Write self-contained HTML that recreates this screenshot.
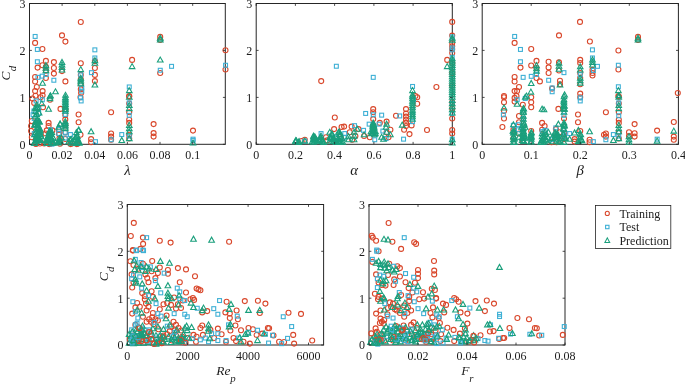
<!DOCTYPE html><html><head><meta charset="utf-8"><title>Figure</title><style>html,body{margin:0;padding:0;background:#fff}</style></head><body><svg width="685" height="384" viewBox="0 0 685 384" style="display:block;font-family:'Liberation Serif',serif">
<rect width="685" height="384" fill="#fff"/>
<rect x="29.5" y="3.5" width="195.8" height="140.8" fill="none" stroke="#262626" stroke-width="1"/>
<g><circle cx="80.8" cy="22.0" r="2.5" fill="none" stroke="#d9472b" stroke-width="1.1"/><circle cx="62.0" cy="35.4" r="2.5" fill="none" stroke="#d9472b" stroke-width="1.1"/><circle cx="65.4" cy="41.6" r="2.5" fill="none" stroke="#d9472b" stroke-width="1.1"/><circle cx="35.1" cy="42.9" r="2.5" fill="none" stroke="#d9472b" stroke-width="1.1"/><circle cx="42.4" cy="49.0" r="2.5" fill="none" stroke="#d9472b" stroke-width="1.1"/><circle cx="45.9" cy="60.9" r="2.5" fill="none" stroke="#d9472b" stroke-width="1.1"/><circle cx="53.9" cy="62.1" r="2.5" fill="none" stroke="#d9472b" stroke-width="1.1"/><circle cx="42.4" cy="65.2" r="2.5" fill="none" stroke="#d9472b" stroke-width="1.1"/><circle cx="37.6" cy="67.6" r="2.5" fill="none" stroke="#d9472b" stroke-width="1.1"/><circle cx="53.9" cy="68.0" r="2.5" fill="none" stroke="#d9472b" stroke-width="1.1"/><circle cx="53.9" cy="73.6" r="2.5" fill="none" stroke="#d9472b" stroke-width="1.1"/><circle cx="62.0" cy="71.1" r="2.5" fill="none" stroke="#d9472b" stroke-width="1.1"/><circle cx="80.8" cy="63.2" r="2.5" fill="none" stroke="#d9472b" stroke-width="1.1"/><circle cx="35.1" cy="77.0" r="2.5" fill="none" stroke="#d9472b" stroke-width="1.1"/><circle cx="35.1" cy="81.5" r="2.5" fill="none" stroke="#d9472b" stroke-width="1.1"/><circle cx="45.9" cy="78.0" r="2.5" fill="none" stroke="#d9472b" stroke-width="1.1"/><circle cx="65.4" cy="81.4" r="2.5" fill="none" stroke="#d9472b" stroke-width="1.1"/><circle cx="36.8" cy="87.0" r="2.5" fill="none" stroke="#d9472b" stroke-width="1.1"/><circle cx="35.1" cy="91.1" r="2.5" fill="none" stroke="#d9472b" stroke-width="1.1"/><circle cx="42.6" cy="91.1" r="2.5" fill="none" stroke="#d9472b" stroke-width="1.1"/><circle cx="45.9" cy="66.8" r="2.5" fill="none" stroke="#d9472b" stroke-width="1.1"/><circle cx="45.9" cy="70.8" r="2.5" fill="none" stroke="#d9472b" stroke-width="1.1"/><circle cx="80.8" cy="74.9" r="2.5" fill="none" stroke="#d9472b" stroke-width="1.1"/><circle cx="80.8" cy="79.2" r="2.5" fill="none" stroke="#d9472b" stroke-width="1.1"/><circle cx="80.8" cy="84.2" r="2.5" fill="none" stroke="#d9472b" stroke-width="1.1"/><circle cx="80.8" cy="89.2" r="2.5" fill="none" stroke="#d9472b" stroke-width="1.1"/><circle cx="81.1" cy="93.0" r="2.5" fill="none" stroke="#d9472b" stroke-width="1.1"/><circle cx="35.5" cy="95.8" r="2.5" fill="none" stroke="#d9472b" stroke-width="1.1"/><circle cx="42.6" cy="95.2" r="2.5" fill="none" stroke="#d9472b" stroke-width="1.1"/><circle cx="50.0" cy="99.8" r="2.5" fill="none" stroke="#d9472b" stroke-width="1.1"/><circle cx="32.4" cy="98.5" r="2.5" fill="none" stroke="#d9472b" stroke-width="1.1"/><circle cx="40.5" cy="97.2" r="2.5" fill="none" stroke="#d9472b" stroke-width="1.1"/><circle cx="43.0" cy="107.2" r="2.5" fill="none" stroke="#d9472b" stroke-width="1.1"/><circle cx="60.5" cy="108.9" r="2.5" fill="none" stroke="#d9472b" stroke-width="1.1"/><circle cx="78.6" cy="114.5" r="2.5" fill="none" stroke="#d9472b" stroke-width="1.1"/><circle cx="78.6" cy="122.2" r="2.5" fill="none" stroke="#d9472b" stroke-width="1.1"/><circle cx="48.6" cy="122.9" r="2.5" fill="none" stroke="#d9472b" stroke-width="1.1"/><circle cx="48.6" cy="126.0" r="2.5" fill="none" stroke="#d9472b" stroke-width="1.1"/><circle cx="46.8" cy="130.4" r="2.5" fill="none" stroke="#d9472b" stroke-width="1.1"/><circle cx="45.5" cy="133.5" r="2.5" fill="none" stroke="#d9472b" stroke-width="1.1"/><circle cx="31.1" cy="126.0" r="2.5" fill="none" stroke="#d9472b" stroke-width="1.1"/><circle cx="31.1" cy="131.0" r="2.5" fill="none" stroke="#d9472b" stroke-width="1.1"/><circle cx="80.5" cy="134.8" r="2.5" fill="none" stroke="#d9472b" stroke-width="1.1"/><circle cx="35.5" cy="143.5" r="2.5" fill="none" stroke="#d9472b" stroke-width="1.1"/><circle cx="44.2" cy="143.5" r="2.5" fill="none" stroke="#d9472b" stroke-width="1.1"/><circle cx="80.5" cy="97.2" r="2.5" fill="none" stroke="#d9472b" stroke-width="1.1"/><circle cx="34.2" cy="102.9" r="2.5" fill="none" stroke="#d9472b" stroke-width="1.1"/><circle cx="65.5" cy="109.8" r="2.5" fill="none" stroke="#d9472b" stroke-width="1.1"/><circle cx="52.4" cy="130.4" r="2.5" fill="none" stroke="#d9472b" stroke-width="1.1"/><circle cx="31.8" cy="137.2" r="2.5" fill="none" stroke="#d9472b" stroke-width="1.1"/><circle cx="31.8" cy="121.0" r="2.5" fill="none" stroke="#d9472b" stroke-width="1.1"/><circle cx="70.5" cy="144.1" r="2.5" fill="none" stroke="#d9472b" stroke-width="1.1"/><circle cx="76.8" cy="144.1" r="2.5" fill="none" stroke="#d9472b" stroke-width="1.1"/><circle cx="49.2" cy="144.1" r="2.5" fill="none" stroke="#d9472b" stroke-width="1.1"/><circle cx="65.3" cy="115.0" r="2.5" fill="none" stroke="#d9472b" stroke-width="1.1"/><circle cx="65.3" cy="119.4" r="2.5" fill="none" stroke="#d9472b" stroke-width="1.1"/><circle cx="65.3" cy="125.0" r="2.5" fill="none" stroke="#d9472b" stroke-width="1.1"/><circle cx="65.3" cy="132.5" r="2.5" fill="none" stroke="#d9472b" stroke-width="1.1"/><circle cx="65.3" cy="139.0" r="2.5" fill="none" stroke="#d9472b" stroke-width="1.1"/><circle cx="59.0" cy="130.0" r="2.5" fill="none" stroke="#d9472b" stroke-width="1.1"/><circle cx="59.0" cy="133.8" r="2.5" fill="none" stroke="#d9472b" stroke-width="1.1"/><circle cx="59.5" cy="138.0" r="2.5" fill="none" stroke="#d9472b" stroke-width="1.1"/><circle cx="72.0" cy="143.5" r="2.5" fill="none" stroke="#d9472b" stroke-width="1.1"/><circle cx="77.5" cy="143.8" r="2.5" fill="none" stroke="#d9472b" stroke-width="1.1"/><circle cx="60.0" cy="143.8" r="2.5" fill="none" stroke="#d9472b" stroke-width="1.1"/><circle cx="50.0" cy="144.0" r="2.5" fill="none" stroke="#d9472b" stroke-width="1.1"/><circle cx="36.0" cy="144.0" r="2.5" fill="none" stroke="#d9472b" stroke-width="1.1"/><circle cx="40.0" cy="143.5" r="2.5" fill="none" stroke="#d9472b" stroke-width="1.1"/><circle cx="94.9" cy="61.1" r="2.5" fill="none" stroke="#d9472b" stroke-width="1.1"/><circle cx="94.9" cy="68.0" r="2.5" fill="none" stroke="#d9472b" stroke-width="1.1"/><circle cx="94.9" cy="74.9" r="2.5" fill="none" stroke="#d9472b" stroke-width="1.1"/><circle cx="94.9" cy="81.1" r="2.5" fill="none" stroke="#d9472b" stroke-width="1.1"/><circle cx="132.1" cy="59.9" r="2.5" fill="none" stroke="#d9472b" stroke-width="1.1"/><circle cx="129.2" cy="96.0" r="2.5" fill="none" stroke="#d9472b" stroke-width="1.1"/><circle cx="111.1" cy="112.2" r="2.5" fill="none" stroke="#d9472b" stroke-width="1.1"/><circle cx="111.1" cy="133.5" r="2.5" fill="none" stroke="#d9472b" stroke-width="1.1"/><circle cx="111.1" cy="136.6" r="2.5" fill="none" stroke="#d9472b" stroke-width="1.1"/><circle cx="111.1" cy="139.8" r="2.5" fill="none" stroke="#d9472b" stroke-width="1.1"/><circle cx="91.1" cy="139.1" r="2.5" fill="none" stroke="#d9472b" stroke-width="1.1"/><circle cx="91.1" cy="142.2" r="2.5" fill="none" stroke="#d9472b" stroke-width="1.1"/><circle cx="129.2" cy="96.6" r="2.5" fill="none" stroke="#d9472b" stroke-width="1.1"/><circle cx="129.2" cy="103.5" r="2.5" fill="none" stroke="#d9472b" stroke-width="1.1"/><circle cx="129.2" cy="112.2" r="2.5" fill="none" stroke="#d9472b" stroke-width="1.1"/><circle cx="129.2" cy="119.8" r="2.5" fill="none" stroke="#d9472b" stroke-width="1.1"/><circle cx="129.2" cy="122.9" r="2.5" fill="none" stroke="#d9472b" stroke-width="1.1"/><circle cx="129.2" cy="134.8" r="2.5" fill="none" stroke="#d9472b" stroke-width="1.1"/><circle cx="129.2" cy="138.5" r="2.5" fill="none" stroke="#d9472b" stroke-width="1.1"/><circle cx="160.2" cy="36.9" r="2.5" fill="none" stroke="#d9472b" stroke-width="1.1"/><circle cx="160.2" cy="40.0" r="2.5" fill="none" stroke="#d9472b" stroke-width="1.1"/><circle cx="160.2" cy="73.0" r="2.5" fill="none" stroke="#d9472b" stroke-width="1.1"/><circle cx="225.5" cy="50.2" r="2.5" fill="none" stroke="#d9472b" stroke-width="1.1"/><circle cx="225.5" cy="69.5" r="2.5" fill="none" stroke="#d9472b" stroke-width="1.1"/><circle cx="153.6" cy="124.1" r="2.5" fill="none" stroke="#d9472b" stroke-width="1.1"/><circle cx="153.6" cy="133.1" r="2.5" fill="none" stroke="#d9472b" stroke-width="1.1"/><circle cx="153.6" cy="136.6" r="2.5" fill="none" stroke="#d9472b" stroke-width="1.1"/><circle cx="193.0" cy="130.6" r="2.5" fill="none" stroke="#d9472b" stroke-width="1.1"/><rect x="33.2" y="34.5" width="3.9" height="3.9" fill="none" stroke="#3eb0d5" stroke-width="1.1"/><rect x="35.4" y="47.5" width="3.9" height="3.9" fill="none" stroke="#3eb0d5" stroke-width="1.1"/><rect x="35.4" y="59.8" width="3.9" height="3.9" fill="none" stroke="#3eb0d5" stroke-width="1.1"/><rect x="36.0" y="75.4" width="3.9" height="3.9" fill="none" stroke="#3eb0d5" stroke-width="1.1"/><rect x="40.2" y="74.2" width="3.9" height="3.9" fill="none" stroke="#3eb0d5" stroke-width="1.1"/><rect x="44.2" y="72.5" width="3.9" height="3.9" fill="none" stroke="#3eb0d5" stroke-width="1.1"/><rect x="51.9" y="78.3" width="3.9" height="3.9" fill="none" stroke="#3eb0d5" stroke-width="1.1"/><rect x="78.8" y="72.9" width="3.9" height="3.9" fill="none" stroke="#3eb0d5" stroke-width="1.1"/><rect x="79.8" y="86.0" width="3.9" height="3.9" fill="none" stroke="#3eb0d5" stroke-width="1.1"/><rect x="79.8" y="89.2" width="3.9" height="3.9" fill="none" stroke="#3eb0d5" stroke-width="1.1"/><rect x="34.2" y="99.0" width="3.9" height="3.9" fill="none" stroke="#3eb0d5" stroke-width="1.1"/><rect x="40.4" y="97.8" width="3.9" height="3.9" fill="none" stroke="#3eb0d5" stroke-width="1.1"/><rect x="31.1" y="112.8" width="3.9" height="3.9" fill="none" stroke="#3eb0d5" stroke-width="1.1"/><rect x="32.3" y="116.5" width="3.9" height="3.9" fill="none" stroke="#3eb0d5" stroke-width="1.1"/><rect x="78.5" y="95.9" width="3.9" height="3.9" fill="none" stroke="#3eb0d5" stroke-width="1.1"/><rect x="79.2" y="99.0" width="3.9" height="3.9" fill="none" stroke="#3eb0d5" stroke-width="1.1"/><rect x="32.0" y="109.0" width="3.9" height="3.9" fill="none" stroke="#3eb0d5" stroke-width="1.1"/><rect x="36.7" y="107.2" width="3.9" height="3.9" fill="none" stroke="#3eb0d5" stroke-width="1.1"/><rect x="36.7" y="111.5" width="3.9" height="3.9" fill="none" stroke="#3eb0d5" stroke-width="1.1"/><rect x="32.3" y="131.6" width="3.9" height="3.9" fill="none" stroke="#3eb0d5" stroke-width="1.1"/><rect x="48.5" y="127.8" width="3.9" height="3.9" fill="none" stroke="#3eb0d5" stroke-width="1.1"/><rect x="63.3" y="112.5" width="3.9" height="3.9" fill="none" stroke="#3eb0d5" stroke-width="1.1"/><rect x="63.3" y="130.4" width="3.9" height="3.9" fill="none" stroke="#3eb0d5" stroke-width="1.1"/><rect x="63.3" y="136.1" width="3.9" height="3.9" fill="none" stroke="#3eb0d5" stroke-width="1.1"/><rect x="57.0" y="127.5" width="3.9" height="3.9" fill="none" stroke="#3eb0d5" stroke-width="1.1"/><rect x="57.0" y="131.6" width="3.9" height="3.9" fill="none" stroke="#3eb0d5" stroke-width="1.1"/><rect x="68.5" y="132.6" width="3.9" height="3.9" fill="none" stroke="#3eb0d5" stroke-width="1.1"/><rect x="50.0" y="142.2" width="3.9" height="3.9" fill="none" stroke="#3eb0d5" stroke-width="1.1"/><rect x="92.9" y="47.9" width="3.9" height="3.9" fill="none" stroke="#3eb0d5" stroke-width="1.1"/><rect x="92.9" y="56.0" width="3.9" height="3.9" fill="none" stroke="#3eb0d5" stroke-width="1.1"/><rect x="89.5" y="70.7" width="3.9" height="3.9" fill="none" stroke="#3eb0d5" stroke-width="1.1"/><rect x="127.3" y="85.0" width="3.9" height="3.9" fill="none" stroke="#3eb0d5" stroke-width="1.1"/><rect x="119.8" y="132.6" width="3.9" height="3.9" fill="none" stroke="#3eb0d5" stroke-width="1.1"/><rect x="109.2" y="137.8" width="3.9" height="3.9" fill="none" stroke="#3eb0d5" stroke-width="1.1"/><rect x="93.5" y="139.7" width="3.9" height="3.9" fill="none" stroke="#3eb0d5" stroke-width="1.1"/><rect x="127.3" y="100.9" width="3.9" height="3.9" fill="none" stroke="#3eb0d5" stroke-width="1.1"/><rect x="127.3" y="113.4" width="3.9" height="3.9" fill="none" stroke="#3eb0d5" stroke-width="1.1"/><rect x="127.3" y="134.1" width="3.9" height="3.9" fill="none" stroke="#3eb0d5" stroke-width="1.1"/><rect x="169.6" y="64.4" width="3.9" height="3.9" fill="none" stroke="#3eb0d5" stroke-width="1.1"/><rect x="158.3" y="68.3" width="3.9" height="3.9" fill="none" stroke="#3eb0d5" stroke-width="1.1"/><rect x="223.6" y="63.3" width="3.9" height="3.9" fill="none" stroke="#3eb0d5" stroke-width="1.1"/><rect x="191.1" y="137.2" width="3.9" height="3.9" fill="none" stroke="#3eb0d5" stroke-width="1.1"/><rect x="191.1" y="138.4" width="3.9" height="3.9" fill="none" stroke="#3eb0d5" stroke-width="1.1"/><path d="M43.1 67.6L48.7 67.6L45.9 62.6Z" fill="none" stroke="#1a9f7c" stroke-width="1.1"/><path d="M43.1 70.1L48.7 70.1L45.9 65.1Z" fill="none" stroke="#1a9f7c" stroke-width="1.1"/><path d="M43.1 72.6L48.7 72.6L45.9 67.6Z" fill="none" stroke="#1a9f7c" stroke-width="1.1"/><path d="M59.2 64.5L64.8 64.5L62.0 59.5Z" fill="none" stroke="#1a9f7c" stroke-width="1.1"/><path d="M59.2 67.0L64.8 67.0L62.0 62.0Z" fill="none" stroke="#1a9f7c" stroke-width="1.1"/><path d="M59.2 69.5L64.8 69.5L62.0 64.5Z" fill="none" stroke="#1a9f7c" stroke-width="1.1"/><path d="M59.2 72.0L64.8 72.0L62.0 67.0Z" fill="none" stroke="#1a9f7c" stroke-width="1.1"/><path d="M78.0 71.6L83.5 71.6L80.8 66.6Z" fill="none" stroke="#1a9f7c" stroke-width="1.1"/><path d="M78.0 80.1L83.5 80.1L80.8 75.1Z" fill="none" stroke="#1a9f7c" stroke-width="1.1"/><path d="M78.0 82.0L83.5 82.0L80.8 77.0Z" fill="none" stroke="#1a9f7c" stroke-width="1.1"/><path d="M78.0 83.8L83.5 83.8L80.8 78.8Z" fill="none" stroke="#1a9f7c" stroke-width="1.1"/><path d="M78.0 85.7L83.5 85.7L80.8 80.7Z" fill="none" stroke="#1a9f7c" stroke-width="1.1"/><path d="M39.8 85.3L45.4 85.3L42.6 80.3Z" fill="none" stroke="#1a9f7c" stroke-width="1.1"/><path d="M52.7 93.8L58.3 93.8L55.5 88.8Z" fill="none" stroke="#1a9f7c" stroke-width="1.1"/><path d="M47.7 97.8L53.3 97.8L50.5 92.8Z" fill="none" stroke="#1a9f7c" stroke-width="1.1"/><path d="M62.7 97.3L68.3 97.3L65.5 92.3Z" fill="none" stroke="#1a9f7c" stroke-width="1.1"/><path d="M45.8 111.2L51.4 111.2L48.6 106.2Z" fill="none" stroke="#1a9f7c" stroke-width="1.1"/><path d="M57.5 126.2L63.0 126.2L60.2 121.2Z" fill="none" stroke="#1a9f7c" stroke-width="1.1"/><path d="M55.8 129.3L61.4 129.3L58.6 124.3Z" fill="none" stroke="#1a9f7c" stroke-width="1.1"/><path d="M39.0 105.6L44.5 105.6L41.8 100.6Z" fill="none" stroke="#1a9f7c" stroke-width="1.1"/><path d="M34.0 106.8L39.5 106.8L36.8 101.8Z" fill="none" stroke="#1a9f7c" stroke-width="1.1"/><path d="M75.8 132.5L81.4 132.5L78.6 127.5Z" fill="none" stroke="#1a9f7c" stroke-width="1.1"/><path d="M47.2 98.7L52.8 98.7L50.0 93.7Z" fill="none" stroke="#1a9f7c" stroke-width="1.1"/><path d="M47.2 100.6L52.8 100.6L50.0 95.6Z" fill="none" stroke="#1a9f7c" stroke-width="1.1"/><path d="M32.8 113.6L38.4 113.6L35.6 108.6Z" fill="none" stroke="#1a9f7c" stroke-width="1.1"/><path d="M32.4 118.2L38.0 118.2L35.2 113.2Z" fill="none" stroke="#1a9f7c" stroke-width="1.1"/><path d="M33.9 116.6L39.5 116.6L36.7 111.6Z" fill="none" stroke="#1a9f7c" stroke-width="1.1"/><path d="M34.6 109.9L40.2 109.9L37.4 104.9Z" fill="none" stroke="#1a9f7c" stroke-width="1.1"/><path d="M34.2 109.6L39.8 109.6L37.0 104.6Z" fill="none" stroke="#1a9f7c" stroke-width="1.1"/><path d="M32.5 110.1L38.1 110.1L35.3 105.1Z" fill="none" stroke="#1a9f7c" stroke-width="1.1"/><path d="M36.3 115.0L41.9 115.0L39.1 110.0Z" fill="none" stroke="#1a9f7c" stroke-width="1.1"/><path d="M33.2 110.8L38.8 110.8L36.0 105.8Z" fill="none" stroke="#1a9f7c" stroke-width="1.1"/><path d="M38.0 138.3L43.6 138.3L40.8 133.3Z" fill="none" stroke="#1a9f7c" stroke-width="1.1"/><path d="M34.0 137.2L39.6 137.2L36.8 132.2Z" fill="none" stroke="#1a9f7c" stroke-width="1.1"/><path d="M31.4 145.2L37.0 145.2L34.2 140.2Z" fill="none" stroke="#1a9f7c" stroke-width="1.1"/><path d="M33.2 143.0L38.8 143.0L36.0 138.0Z" fill="none" stroke="#1a9f7c" stroke-width="1.1"/><path d="M32.0 126.6L37.6 126.6L34.8 121.6Z" fill="none" stroke="#1a9f7c" stroke-width="1.1"/><path d="M37.1 131.0L42.7 131.0L39.9 126.0Z" fill="none" stroke="#1a9f7c" stroke-width="1.1"/><path d="M35.4 127.7L40.9 127.7L38.1 122.7Z" fill="none" stroke="#1a9f7c" stroke-width="1.1"/><path d="M33.8 138.5L39.4 138.5L36.6 133.5Z" fill="none" stroke="#1a9f7c" stroke-width="1.1"/><path d="M31.6 136.6L37.2 136.6L34.4 131.6Z" fill="none" stroke="#1a9f7c" stroke-width="1.1"/><path d="M32.6 123.9L38.2 123.9L35.4 118.9Z" fill="none" stroke="#1a9f7c" stroke-width="1.1"/><path d="M34.2 139.4L39.8 139.4L37.0 134.4Z" fill="none" stroke="#1a9f7c" stroke-width="1.1"/><path d="M35.4 131.2L41.0 131.2L38.2 126.2Z" fill="none" stroke="#1a9f7c" stroke-width="1.1"/><path d="M33.3 134.5L38.9 134.5L36.1 129.5Z" fill="none" stroke="#1a9f7c" stroke-width="1.1"/><path d="M36.2 141.7L41.8 141.7L39.0 136.7Z" fill="none" stroke="#1a9f7c" stroke-width="1.1"/><path d="M35.3 129.4L40.9 129.4L38.1 124.4Z" fill="none" stroke="#1a9f7c" stroke-width="1.1"/><path d="M37.5 136.1L43.1 136.1L40.3 131.1Z" fill="none" stroke="#1a9f7c" stroke-width="1.1"/><path d="M33.2 140.4L38.8 140.4L36.0 135.4Z" fill="none" stroke="#1a9f7c" stroke-width="1.1"/><path d="M32.0 145.3L37.6 145.3L34.8 140.3Z" fill="none" stroke="#1a9f7c" stroke-width="1.1"/><path d="M36.6 133.7L42.2 133.7L39.4 128.7Z" fill="none" stroke="#1a9f7c" stroke-width="1.1"/><path d="M34.7 126.9L40.3 126.9L37.5 121.9Z" fill="none" stroke="#1a9f7c" stroke-width="1.1"/><path d="M36.0 123.1L41.6 123.1L38.8 118.1Z" fill="none" stroke="#1a9f7c" stroke-width="1.1"/><path d="M35.3 141.1L40.9 141.1L38.1 136.1Z" fill="none" stroke="#1a9f7c" stroke-width="1.1"/><path d="M33.4 143.3L39.0 143.3L36.2 138.3Z" fill="none" stroke="#1a9f7c" stroke-width="1.1"/><path d="M35.4 139.7L41.0 139.7L38.2 134.7Z" fill="none" stroke="#1a9f7c" stroke-width="1.1"/><path d="M34.4 137.3L40.0 137.3L37.2 132.3Z" fill="none" stroke="#1a9f7c" stroke-width="1.1"/><path d="M38.0 142.6L43.6 142.6L40.8 137.6Z" fill="none" stroke="#1a9f7c" stroke-width="1.1"/><path d="M36.0 134.9L41.5 134.9L38.8 129.9Z" fill="none" stroke="#1a9f7c" stroke-width="1.1"/><path d="M36.2 123.9L41.8 123.9L39.0 118.9Z" fill="none" stroke="#1a9f7c" stroke-width="1.1"/><path d="M38.4 138.7L43.9 138.7L41.1 133.7Z" fill="none" stroke="#1a9f7c" stroke-width="1.1"/><path d="M33.2 142.3L38.8 142.3L36.0 137.3Z" fill="none" stroke="#1a9f7c" stroke-width="1.1"/><path d="M36.0 132.9L41.6 132.9L38.8 127.9Z" fill="none" stroke="#1a9f7c" stroke-width="1.1"/><path d="M34.5 122.4L40.1 122.4L37.3 117.4Z" fill="none" stroke="#1a9f7c" stroke-width="1.1"/><path d="M31.9 127.3L37.5 127.3L34.8 122.3Z" fill="none" stroke="#1a9f7c" stroke-width="1.1"/><path d="M36.7 123.9L42.3 123.9L39.5 118.9Z" fill="none" stroke="#1a9f7c" stroke-width="1.1"/><path d="M32.9 126.2L38.5 126.2L35.7 121.2Z" fill="none" stroke="#1a9f7c" stroke-width="1.1"/><path d="M37.5 133.0L43.1 133.0L40.3 128.0Z" fill="none" stroke="#1a9f7c" stroke-width="1.1"/><path d="M34.4 124.6L40.0 124.6L37.2 119.6Z" fill="none" stroke="#1a9f7c" stroke-width="1.1"/><path d="M37.6 136.6L43.1 136.6L40.4 131.6Z" fill="none" stroke="#1a9f7c" stroke-width="1.1"/><path d="M37.4 142.2L43.0 142.2L40.2 137.2Z" fill="none" stroke="#1a9f7c" stroke-width="1.1"/><path d="M34.1 130.3L39.7 130.3L36.9 125.3Z" fill="none" stroke="#1a9f7c" stroke-width="1.1"/><path d="M50.4 139.9L56.0 139.9L53.2 134.9Z" fill="none" stroke="#1a9f7c" stroke-width="1.1"/><path d="M44.0 145.4L49.6 145.4L46.8 140.4Z" fill="none" stroke="#1a9f7c" stroke-width="1.1"/><path d="M46.2 137.5L51.8 137.5L49.0 132.5Z" fill="none" stroke="#1a9f7c" stroke-width="1.1"/><path d="M47.6 138.4L53.2 138.4L50.4 133.4Z" fill="none" stroke="#1a9f7c" stroke-width="1.1"/><path d="M45.7 142.3L51.3 142.3L48.5 137.3Z" fill="none" stroke="#1a9f7c" stroke-width="1.1"/><path d="M47.5 133.6L53.1 133.6L50.3 128.6Z" fill="none" stroke="#1a9f7c" stroke-width="1.1"/><path d="M48.2 140.0L53.8 140.0L51.0 135.0Z" fill="none" stroke="#1a9f7c" stroke-width="1.1"/><path d="M49.7 145.3L55.3 145.3L52.5 140.3Z" fill="none" stroke="#1a9f7c" stroke-width="1.1"/><path d="M48.7 141.6L54.3 141.6L51.5 136.6Z" fill="none" stroke="#1a9f7c" stroke-width="1.1"/><path d="M43.6 143.1L49.2 143.1L46.4 138.1Z" fill="none" stroke="#1a9f7c" stroke-width="1.1"/><path d="M50.6 144.9L56.2 144.9L53.4 139.9Z" fill="none" stroke="#1a9f7c" stroke-width="1.1"/><path d="M50.7 144.7L56.3 144.7L53.5 139.7Z" fill="none" stroke="#1a9f7c" stroke-width="1.1"/><path d="M47.0 140.3L52.6 140.3L49.8 135.3Z" fill="none" stroke="#1a9f7c" stroke-width="1.1"/><path d="M48.3 136.3L53.9 136.3L51.1 131.3Z" fill="none" stroke="#1a9f7c" stroke-width="1.1"/><path d="M45.9 135.5L51.5 135.5L48.7 130.5Z" fill="none" stroke="#1a9f7c" stroke-width="1.1"/><path d="M45.7 138.0L51.3 138.0L48.5 133.0Z" fill="none" stroke="#1a9f7c" stroke-width="1.1"/><path d="M44.6 139.7L50.2 139.7L47.4 134.7Z" fill="none" stroke="#1a9f7c" stroke-width="1.1"/><path d="M46.7 133.2L52.3 133.2L49.5 128.2Z" fill="none" stroke="#1a9f7c" stroke-width="1.1"/><path d="M47.1 136.3L52.6 136.3L49.9 131.3Z" fill="none" stroke="#1a9f7c" stroke-width="1.1"/><path d="M49.1 134.5L54.6 134.5L51.9 129.5Z" fill="none" stroke="#1a9f7c" stroke-width="1.1"/><path d="M44.6 142.5L50.2 142.5L47.4 137.5Z" fill="none" stroke="#1a9f7c" stroke-width="1.1"/><path d="M46.8 138.6L52.3 138.6L49.5 133.6Z" fill="none" stroke="#1a9f7c" stroke-width="1.1"/><path d="M45.0 140.0L50.6 140.0L47.8 135.0Z" fill="none" stroke="#1a9f7c" stroke-width="1.1"/><path d="M52.7 144.5L58.2 144.5L55.5 139.5Z" fill="none" stroke="#1a9f7c" stroke-width="1.1"/><path d="M57.6 143.3L63.2 143.3L60.4 138.3Z" fill="none" stroke="#1a9f7c" stroke-width="1.1"/><path d="M56.7 140.6L62.3 140.6L59.5 135.6Z" fill="none" stroke="#1a9f7c" stroke-width="1.1"/><path d="M56.8 142.6L62.4 142.6L59.6 137.6Z" fill="none" stroke="#1a9f7c" stroke-width="1.1"/><path d="M55.8 145.0L61.4 145.0L58.6 140.0Z" fill="none" stroke="#1a9f7c" stroke-width="1.1"/><path d="M58.6 139.8L64.2 139.8L61.4 134.8Z" fill="none" stroke="#1a9f7c" stroke-width="1.1"/><path d="M56.1 143.6L61.7 143.6L58.9 138.6Z" fill="none" stroke="#1a9f7c" stroke-width="1.1"/><path d="M66.0 143.7L71.5 143.7L68.8 138.7Z" fill="none" stroke="#1a9f7c" stroke-width="1.1"/><path d="M69.5 143.6L75.0 143.6L72.2 138.6Z" fill="none" stroke="#1a9f7c" stroke-width="1.1"/><path d="M68.6 145.1L74.2 145.1L71.4 140.1Z" fill="none" stroke="#1a9f7c" stroke-width="1.1"/><path d="M67.3 142.0L72.9 142.0L70.1 137.0Z" fill="none" stroke="#1a9f7c" stroke-width="1.1"/><path d="M68.4 141.4L74.0 141.4L71.2 136.4Z" fill="none" stroke="#1a9f7c" stroke-width="1.1"/><path d="M75.1 141.7L80.7 141.7L77.9 136.7Z" fill="none" stroke="#1a9f7c" stroke-width="1.1"/><path d="M73.1 139.6L78.7 139.6L75.9 134.6Z" fill="none" stroke="#1a9f7c" stroke-width="1.1"/><path d="M76.3 144.2L81.9 144.2L79.1 139.2Z" fill="none" stroke="#1a9f7c" stroke-width="1.1"/><path d="M75.5 144.5L81.1 144.5L78.3 139.5Z" fill="none" stroke="#1a9f7c" stroke-width="1.1"/><path d="M75.1 144.3L80.7 144.3L77.9 139.3Z" fill="none" stroke="#1a9f7c" stroke-width="1.1"/><path d="M74.0 138.3L79.6 138.3L76.8 133.3Z" fill="none" stroke="#1a9f7c" stroke-width="1.1"/><path d="M72.4 139.9L78.0 139.9L75.2 134.9Z" fill="none" stroke="#1a9f7c" stroke-width="1.1"/><path d="M73.6 134.6L79.2 134.6L76.4 129.6Z" fill="none" stroke="#1a9f7c" stroke-width="1.1"/><path d="M74.6 138.7L80.2 138.7L77.4 133.7Z" fill="none" stroke="#1a9f7c" stroke-width="1.1"/><path d="M73.7 145.4L79.3 145.4L76.5 140.4Z" fill="none" stroke="#1a9f7c" stroke-width="1.1"/><path d="M76.5 145.2L82.1 145.2L79.3 140.2Z" fill="none" stroke="#1a9f7c" stroke-width="1.1"/><path d="M62.6 99.6L68.2 99.6L65.4 94.6Z" fill="none" stroke="#1a9f7c" stroke-width="1.1"/><path d="M62.6 101.3L68.2 101.3L65.4 96.3Z" fill="none" stroke="#1a9f7c" stroke-width="1.1"/><path d="M62.6 103.0L68.2 103.0L65.4 98.0Z" fill="none" stroke="#1a9f7c" stroke-width="1.1"/><path d="M62.6 104.7L68.2 104.7L65.4 99.7Z" fill="none" stroke="#1a9f7c" stroke-width="1.1"/><path d="M62.6 106.4L68.2 106.4L65.4 101.4Z" fill="none" stroke="#1a9f7c" stroke-width="1.1"/><path d="M62.6 108.1L68.2 108.1L65.4 103.1Z" fill="none" stroke="#1a9f7c" stroke-width="1.1"/><path d="M62.6 109.8L68.2 109.8L65.4 104.8Z" fill="none" stroke="#1a9f7c" stroke-width="1.1"/><path d="M62.6 111.5L68.2 111.5L65.4 106.5Z" fill="none" stroke="#1a9f7c" stroke-width="1.1"/><path d="M62.6 113.2L68.2 113.2L65.4 108.2Z" fill="none" stroke="#1a9f7c" stroke-width="1.1"/><path d="M62.5 123.6L68.1 123.6L65.3 118.6Z" fill="none" stroke="#1a9f7c" stroke-width="1.1"/><path d="M62.5 125.4L68.1 125.4L65.3 120.4Z" fill="none" stroke="#1a9f7c" stroke-width="1.1"/><path d="M62.5 127.1L68.1 127.1L65.3 122.1Z" fill="none" stroke="#1a9f7c" stroke-width="1.1"/><path d="M62.5 128.9L68.1 128.9L65.3 123.9Z" fill="none" stroke="#1a9f7c" stroke-width="1.1"/><path d="M62.5 130.6L68.1 130.6L65.3 125.6Z" fill="none" stroke="#1a9f7c" stroke-width="1.1"/><path d="M57.2 126.1L62.8 126.1L60.0 121.1Z" fill="none" stroke="#1a9f7c" stroke-width="1.1"/><path d="M76.0 132.1L81.6 132.1L78.8 127.1Z" fill="none" stroke="#1a9f7c" stroke-width="1.1"/><path d="M92.1 62.6L97.7 62.6L94.9 57.6Z" fill="none" stroke="#1a9f7c" stroke-width="1.1"/><path d="M92.1 65.3L97.7 65.3L94.9 60.4Z" fill="none" stroke="#1a9f7c" stroke-width="1.1"/><path d="M92.1 87.0L97.7 87.0L94.9 82.0Z" fill="none" stroke="#1a9f7c" stroke-width="1.1"/><path d="M129.3 68.6L134.9 68.6L132.1 63.6Z" fill="none" stroke="#1a9f7c" stroke-width="1.1"/><path d="M126.5 92.6L132.1 92.6L129.2 87.6Z" fill="none" stroke="#1a9f7c" stroke-width="1.1"/><path d="M88.3 133.7L93.9 133.7L91.1 128.7Z" fill="none" stroke="#1a9f7c" stroke-width="1.1"/><path d="M119.0 142.5L124.5 142.5L121.8 137.5Z" fill="none" stroke="#1a9f7c" stroke-width="1.1"/><path d="M126.5 99.3L132.1 99.3L129.2 94.3Z" fill="none" stroke="#1a9f7c" stroke-width="1.1"/><path d="M126.5 107.5L132.1 107.5L129.2 102.5Z" fill="none" stroke="#1a9f7c" stroke-width="1.1"/><path d="M126.5 110.6L132.1 110.6L129.2 105.6Z" fill="none" stroke="#1a9f7c" stroke-width="1.1"/><path d="M126.5 127.5L132.1 127.5L129.2 122.5Z" fill="none" stroke="#1a9f7c" stroke-width="1.1"/><path d="M126.5 130.6L132.1 130.6L129.2 125.6Z" fill="none" stroke="#1a9f7c" stroke-width="1.1"/><path d="M126.5 133.7L132.1 133.7L129.2 128.7Z" fill="none" stroke="#1a9f7c" stroke-width="1.1"/><path d="M126.5 140.6L132.1 140.6L129.2 135.6Z" fill="none" stroke="#1a9f7c" stroke-width="1.1"/><path d="M157.4 40.2L163.1 40.2L160.2 35.2Z" fill="none" stroke="#1a9f7c" stroke-width="1.1"/><path d="M157.4 41.9L163.1 41.9L160.2 36.9Z" fill="none" stroke="#1a9f7c" stroke-width="1.1"/><path d="M157.4 62.0L163.1 62.0L160.2 57.0Z" fill="none" stroke="#1a9f7c" stroke-width="1.1"/><path d="M190.2 145.0L195.8 145.0L193.0 140.0Z" fill="none" stroke="#1a9f7c" stroke-width="1.1"/></g>
<path d="M29.5 144.3v-2.4M29.5 3.5v2.4" stroke="#222" stroke-width="0.8"/><text x="29.5" y="159.1" font-size="12" text-anchor="middle" fill="#1c1c1c">0</text><path d="M62.1 144.3v-2.4M62.1 3.5v2.4" stroke="#222" stroke-width="0.8"/><text x="62.1" y="159.1" font-size="12" text-anchor="middle" fill="#1c1c1c">0.02</text><path d="M94.8 144.3v-2.4M94.8 3.5v2.4" stroke="#222" stroke-width="0.8"/><text x="94.8" y="159.1" font-size="12" text-anchor="middle" fill="#1c1c1c">0.04</text><path d="M127.4 144.3v-2.4M127.4 3.5v2.4" stroke="#222" stroke-width="0.8"/><text x="127.4" y="159.1" font-size="12" text-anchor="middle" fill="#1c1c1c">0.06</text><path d="M160.0 144.3v-2.4M160.0 3.5v2.4" stroke="#222" stroke-width="0.8"/><text x="160.0" y="159.1" font-size="12" text-anchor="middle" fill="#1c1c1c">0.08</text><path d="M192.7 144.3v-2.4M192.7 3.5v2.4" stroke="#222" stroke-width="0.8"/><text x="192.7" y="159.1" font-size="12" text-anchor="middle" fill="#1c1c1c">0.1</text><path d="M29.5 144.3h2.4M225.3 144.3h-2.4" stroke="#222" stroke-width="0.8"/><text x="25.6" y="148.7" font-size="12" text-anchor="end" fill="#1c1c1c">0</text><path d="M29.5 97.4h2.4M225.3 97.4h-2.4" stroke="#222" stroke-width="0.8"/><text x="25.6" y="101.8" font-size="12" text-anchor="end" fill="#1c1c1c">1</text><path d="M29.5 50.4h2.4M225.3 50.4h-2.4" stroke="#222" stroke-width="0.8"/><text x="25.6" y="54.8" font-size="12" text-anchor="end" fill="#1c1c1c">2</text><path d="M29.5 3.5h2.4M225.3 3.5h-2.4" stroke="#222" stroke-width="0.8"/><text x="25.6" y="7.9" font-size="12" text-anchor="end" fill="#1c1c1c">3</text><text x="127.4" y="174.5" font-size="14.8" font-style="italic" text-anchor="middle" fill="#1c1c1c">λ</text><text transform="translate(9.7,73.1) rotate(-90)" font-size="13.4" font-style="italic" text-anchor="middle" fill="#1c1c1c">C<tspan font-size="10.8" dx="0.3" dy="6">d</tspan></text>
<rect x="256.2" y="3.5" width="196.1" height="140.8" fill="none" stroke="#262626" stroke-width="1"/>
<g><circle cx="334.8" cy="117.5" r="2.5" fill="none" stroke="#d9472b" stroke-width="1.1"/><circle cx="341.6" cy="127.0" r="2.5" fill="none" stroke="#d9472b" stroke-width="1.1"/><circle cx="344.1" cy="126.6" r="2.5" fill="none" stroke="#d9472b" stroke-width="1.1"/><circle cx="334.1" cy="129.1" r="2.5" fill="none" stroke="#d9472b" stroke-width="1.1"/><circle cx="304.8" cy="139.8" r="2.5" fill="none" stroke="#d9472b" stroke-width="1.1"/><circle cx="301.6" cy="141.0" r="2.5" fill="none" stroke="#d9472b" stroke-width="1.1"/><circle cx="326.0" cy="137.2" r="2.5" fill="none" stroke="#d9472b" stroke-width="1.1"/><circle cx="327.2" cy="140.4" r="2.5" fill="none" stroke="#d9472b" stroke-width="1.1"/><circle cx="341.0" cy="138.5" r="2.5" fill="none" stroke="#d9472b" stroke-width="1.1"/><circle cx="373.2" cy="109.1" r="2.5" fill="none" stroke="#d9472b" stroke-width="1.1"/><circle cx="373.2" cy="112.2" r="2.5" fill="none" stroke="#d9472b" stroke-width="1.1"/><circle cx="373.2" cy="119.1" r="2.5" fill="none" stroke="#d9472b" stroke-width="1.1"/><circle cx="379.8" cy="122.9" r="2.5" fill="none" stroke="#d9472b" stroke-width="1.1"/><circle cx="386.6" cy="121.6" r="2.5" fill="none" stroke="#d9472b" stroke-width="1.1"/><circle cx="396.0" cy="115.8" r="2.5" fill="none" stroke="#d9472b" stroke-width="1.1"/><circle cx="351.6" cy="126.6" r="2.5" fill="none" stroke="#d9472b" stroke-width="1.1"/><circle cx="358.5" cy="129.1" r="2.5" fill="none" stroke="#d9472b" stroke-width="1.1"/><circle cx="349.8" cy="132.2" r="2.5" fill="none" stroke="#d9472b" stroke-width="1.1"/><circle cx="355.4" cy="136.0" r="2.5" fill="none" stroke="#d9472b" stroke-width="1.1"/><circle cx="364.1" cy="136.0" r="2.5" fill="none" stroke="#d9472b" stroke-width="1.1"/><circle cx="390.4" cy="129.8" r="2.5" fill="none" stroke="#d9472b" stroke-width="1.1"/><circle cx="386.6" cy="132.2" r="2.5" fill="none" stroke="#d9472b" stroke-width="1.1"/><circle cx="404.1" cy="129.8" r="2.5" fill="none" stroke="#d9472b" stroke-width="1.1"/><circle cx="406.0" cy="109.1" r="2.5" fill="none" stroke="#d9472b" stroke-width="1.1"/><circle cx="406.0" cy="113.5" r="2.5" fill="none" stroke="#d9472b" stroke-width="1.1"/><circle cx="406.0" cy="116.6" r="2.5" fill="none" stroke="#d9472b" stroke-width="1.1"/><circle cx="352.2" cy="139.8" r="2.5" fill="none" stroke="#d9472b" stroke-width="1.1"/><circle cx="369.8" cy="137.2" r="2.5" fill="none" stroke="#d9472b" stroke-width="1.1"/><circle cx="388.5" cy="137.2" r="2.5" fill="none" stroke="#d9472b" stroke-width="1.1"/><circle cx="406.0" cy="119.8" r="2.5" fill="none" stroke="#d9472b" stroke-width="1.1"/><circle cx="406.0" cy="122.9" r="2.5" fill="none" stroke="#d9472b" stroke-width="1.1"/><circle cx="406.0" cy="126.0" r="2.5" fill="none" stroke="#d9472b" stroke-width="1.1"/><circle cx="417.2" cy="103.8" r="2.5" fill="none" stroke="#d9472b" stroke-width="1.1"/><circle cx="417.2" cy="97.2" r="2.5" fill="none" stroke="#d9472b" stroke-width="1.1"/><circle cx="411.6" cy="125.4" r="2.5" fill="none" stroke="#d9472b" stroke-width="1.1"/><circle cx="409.5" cy="134.1" r="2.5" fill="none" stroke="#d9472b" stroke-width="1.1"/><circle cx="427.0" cy="130.0" r="2.5" fill="none" stroke="#d9472b" stroke-width="1.1"/><circle cx="452.2" cy="118.5" r="2.5" fill="none" stroke="#d9472b" stroke-width="1.1"/><circle cx="452.2" cy="130.0" r="2.5" fill="none" stroke="#d9472b" stroke-width="1.1"/><circle cx="452.2" cy="133.5" r="2.5" fill="none" stroke="#d9472b" stroke-width="1.1"/><circle cx="452.2" cy="102.2" r="2.5" fill="none" stroke="#d9472b" stroke-width="1.1"/><circle cx="452.2" cy="108.5" r="2.5" fill="none" stroke="#d9472b" stroke-width="1.1"/><circle cx="321.2" cy="81.1" r="2.5" fill="none" stroke="#d9472b" stroke-width="1.1"/><circle cx="447.2" cy="59.9" r="2.5" fill="none" stroke="#d9472b" stroke-width="1.1"/><circle cx="436.4" cy="87.0" r="2.5" fill="none" stroke="#d9472b" stroke-width="1.1"/><circle cx="415.4" cy="96.0" r="2.5" fill="none" stroke="#d9472b" stroke-width="1.1"/><circle cx="452.2" cy="49.2" r="2.5" fill="none" stroke="#d9472b" stroke-width="1.1"/><circle cx="452.2" cy="53.0" r="2.5" fill="none" stroke="#d9472b" stroke-width="1.1"/><circle cx="452.2" cy="63.0" r="2.5" fill="none" stroke="#d9472b" stroke-width="1.1"/><circle cx="452.2" cy="73.0" r="2.5" fill="none" stroke="#d9472b" stroke-width="1.1"/><circle cx="452.2" cy="85.5" r="2.5" fill="none" stroke="#d9472b" stroke-width="1.1"/><circle cx="452.2" cy="21.9" r="2.5" fill="none" stroke="#d9472b" stroke-width="1.1"/><circle cx="452.2" cy="35.6" r="2.5" fill="none" stroke="#d9472b" stroke-width="1.1"/><circle cx="452.2" cy="43.1" r="2.5" fill="none" stroke="#d9472b" stroke-width="1.1"/><circle cx="452.2" cy="46.2" r="2.5" fill="none" stroke="#d9472b" stroke-width="1.1"/><rect x="302.8" y="139.1" width="3.9" height="3.9" fill="none" stroke="#3eb0d5" stroke-width="1.1"/><rect x="319.1" y="131.6" width="3.9" height="3.9" fill="none" stroke="#3eb0d5" stroke-width="1.1"/><rect x="329.1" y="137.2" width="3.9" height="3.9" fill="none" stroke="#3eb0d5" stroke-width="1.1"/><rect x="334.1" y="135.3" width="3.9" height="3.9" fill="none" stroke="#3eb0d5" stroke-width="1.1"/><rect x="342.2" y="135.3" width="3.9" height="3.9" fill="none" stroke="#3eb0d5" stroke-width="1.1"/><rect x="342.8" y="131.6" width="3.9" height="3.9" fill="none" stroke="#3eb0d5" stroke-width="1.1"/><rect x="363.7" y="111.5" width="3.9" height="3.9" fill="none" stroke="#3eb0d5" stroke-width="1.1"/><rect x="371.3" y="112.8" width="3.9" height="3.9" fill="none" stroke="#3eb0d5" stroke-width="1.1"/><rect x="379.7" y="113.2" width="3.9" height="3.9" fill="none" stroke="#3eb0d5" stroke-width="1.1"/><rect x="397.8" y="114.0" width="3.9" height="3.9" fill="none" stroke="#3eb0d5" stroke-width="1.1"/><rect x="352.6" y="123.7" width="3.9" height="3.9" fill="none" stroke="#3eb0d5" stroke-width="1.1"/><rect x="367.2" y="122.2" width="3.9" height="3.9" fill="none" stroke="#3eb0d5" stroke-width="1.1"/><rect x="377.2" y="122.2" width="3.9" height="3.9" fill="none" stroke="#3eb0d5" stroke-width="1.1"/><rect x="361.6" y="128.4" width="3.9" height="3.9" fill="none" stroke="#3eb0d5" stroke-width="1.1"/><rect x="380.9" y="129.1" width="3.9" height="3.9" fill="none" stroke="#3eb0d5" stroke-width="1.1"/><rect x="401.6" y="137.2" width="3.9" height="3.9" fill="none" stroke="#3eb0d5" stroke-width="1.1"/><rect x="372.8" y="137.8" width="3.9" height="3.9" fill="none" stroke="#3eb0d5" stroke-width="1.1"/><rect x="384.1" y="136.6" width="3.9" height="3.9" fill="none" stroke="#3eb0d5" stroke-width="1.1"/><rect x="410.6" y="112.8" width="3.9" height="3.9" fill="none" stroke="#3eb0d5" stroke-width="1.1"/><rect x="410.6" y="119.7" width="3.9" height="3.9" fill="none" stroke="#3eb0d5" stroke-width="1.1"/><rect x="411.6" y="97.8" width="3.9" height="3.9" fill="none" stroke="#3eb0d5" stroke-width="1.1"/><rect x="450.3" y="101.5" width="3.9" height="3.9" fill="none" stroke="#3eb0d5" stroke-width="1.1"/><rect x="450.3" y="111.5" width="3.9" height="3.9" fill="none" stroke="#3eb0d5" stroke-width="1.1"/><rect x="450.3" y="137.2" width="3.9" height="3.9" fill="none" stroke="#3eb0d5" stroke-width="1.1"/><rect x="334.4" y="64.3" width="3.9" height="3.9" fill="none" stroke="#3eb0d5" stroke-width="1.1"/><rect x="371.3" y="75.4" width="3.9" height="3.9" fill="none" stroke="#3eb0d5" stroke-width="1.1"/><rect x="410.6" y="84.5" width="3.9" height="3.9" fill="none" stroke="#3eb0d5" stroke-width="1.1"/><rect x="450.3" y="55.4" width="3.9" height="3.9" fill="none" stroke="#3eb0d5" stroke-width="1.1"/><rect x="450.3" y="47.9" width="3.9" height="3.9" fill="none" stroke="#3eb0d5" stroke-width="1.1"/><rect x="450.3" y="34.9" width="3.9" height="3.9" fill="none" stroke="#3eb0d5" stroke-width="1.1"/><rect x="450.3" y="46.0" width="3.9" height="3.9" fill="none" stroke="#3eb0d5" stroke-width="1.1"/><path d="M292.6 143.7L298.2 143.7L295.4 138.7Z" fill="none" stroke="#1a9f7c" stroke-width="1.1"/><path d="M296.3 143.7L301.9 143.7L299.1 138.7Z" fill="none" stroke="#1a9f7c" stroke-width="1.1"/><path d="M301.9 143.1L307.6 143.1L304.8 138.1Z" fill="none" stroke="#1a9f7c" stroke-width="1.1"/><path d="M310.7 138.1L316.3 138.1L313.5 133.1Z" fill="none" stroke="#1a9f7c" stroke-width="1.1"/><path d="M310.7 141.2L316.3 141.2L313.5 136.2Z" fill="none" stroke="#1a9f7c" stroke-width="1.1"/><path d="M312.6 140.6L318.2 140.6L315.4 135.6Z" fill="none" stroke="#1a9f7c" stroke-width="1.1"/><path d="M318.2 138.1L323.8 138.1L321.0 133.1Z" fill="none" stroke="#1a9f7c" stroke-width="1.1"/><path d="M318.2 141.2L323.8 141.2L321.0 136.2Z" fill="none" stroke="#1a9f7c" stroke-width="1.1"/><path d="M326.9 134.3L332.6 134.3L329.8 129.3Z" fill="none" stroke="#1a9f7c" stroke-width="1.1"/><path d="M329.4 136.8L335.1 136.8L332.2 131.8Z" fill="none" stroke="#1a9f7c" stroke-width="1.1"/><path d="M330.7 140.6L336.3 140.6L333.5 135.6Z" fill="none" stroke="#1a9f7c" stroke-width="1.1"/><path d="M335.7 134.3L341.3 134.3L338.5 129.3Z" fill="none" stroke="#1a9f7c" stroke-width="1.1"/><path d="M336.9 138.1L342.6 138.1L339.8 133.1Z" fill="none" stroke="#1a9f7c" stroke-width="1.1"/><path d="M339.4 140.6L345.1 140.6L342.2 135.6Z" fill="none" stroke="#1a9f7c" stroke-width="1.1"/><path d="M309.4 143.7L315.1 143.7L312.2 138.7Z" fill="none" stroke="#1a9f7c" stroke-width="1.1"/><path d="M319.4 143.7L325.1 143.7L322.2 138.7Z" fill="none" stroke="#1a9f7c" stroke-width="1.1"/><path d="M314.4 143.1L320.1 143.1L317.2 138.1Z" fill="none" stroke="#1a9f7c" stroke-width="1.1"/><path d="M326.9 143.1L332.6 143.1L329.8 138.1Z" fill="none" stroke="#1a9f7c" stroke-width="1.1"/><path d="M333.2 143.1L338.8 143.1L336.0 138.1Z" fill="none" stroke="#1a9f7c" stroke-width="1.1"/><path d="M338.2 143.7L343.8 143.7L341.0 138.7Z" fill="none" stroke="#1a9f7c" stroke-width="1.1"/><path d="M370.4 125.0L376.1 125.0L373.2 120.0Z" fill="none" stroke="#1a9f7c" stroke-width="1.1"/><path d="M370.4 127.5L376.1 127.5L373.2 122.5Z" fill="none" stroke="#1a9f7c" stroke-width="1.1"/><path d="M370.4 130.0L376.1 130.0L373.2 125.0Z" fill="none" stroke="#1a9f7c" stroke-width="1.1"/><path d="M370.4 132.5L376.1 132.5L373.2 127.5Z" fill="none" stroke="#1a9f7c" stroke-width="1.1"/><path d="M370.4 135.0L376.1 135.0L373.2 130.0Z" fill="none" stroke="#1a9f7c" stroke-width="1.1"/><path d="M368.8 135.6L374.4 135.6L371.6 130.6Z" fill="none" stroke="#1a9f7c" stroke-width="1.1"/><path d="M372.6 135.6L378.2 135.6L375.4 130.6Z" fill="none" stroke="#1a9f7c" stroke-width="1.1"/><path d="M399.4 127.1L405.1 127.1L402.2 122.1Z" fill="none" stroke="#1a9f7c" stroke-width="1.1"/><path d="M383.8 126.2L389.4 126.2L386.6 121.2Z" fill="none" stroke="#1a9f7c" stroke-width="1.1"/><path d="M383.2 129.3L388.8 129.3L386.0 124.3Z" fill="none" stroke="#1a9f7c" stroke-width="1.1"/><path d="M383.8 134.3L389.4 134.3L386.6 129.3Z" fill="none" stroke="#1a9f7c" stroke-width="1.1"/><path d="M387.6 136.8L393.2 136.8L390.4 131.8Z" fill="none" stroke="#1a9f7c" stroke-width="1.1"/><path d="M378.8 139.3L384.4 139.3L381.6 134.3Z" fill="none" stroke="#1a9f7c" stroke-width="1.1"/><path d="M361.3 136.8L366.9 136.8L364.1 131.8Z" fill="none" stroke="#1a9f7c" stroke-width="1.1"/><path d="M354.4 131.2L360.1 131.2L357.2 126.2Z" fill="none" stroke="#1a9f7c" stroke-width="1.1"/><path d="M351.3 134.3L356.9 134.3L354.1 129.3Z" fill="none" stroke="#1a9f7c" stroke-width="1.1"/><path d="M351.3 138.1L356.9 138.1L354.1 133.1Z" fill="none" stroke="#1a9f7c" stroke-width="1.1"/><path d="M345.7 138.7L351.3 138.7L348.5 133.7Z" fill="none" stroke="#1a9f7c" stroke-width="1.1"/><path d="M351.3 141.8L356.9 141.8L354.1 136.8Z" fill="none" stroke="#1a9f7c" stroke-width="1.1"/><path d="M345.7 141.8L351.3 141.8L348.5 136.8Z" fill="none" stroke="#1a9f7c" stroke-width="1.1"/><path d="M380.7 141.2L386.3 141.2L383.5 136.2Z" fill="none" stroke="#1a9f7c" stroke-width="1.1"/><path d="M370.4 126.2L376.1 126.2L373.2 121.2Z" fill="none" stroke="#1a9f7c" stroke-width="1.1"/><path d="M370.4 128.7L376.1 128.7L373.2 123.7Z" fill="none" stroke="#1a9f7c" stroke-width="1.1"/><path d="M370.4 131.2L376.1 131.2L373.2 126.2Z" fill="none" stroke="#1a9f7c" stroke-width="1.1"/><path d="M370.4 133.7L376.1 133.7L373.2 128.7Z" fill="none" stroke="#1a9f7c" stroke-width="1.1"/><path d="M368.2 133.7L373.8 133.7L371.0 128.7Z" fill="none" stroke="#1a9f7c" stroke-width="1.1"/><path d="M372.7 133.7L378.3 133.7L375.5 128.7Z" fill="none" stroke="#1a9f7c" stroke-width="1.1"/><path d="M409.7 98.7L415.3 98.7L412.5 93.7Z" fill="none" stroke="#1a9f7c" stroke-width="1.1"/><path d="M409.7 100.8L415.3 100.8L412.5 95.8Z" fill="none" stroke="#1a9f7c" stroke-width="1.1"/><path d="M409.7 103.1L415.3 103.1L412.5 98.1Z" fill="none" stroke="#1a9f7c" stroke-width="1.1"/><path d="M409.7 105.3L415.3 105.3L412.5 100.3Z" fill="none" stroke="#1a9f7c" stroke-width="1.1"/><path d="M409.7 107.6L415.3 107.6L412.5 102.6Z" fill="none" stroke="#1a9f7c" stroke-width="1.1"/><path d="M409.7 109.8L415.3 109.8L412.5 104.8Z" fill="none" stroke="#1a9f7c" stroke-width="1.1"/><path d="M409.7 112.1L415.3 112.1L412.5 107.1Z" fill="none" stroke="#1a9f7c" stroke-width="1.1"/><path d="M409.7 114.3L415.3 114.3L412.5 109.3Z" fill="none" stroke="#1a9f7c" stroke-width="1.1"/><path d="M409.7 116.6L415.3 116.6L412.5 111.6Z" fill="none" stroke="#1a9f7c" stroke-width="1.1"/><path d="M409.7 118.8L415.3 118.8L412.5 113.8Z" fill="none" stroke="#1a9f7c" stroke-width="1.1"/><path d="M409.7 121.1L415.3 121.1L412.5 116.1Z" fill="none" stroke="#1a9f7c" stroke-width="1.1"/><path d="M449.4 99.3L455.1 99.3L452.2 94.3Z" fill="none" stroke="#1a9f7c" stroke-width="1.1"/><path d="M449.4 102.5L455.1 102.5L452.2 97.5Z" fill="none" stroke="#1a9f7c" stroke-width="1.1"/><path d="M449.4 105.6L455.1 105.6L452.2 100.6Z" fill="none" stroke="#1a9f7c" stroke-width="1.1"/><path d="M449.4 108.7L455.1 108.7L452.2 103.7Z" fill="none" stroke="#1a9f7c" stroke-width="1.1"/><path d="M449.4 111.8L455.1 111.8L452.2 106.8Z" fill="none" stroke="#1a9f7c" stroke-width="1.1"/><path d="M449.4 115.0L455.1 115.0L452.2 110.0Z" fill="none" stroke="#1a9f7c" stroke-width="1.1"/><path d="M449.4 141.8L455.1 141.8L452.2 136.8Z" fill="none" stroke="#1a9f7c" stroke-width="1.1"/><path d="M449.4 145.0L455.1 145.0L452.2 140.0Z" fill="none" stroke="#1a9f7c" stroke-width="1.1"/><path d="M409.7 92.6L415.3 92.6L412.5 87.6Z" fill="none" stroke="#1a9f7c" stroke-width="1.1"/><path d="M409.7 97.0L415.3 97.0L412.5 92.0Z" fill="none" stroke="#1a9f7c" stroke-width="1.1"/><path d="M444.4 68.6L450.1 68.6L447.2 63.6Z" fill="none" stroke="#1a9f7c" stroke-width="1.1"/><path d="M449.4 60.7L455.1 60.7L452.2 55.7Z" fill="none" stroke="#1a9f7c" stroke-width="1.1"/><path d="M449.4 63.0L455.1 63.0L452.2 58.0Z" fill="none" stroke="#1a9f7c" stroke-width="1.1"/><path d="M449.4 65.2L455.1 65.2L452.2 60.2Z" fill="none" stroke="#1a9f7c" stroke-width="1.1"/><path d="M449.4 67.5L455.1 67.5L452.2 62.5Z" fill="none" stroke="#1a9f7c" stroke-width="1.1"/><path d="M449.4 69.7L455.1 69.7L452.2 64.7Z" fill="none" stroke="#1a9f7c" stroke-width="1.1"/><path d="M449.4 72.0L455.1 72.0L452.2 67.0Z" fill="none" stroke="#1a9f7c" stroke-width="1.1"/><path d="M449.4 74.2L455.1 74.2L452.2 69.2Z" fill="none" stroke="#1a9f7c" stroke-width="1.1"/><path d="M449.4 76.5L455.1 76.5L452.2 71.5Z" fill="none" stroke="#1a9f7c" stroke-width="1.1"/><path d="M449.4 78.7L455.1 78.7L452.2 73.7Z" fill="none" stroke="#1a9f7c" stroke-width="1.1"/><path d="M449.4 81.0L455.1 81.0L452.2 76.0Z" fill="none" stroke="#1a9f7c" stroke-width="1.1"/><path d="M449.4 83.2L455.1 83.2L452.2 78.2Z" fill="none" stroke="#1a9f7c" stroke-width="1.1"/><path d="M449.4 85.5L455.1 85.5L452.2 80.5Z" fill="none" stroke="#1a9f7c" stroke-width="1.1"/><path d="M449.4 87.7L455.1 87.7L452.2 82.7Z" fill="none" stroke="#1a9f7c" stroke-width="1.1"/><path d="M449.4 90.0L455.1 90.0L452.2 85.0Z" fill="none" stroke="#1a9f7c" stroke-width="1.1"/><path d="M449.4 92.2L455.1 92.2L452.2 87.2Z" fill="none" stroke="#1a9f7c" stroke-width="1.1"/><path d="M449.4 94.5L455.1 94.5L452.2 89.5Z" fill="none" stroke="#1a9f7c" stroke-width="1.1"/><path d="M449.4 96.7L455.1 96.7L452.2 91.7Z" fill="none" stroke="#1a9f7c" stroke-width="1.1"/><path d="M449.4 40.2L455.1 40.2L452.2 35.2Z" fill="none" stroke="#1a9f7c" stroke-width="1.1"/><path d="M449.4 42.1L455.1 42.1L452.2 37.1Z" fill="none" stroke="#1a9f7c" stroke-width="1.1"/><path d="M311.5 141.7L317.1 141.7L314.3 136.7Z" fill="none" stroke="#1a9f7c" stroke-width="1.1"/><path d="M311.0 144.2L316.6 144.2L313.8 139.2Z" fill="none" stroke="#1a9f7c" stroke-width="1.1"/><path d="M311.6 142.0L317.2 142.0L314.4 137.0Z" fill="none" stroke="#1a9f7c" stroke-width="1.1"/><path d="M311.2 139.8L316.8 139.8L314.0 134.8Z" fill="none" stroke="#1a9f7c" stroke-width="1.1"/><path d="M312.6 142.7L318.2 142.7L315.4 137.7Z" fill="none" stroke="#1a9f7c" stroke-width="1.1"/><path d="M310.7 138.9L316.3 138.9L313.5 133.9Z" fill="none" stroke="#1a9f7c" stroke-width="1.1"/><path d="M312.0 138.8L317.6 138.8L314.8 133.8Z" fill="none" stroke="#1a9f7c" stroke-width="1.1"/><path d="M316.8 143.0L322.4 143.0L319.6 138.0Z" fill="none" stroke="#1a9f7c" stroke-width="1.1"/><path d="M321.0 144.4L326.6 144.4L323.8 139.4Z" fill="none" stroke="#1a9f7c" stroke-width="1.1"/><path d="M319.2 142.8L324.8 142.8L322.0 137.8Z" fill="none" stroke="#1a9f7c" stroke-width="1.1"/><path d="M317.5 139.5L323.1 139.5L320.3 134.5Z" fill="none" stroke="#1a9f7c" stroke-width="1.1"/><path d="M317.0 142.2L322.6 142.2L319.8 137.2Z" fill="none" stroke="#1a9f7c" stroke-width="1.1"/><path d="M318.0 139.8L323.6 139.8L320.8 134.8Z" fill="none" stroke="#1a9f7c" stroke-width="1.1"/><path d="M329.1 135.8L334.7 135.8L331.9 130.8Z" fill="none" stroke="#1a9f7c" stroke-width="1.1"/><path d="M331.1 140.7L336.7 140.7L333.9 135.7Z" fill="none" stroke="#1a9f7c" stroke-width="1.1"/><path d="M330.1 141.3L335.7 141.3L332.9 136.3Z" fill="none" stroke="#1a9f7c" stroke-width="1.1"/><path d="M330.2 141.1L335.8 141.1L333.0 136.1Z" fill="none" stroke="#1a9f7c" stroke-width="1.1"/><path d="M327.9 140.8L333.5 140.8L330.7 135.8Z" fill="none" stroke="#1a9f7c" stroke-width="1.1"/><path d="M333.2 144.5L338.8 144.5L336.0 139.5Z" fill="none" stroke="#1a9f7c" stroke-width="1.1"/><path d="M330.7 143.5L336.3 143.5L333.5 138.5Z" fill="none" stroke="#1a9f7c" stroke-width="1.1"/><path d="M327.8 139.5L333.4 139.5L330.6 134.5Z" fill="none" stroke="#1a9f7c" stroke-width="1.1"/><path d="M327.1 139.3L332.7 139.3L329.9 134.3Z" fill="none" stroke="#1a9f7c" stroke-width="1.1"/><path d="M336.5 143.0L342.1 143.0L339.3 138.0Z" fill="none" stroke="#1a9f7c" stroke-width="1.1"/><path d="M336.4 143.5L342.0 143.5L339.2 138.5Z" fill="none" stroke="#1a9f7c" stroke-width="1.1"/><path d="M339.9 144.2L345.5 144.2L342.7 139.2Z" fill="none" stroke="#1a9f7c" stroke-width="1.1"/><path d="M336.6 134.2L342.2 134.2L339.4 129.2Z" fill="none" stroke="#1a9f7c" stroke-width="1.1"/><path d="M337.0 143.9L342.6 143.9L339.8 138.9Z" fill="none" stroke="#1a9f7c" stroke-width="1.1"/><path d="M336.4 144.4L342.0 144.4L339.2 139.4Z" fill="none" stroke="#1a9f7c" stroke-width="1.1"/><path d="M337.6 136.3L343.2 136.3L340.4 131.3Z" fill="none" stroke="#1a9f7c" stroke-width="1.1"/><path d="M335.6 143.0L341.2 143.0L338.4 138.0Z" fill="none" stroke="#1a9f7c" stroke-width="1.1"/><path d="M336.6 136.5L342.2 136.5L339.4 131.5Z" fill="none" stroke="#1a9f7c" stroke-width="1.1"/><path d="M295.7 144.4L301.3 144.4L298.5 139.4Z" fill="none" stroke="#1a9f7c" stroke-width="1.1"/><path d="M293.5 142.8L299.1 142.8L296.3 137.8Z" fill="none" stroke="#1a9f7c" stroke-width="1.1"/><path d="M293.0 142.7L298.6 142.7L295.8 137.7Z" fill="none" stroke="#1a9f7c" stroke-width="1.1"/><path d="M369.3 135.3L374.9 135.3L372.1 130.3Z" fill="none" stroke="#1a9f7c" stroke-width="1.1"/><path d="M370.3 133.0L375.9 133.0L373.1 128.0Z" fill="none" stroke="#1a9f7c" stroke-width="1.1"/><path d="M371.0 128.3L376.6 128.3L373.8 123.3Z" fill="none" stroke="#1a9f7c" stroke-width="1.1"/><path d="M370.8 127.2L376.4 127.2L373.6 122.2Z" fill="none" stroke="#1a9f7c" stroke-width="1.1"/><path d="M370.4 126.9L376.0 126.9L373.2 121.9Z" fill="none" stroke="#1a9f7c" stroke-width="1.1"/><path d="M370.0 128.6L375.6 128.6L372.8 123.6Z" fill="none" stroke="#1a9f7c" stroke-width="1.1"/><path d="M371.7 136.8L377.3 136.8L374.5 131.8Z" fill="none" stroke="#1a9f7c" stroke-width="1.1"/><path d="M371.4 129.9L377.1 129.9L374.2 124.9Z" fill="none" stroke="#1a9f7c" stroke-width="1.1"/></g>
<path d="M256.2 144.3v-2.4M256.2 3.5v2.4" stroke="#222" stroke-width="0.8"/><text x="256.2" y="159.1" font-size="12" text-anchor="middle" fill="#1c1c1c">0</text><path d="M295.4 144.3v-2.4M295.4 3.5v2.4" stroke="#222" stroke-width="0.8"/><text x="295.4" y="159.1" font-size="12" text-anchor="middle" fill="#1c1c1c">0.2</text><path d="M334.6 144.3v-2.4M334.6 3.5v2.4" stroke="#222" stroke-width="0.8"/><text x="334.6" y="159.1" font-size="12" text-anchor="middle" fill="#1c1c1c">0.4</text><path d="M373.9 144.3v-2.4M373.9 3.5v2.4" stroke="#222" stroke-width="0.8"/><text x="373.9" y="159.1" font-size="12" text-anchor="middle" fill="#1c1c1c">0.6</text><path d="M413.1 144.3v-2.4M413.1 3.5v2.4" stroke="#222" stroke-width="0.8"/><text x="413.1" y="159.1" font-size="12" text-anchor="middle" fill="#1c1c1c">0.8</text><path d="M452.3 144.3v-2.4M452.3 3.5v2.4" stroke="#222" stroke-width="0.8"/><text x="452.3" y="159.1" font-size="12" text-anchor="middle" fill="#1c1c1c">1</text><path d="M256.2 144.3h2.4M452.3 144.3h-2.4" stroke="#222" stroke-width="0.8"/><text x="252.3" y="148.7" font-size="12" text-anchor="end" fill="#1c1c1c">0</text><path d="M256.2 97.4h2.4M452.3 97.4h-2.4" stroke="#222" stroke-width="0.8"/><text x="252.3" y="101.8" font-size="12" text-anchor="end" fill="#1c1c1c">1</text><path d="M256.2 50.4h2.4M452.3 50.4h-2.4" stroke="#222" stroke-width="0.8"/><text x="252.3" y="54.8" font-size="12" text-anchor="end" fill="#1c1c1c">2</text><path d="M256.2 3.5h2.4M452.3 3.5h-2.4" stroke="#222" stroke-width="0.8"/><text x="252.3" y="7.9" font-size="12" text-anchor="end" fill="#1c1c1c">3</text><text x="354.2" y="174.5" font-size="14.8" font-style="italic" text-anchor="middle" fill="#1c1c1c">α</text>
<rect x="482.2" y="3.5" width="196.2" height="140.8" fill="none" stroke="#262626" stroke-width="1"/>
<g><circle cx="514.6" cy="42.9" r="2.5" fill="none" stroke="#d9472b" stroke-width="1.1"/><circle cx="531.2" cy="49.0" r="2.5" fill="none" stroke="#d9472b" stroke-width="1.1"/><circle cx="536.5" cy="60.9" r="2.5" fill="none" stroke="#d9472b" stroke-width="1.1"/><circle cx="531.2" cy="65.5" r="2.5" fill="none" stroke="#d9472b" stroke-width="1.1"/><circle cx="520.5" cy="67.6" r="2.5" fill="none" stroke="#d9472b" stroke-width="1.1"/><circle cx="514.6" cy="77.0" r="2.5" fill="none" stroke="#d9472b" stroke-width="1.1"/><circle cx="514.6" cy="81.5" r="2.5" fill="none" stroke="#d9472b" stroke-width="1.1"/><circle cx="519.0" cy="87.0" r="2.5" fill="none" stroke="#d9472b" stroke-width="1.1"/><circle cx="514.6" cy="91.1" r="2.5" fill="none" stroke="#d9472b" stroke-width="1.1"/><circle cx="517.1" cy="91.1" r="2.5" fill="none" stroke="#d9472b" stroke-width="1.1"/><circle cx="536.5" cy="78.0" r="2.5" fill="none" stroke="#d9472b" stroke-width="1.1"/><circle cx="539.9" cy="81.4" r="2.5" fill="none" stroke="#d9472b" stroke-width="1.1"/><circle cx="536.5" cy="68.0" r="2.5" fill="none" stroke="#d9472b" stroke-width="1.1"/><circle cx="504.0" cy="96.0" r="2.5" fill="none" stroke="#d9472b" stroke-width="1.1"/><circle cx="516.5" cy="96.0" r="2.5" fill="none" stroke="#d9472b" stroke-width="1.1"/><circle cx="504.0" cy="97.2" r="2.5" fill="none" stroke="#d9472b" stroke-width="1.1"/><circle cx="504.0" cy="102.2" r="2.5" fill="none" stroke="#d9472b" stroke-width="1.1"/><circle cx="504.0" cy="111.0" r="2.5" fill="none" stroke="#d9472b" stroke-width="1.1"/><circle cx="504.0" cy="118.5" r="2.5" fill="none" stroke="#d9472b" stroke-width="1.1"/><circle cx="502.4" cy="127.0" r="2.5" fill="none" stroke="#d9472b" stroke-width="1.1"/><circle cx="514.6" cy="97.9" r="2.5" fill="none" stroke="#d9472b" stroke-width="1.1"/><circle cx="514.6" cy="101.6" r="2.5" fill="none" stroke="#d9472b" stroke-width="1.1"/><circle cx="519.0" cy="116.0" r="2.5" fill="none" stroke="#d9472b" stroke-width="1.1"/><circle cx="519.0" cy="122.2" r="2.5" fill="none" stroke="#d9472b" stroke-width="1.1"/><circle cx="522.8" cy="104.8" r="2.5" fill="none" stroke="#d9472b" stroke-width="1.1"/><circle cx="531.2" cy="97.2" r="2.5" fill="none" stroke="#d9472b" stroke-width="1.1"/><circle cx="531.2" cy="102.2" r="2.5" fill="none" stroke="#d9472b" stroke-width="1.1"/><circle cx="531.2" cy="107.2" r="2.5" fill="none" stroke="#d9472b" stroke-width="1.1"/><circle cx="542.1" cy="122.9" r="2.5" fill="none" stroke="#d9472b" stroke-width="1.1"/><circle cx="542.1" cy="129.8" r="2.5" fill="none" stroke="#d9472b" stroke-width="1.1"/><circle cx="531.2" cy="131.0" r="2.5" fill="none" stroke="#d9472b" stroke-width="1.1"/><circle cx="513.4" cy="129.8" r="2.5" fill="none" stroke="#d9472b" stroke-width="1.1"/><circle cx="513.4" cy="138.5" r="2.5" fill="none" stroke="#d9472b" stroke-width="1.1"/><circle cx="522.8" cy="141.0" r="2.5" fill="none" stroke="#d9472b" stroke-width="1.1"/><circle cx="519.0" cy="133.5" r="2.5" fill="none" stroke="#d9472b" stroke-width="1.1"/><circle cx="580.0" cy="21.9" r="2.5" fill="none" stroke="#d9472b" stroke-width="1.1"/><circle cx="559.0" cy="35.4" r="2.5" fill="none" stroke="#d9472b" stroke-width="1.1"/><circle cx="589.9" cy="41.5" r="2.5" fill="none" stroke="#d9472b" stroke-width="1.1"/><circle cx="548.6" cy="61.8" r="2.5" fill="none" stroke="#d9472b" stroke-width="1.1"/><circle cx="548.6" cy="67.4" r="2.5" fill="none" stroke="#d9472b" stroke-width="1.1"/><circle cx="548.6" cy="73.0" r="2.5" fill="none" stroke="#d9472b" stroke-width="1.1"/><circle cx="559.0" cy="62.4" r="2.5" fill="none" stroke="#d9472b" stroke-width="1.1"/><circle cx="559.0" cy="70.5" r="2.5" fill="none" stroke="#d9472b" stroke-width="1.1"/><circle cx="560.0" cy="80.8" r="2.5" fill="none" stroke="#d9472b" stroke-width="1.1"/><circle cx="560.0" cy="84.2" r="2.5" fill="none" stroke="#d9472b" stroke-width="1.1"/><circle cx="580.2" cy="59.9" r="2.5" fill="none" stroke="#d9472b" stroke-width="1.1"/><circle cx="580.2" cy="63.0" r="2.5" fill="none" stroke="#d9472b" stroke-width="1.1"/><circle cx="580.2" cy="73.0" r="2.5" fill="none" stroke="#d9472b" stroke-width="1.1"/><circle cx="580.2" cy="78.0" r="2.5" fill="none" stroke="#d9472b" stroke-width="1.1"/><circle cx="580.2" cy="84.2" r="2.5" fill="none" stroke="#d9472b" stroke-width="1.1"/><circle cx="592.5" cy="69.9" r="2.5" fill="none" stroke="#d9472b" stroke-width="1.1"/><circle cx="592.5" cy="73.0" r="2.5" fill="none" stroke="#d9472b" stroke-width="1.1"/><circle cx="592.5" cy="75.5" r="2.5" fill="none" stroke="#d9472b" stroke-width="1.1"/><circle cx="552.1" cy="88.6" r="2.5" fill="none" stroke="#d9472b" stroke-width="1.1"/><circle cx="580.2" cy="93.6" r="2.5" fill="none" stroke="#d9472b" stroke-width="1.1"/><circle cx="558.4" cy="108.9" r="2.5" fill="none" stroke="#d9472b" stroke-width="1.1"/><circle cx="578.0" cy="114.5" r="2.5" fill="none" stroke="#d9472b" stroke-width="1.1"/><circle cx="578.0" cy="122.2" r="2.5" fill="none" stroke="#d9472b" stroke-width="1.1"/><circle cx="564.0" cy="118.5" r="2.5" fill="none" stroke="#d9472b" stroke-width="1.1"/><circle cx="580.2" cy="131.0" r="2.5" fill="none" stroke="#d9472b" stroke-width="1.1"/><circle cx="544.6" cy="126.0" r="2.5" fill="none" stroke="#d9472b" stroke-width="1.1"/><circle cx="555.9" cy="129.1" r="2.5" fill="none" stroke="#d9472b" stroke-width="1.1"/><circle cx="559.6" cy="132.2" r="2.5" fill="none" stroke="#d9472b" stroke-width="1.1"/><circle cx="564.0" cy="133.5" r="2.5" fill="none" stroke="#d9472b" stroke-width="1.1"/><circle cx="564.0" cy="139.1" r="2.5" fill="none" stroke="#d9472b" stroke-width="1.1"/><circle cx="574.6" cy="139.1" r="2.5" fill="none" stroke="#d9472b" stroke-width="1.1"/><circle cx="574.6" cy="141.6" r="2.5" fill="none" stroke="#d9472b" stroke-width="1.1"/><circle cx="589.6" cy="139.8" r="2.5" fill="none" stroke="#d9472b" stroke-width="1.1"/><circle cx="589.6" cy="142.2" r="2.5" fill="none" stroke="#d9472b" stroke-width="1.1"/><circle cx="604.0" cy="134.8" r="2.5" fill="none" stroke="#d9472b" stroke-width="1.1"/><circle cx="551.5" cy="142.2" r="2.5" fill="none" stroke="#d9472b" stroke-width="1.1"/><circle cx="556.5" cy="142.2" r="2.5" fill="none" stroke="#d9472b" stroke-width="1.1"/><circle cx="580.2" cy="97.2" r="2.5" fill="none" stroke="#d9472b" stroke-width="1.1"/><circle cx="638.0" cy="36.9" r="2.5" fill="none" stroke="#d9472b" stroke-width="1.1"/><circle cx="638.0" cy="40.0" r="2.5" fill="none" stroke="#d9472b" stroke-width="1.1"/><circle cx="618.4" cy="50.5" r="2.5" fill="none" stroke="#d9472b" stroke-width="1.1"/><circle cx="618.4" cy="69.5" r="2.5" fill="none" stroke="#d9472b" stroke-width="1.1"/><circle cx="677.8" cy="93.0" r="2.5" fill="none" stroke="#d9472b" stroke-width="1.1"/><circle cx="618.4" cy="96.0" r="2.5" fill="none" stroke="#d9472b" stroke-width="1.1"/><circle cx="605.9" cy="112.2" r="2.5" fill="none" stroke="#d9472b" stroke-width="1.1"/><circle cx="618.8" cy="96.6" r="2.5" fill="none" stroke="#d9472b" stroke-width="1.1"/><circle cx="618.8" cy="103.5" r="2.5" fill="none" stroke="#d9472b" stroke-width="1.1"/><circle cx="618.8" cy="112.2" r="2.5" fill="none" stroke="#d9472b" stroke-width="1.1"/><circle cx="618.8" cy="119.8" r="2.5" fill="none" stroke="#d9472b" stroke-width="1.1"/><circle cx="618.8" cy="122.9" r="2.5" fill="none" stroke="#d9472b" stroke-width="1.1"/><circle cx="618.8" cy="132.2" r="2.5" fill="none" stroke="#d9472b" stroke-width="1.1"/><circle cx="618.8" cy="138.5" r="2.5" fill="none" stroke="#d9472b" stroke-width="1.1"/><circle cx="634.6" cy="124.1" r="2.5" fill="none" stroke="#d9472b" stroke-width="1.1"/><circle cx="634.6" cy="133.2" r="2.5" fill="none" stroke="#d9472b" stroke-width="1.1"/><circle cx="634.6" cy="136.6" r="2.5" fill="none" stroke="#d9472b" stroke-width="1.1"/><circle cx="629.0" cy="132.2" r="2.5" fill="none" stroke="#d9472b" stroke-width="1.1"/><circle cx="657.1" cy="130.6" r="2.5" fill="none" stroke="#d9472b" stroke-width="1.1"/><circle cx="673.8" cy="122.0" r="2.5" fill="none" stroke="#d9472b" stroke-width="1.1"/><circle cx="673.8" cy="136.6" r="2.5" fill="none" stroke="#d9472b" stroke-width="1.1"/><circle cx="673.8" cy="139.8" r="2.5" fill="none" stroke="#d9472b" stroke-width="1.1"/><circle cx="605.9" cy="133.5" r="2.5" fill="none" stroke="#d9472b" stroke-width="1.1"/><circle cx="605.9" cy="136.6" r="2.5" fill="none" stroke="#d9472b" stroke-width="1.1"/><circle cx="629.0" cy="136.0" r="2.5" fill="none" stroke="#d9472b" stroke-width="1.1"/><rect x="512.7" y="34.5" width="3.9" height="3.9" fill="none" stroke="#3eb0d5" stroke-width="1.1"/><rect x="518.5" y="47.5" width="3.9" height="3.9" fill="none" stroke="#3eb0d5" stroke-width="1.1"/><rect x="518.5" y="59.8" width="3.9" height="3.9" fill="none" stroke="#3eb0d5" stroke-width="1.1"/><rect x="521.2" y="75.4" width="3.9" height="3.9" fill="none" stroke="#3eb0d5" stroke-width="1.1"/><rect x="529.3" y="74.4" width="3.9" height="3.9" fill="none" stroke="#3eb0d5" stroke-width="1.1"/><rect x="534.5" y="72.5" width="3.9" height="3.9" fill="none" stroke="#3eb0d5" stroke-width="1.1"/><rect x="515.2" y="97.8" width="3.9" height="3.9" fill="none" stroke="#3eb0d5" stroke-width="1.1"/><rect x="523.3" y="96.5" width="3.9" height="3.9" fill="none" stroke="#3eb0d5" stroke-width="1.1"/><rect x="501.4" y="112.8" width="3.9" height="3.9" fill="none" stroke="#3eb0d5" stroke-width="1.1"/><rect x="511.4" y="123.4" width="3.9" height="3.9" fill="none" stroke="#3eb0d5" stroke-width="1.1"/><rect x="516.4" y="122.8" width="3.9" height="3.9" fill="none" stroke="#3eb0d5" stroke-width="1.1"/><rect x="516.4" y="127.8" width="3.9" height="3.9" fill="none" stroke="#3eb0d5" stroke-width="1.1"/><rect x="512.0" y="130.3" width="3.9" height="3.9" fill="none" stroke="#3eb0d5" stroke-width="1.1"/><rect x="521.4" y="116.5" width="3.9" height="3.9" fill="none" stroke="#3eb0d5" stroke-width="1.1"/><rect x="521.4" y="136.6" width="3.9" height="3.9" fill="none" stroke="#3eb0d5" stroke-width="1.1"/><rect x="540.2" y="129.7" width="3.9" height="3.9" fill="none" stroke="#3eb0d5" stroke-width="1.1"/><rect x="590.5" y="47.9" width="3.9" height="3.9" fill="none" stroke="#3eb0d5" stroke-width="1.1"/><rect x="590.5" y="56.0" width="3.9" height="3.9" fill="none" stroke="#3eb0d5" stroke-width="1.1"/><rect x="595.5" y="64.4" width="3.9" height="3.9" fill="none" stroke="#3eb0d5" stroke-width="1.1"/><rect x="591.4" y="68.5" width="3.9" height="3.9" fill="none" stroke="#3eb0d5" stroke-width="1.1"/><rect x="562.0" y="70.7" width="3.9" height="3.9" fill="none" stroke="#3eb0d5" stroke-width="1.1"/><rect x="546.7" y="78.3" width="3.9" height="3.9" fill="none" stroke="#3eb0d5" stroke-width="1.1"/><rect x="578.3" y="72.7" width="3.9" height="3.9" fill="none" stroke="#3eb0d5" stroke-width="1.1"/><rect x="550.2" y="86.0" width="3.9" height="3.9" fill="none" stroke="#3eb0d5" stroke-width="1.1"/><rect x="550.2" y="89.8" width="3.9" height="3.9" fill="none" stroke="#3eb0d5" stroke-width="1.1"/><rect x="578.3" y="95.9" width="3.9" height="3.9" fill="none" stroke="#3eb0d5" stroke-width="1.1"/><rect x="578.3" y="99.0" width="3.9" height="3.9" fill="none" stroke="#3eb0d5" stroke-width="1.1"/><rect x="562.0" y="113.4" width="3.9" height="3.9" fill="none" stroke="#3eb0d5" stroke-width="1.1"/><rect x="553.9" y="125.9" width="3.9" height="3.9" fill="none" stroke="#3eb0d5" stroke-width="1.1"/><rect x="562.0" y="130.3" width="3.9" height="3.9" fill="none" stroke="#3eb0d5" stroke-width="1.1"/><rect x="562.0" y="134.7" width="3.9" height="3.9" fill="none" stroke="#3eb0d5" stroke-width="1.1"/><rect x="567.7" y="131.6" width="3.9" height="3.9" fill="none" stroke="#3eb0d5" stroke-width="1.1"/><rect x="543.3" y="128.4" width="3.9" height="3.9" fill="none" stroke="#3eb0d5" stroke-width="1.1"/><rect x="591.4" y="139.7" width="3.9" height="3.9" fill="none" stroke="#3eb0d5" stroke-width="1.1"/><rect x="549.5" y="137.8" width="3.9" height="3.9" fill="none" stroke="#3eb0d5" stroke-width="1.1"/><rect x="616.4" y="63.3" width="3.9" height="3.9" fill="none" stroke="#3eb0d5" stroke-width="1.1"/><rect x="616.4" y="84.8" width="3.9" height="3.9" fill="none" stroke="#3eb0d5" stroke-width="1.1"/><rect x="616.8" y="100.9" width="3.9" height="3.9" fill="none" stroke="#3eb0d5" stroke-width="1.1"/><rect x="616.8" y="113.8" width="3.9" height="3.9" fill="none" stroke="#3eb0d5" stroke-width="1.1"/><rect x="611.4" y="132.6" width="3.9" height="3.9" fill="none" stroke="#3eb0d5" stroke-width="1.1"/><rect x="616.8" y="134.1" width="3.9" height="3.9" fill="none" stroke="#3eb0d5" stroke-width="1.1"/><rect x="603.9" y="137.8" width="3.9" height="3.9" fill="none" stroke="#3eb0d5" stroke-width="1.1"/><rect x="655.2" y="137.2" width="3.9" height="3.9" fill="none" stroke="#3eb0d5" stroke-width="1.1"/><path d="M533.7 67.6L539.3 67.6L536.5 62.6Z" fill="none" stroke="#1a9f7c" stroke-width="1.1"/><path d="M533.7 70.7L539.3 70.7L536.5 65.7Z" fill="none" stroke="#1a9f7c" stroke-width="1.1"/><path d="M533.7 73.2L539.3 73.2L536.5 68.2Z" fill="none" stroke="#1a9f7c" stroke-width="1.1"/><path d="M528.5 85.5L534.0 85.5L531.2 80.5Z" fill="none" stroke="#1a9f7c" stroke-width="1.1"/><path d="M528.1 94.1L533.7 94.1L530.9 89.1Z" fill="none" stroke="#1a9f7c" stroke-width="1.1"/><path d="M523.7 98.1L529.3 98.1L526.5 93.1Z" fill="none" stroke="#1a9f7c" stroke-width="1.1"/><path d="M501.2 110.0L506.8 110.0L504.0 105.0Z" fill="none" stroke="#1a9f7c" stroke-width="1.1"/><path d="M514.3 106.2L519.9 106.2L517.1 101.2Z" fill="none" stroke="#1a9f7c" stroke-width="1.1"/><path d="M522.5 99.3L528.0 99.3L525.2 94.3Z" fill="none" stroke="#1a9f7c" stroke-width="1.1"/><path d="M518.7 129.3L524.3 129.3L521.5 124.3Z" fill="none" stroke="#1a9f7c" stroke-width="1.1"/><path d="M522.5 129.3L528.0 129.3L525.2 124.3Z" fill="none" stroke="#1a9f7c" stroke-width="1.1"/><path d="M510.6 126.8L516.2 126.8L513.4 121.8Z" fill="none" stroke="#1a9f7c" stroke-width="1.1"/><path d="M510.6 135.0L516.2 135.0L513.4 130.0Z" fill="none" stroke="#1a9f7c" stroke-width="1.1"/><path d="M510.6 138.7L516.2 138.7L513.4 133.7Z" fill="none" stroke="#1a9f7c" stroke-width="1.1"/><path d="M510.6 141.8L516.2 141.8L513.4 136.8Z" fill="none" stroke="#1a9f7c" stroke-width="1.1"/><path d="M510.6 144.3L516.2 144.3L513.4 139.3Z" fill="none" stroke="#1a9f7c" stroke-width="1.1"/><path d="M516.2 139.3L521.8 139.3L519.0 134.3Z" fill="none" stroke="#1a9f7c" stroke-width="1.1"/><path d="M528.5 135.6L534.0 135.6L531.2 130.6Z" fill="none" stroke="#1a9f7c" stroke-width="1.1"/><path d="M528.5 138.1L534.0 138.1L531.2 133.1Z" fill="none" stroke="#1a9f7c" stroke-width="1.1"/><path d="M528.5 141.2L534.0 141.2L531.2 136.2Z" fill="none" stroke="#1a9f7c" stroke-width="1.1"/><path d="M528.5 143.7L534.0 143.7L531.2 138.7Z" fill="none" stroke="#1a9f7c" stroke-width="1.1"/><path d="M539.3 111.2L544.9 111.2L542.1 106.2Z" fill="none" stroke="#1a9f7c" stroke-width="1.1"/><path d="M539.3 135.6L544.9 135.6L542.1 130.6Z" fill="none" stroke="#1a9f7c" stroke-width="1.1"/><path d="M539.3 138.7L544.9 138.7L542.1 133.7Z" fill="none" stroke="#1a9f7c" stroke-width="1.1"/><path d="M539.3 141.8L544.9 141.8L542.1 136.8Z" fill="none" stroke="#1a9f7c" stroke-width="1.1"/><path d="M538.1 144.3L543.7 144.3L540.9 139.3Z" fill="none" stroke="#1a9f7c" stroke-width="1.1"/><path d="M540.6 144.3L546.2 144.3L543.4 139.3Z" fill="none" stroke="#1a9f7c" stroke-width="1.1"/><path d="M520.6 110.6L526.2 110.6L523.4 105.6Z" fill="none" stroke="#1a9f7c" stroke-width="1.1"/><path d="M520.6 114.3L526.2 114.3L523.4 109.3Z" fill="none" stroke="#1a9f7c" stroke-width="1.1"/><path d="M520.6 118.1L526.2 118.1L523.4 113.1Z" fill="none" stroke="#1a9f7c" stroke-width="1.1"/><path d="M520.6 121.2L526.2 121.2L523.4 116.2Z" fill="none" stroke="#1a9f7c" stroke-width="1.1"/><path d="M520.6 124.3L526.2 124.3L523.4 119.3Z" fill="none" stroke="#1a9f7c" stroke-width="1.1"/><path d="M520.6 127.5L526.2 127.5L523.4 122.5Z" fill="none" stroke="#1a9f7c" stroke-width="1.1"/><path d="M520.6 130.6L526.2 130.6L523.4 125.6Z" fill="none" stroke="#1a9f7c" stroke-width="1.1"/><path d="M520.6 133.7L526.2 133.7L523.4 128.7Z" fill="none" stroke="#1a9f7c" stroke-width="1.1"/><path d="M520.6 136.8L526.2 136.8L523.4 131.8Z" fill="none" stroke="#1a9f7c" stroke-width="1.1"/><path d="M520.6 140.0L526.2 140.0L523.4 135.0Z" fill="none" stroke="#1a9f7c" stroke-width="1.1"/><path d="M520.6 143.1L526.2 143.1L523.4 138.1Z" fill="none" stroke="#1a9f7c" stroke-width="1.1"/><path d="M556.2 65.1L561.8 65.1L559.0 60.1Z" fill="none" stroke="#1a9f7c" stroke-width="1.1"/><path d="M556.2 68.2L561.8 68.2L559.0 63.2Z" fill="none" stroke="#1a9f7c" stroke-width="1.1"/><path d="M556.2 71.3L561.8 71.3L559.0 66.3Z" fill="none" stroke="#1a9f7c" stroke-width="1.1"/><path d="M557.2 87.0L562.8 87.0L560.0 82.0Z" fill="none" stroke="#1a9f7c" stroke-width="1.1"/><path d="M577.5 68.8L583.0 68.8L580.2 63.9Z" fill="none" stroke="#1a9f7c" stroke-width="1.1"/><path d="M577.5 72.0L583.0 72.0L580.2 67.0Z" fill="none" stroke="#1a9f7c" stroke-width="1.1"/><path d="M577.5 80.1L583.0 80.1L580.2 75.1Z" fill="none" stroke="#1a9f7c" stroke-width="1.1"/><path d="M577.5 82.6L583.0 82.6L580.2 77.6Z" fill="none" stroke="#1a9f7c" stroke-width="1.1"/><path d="M577.5 85.1L583.0 85.1L580.2 80.1Z" fill="none" stroke="#1a9f7c" stroke-width="1.1"/><path d="M589.7 62.0L595.3 62.0L592.5 57.0Z" fill="none" stroke="#1a9f7c" stroke-width="1.1"/><path d="M589.7 64.5L595.3 64.5L592.5 59.5Z" fill="none" stroke="#1a9f7c" stroke-width="1.1"/><path d="M589.7 67.0L595.3 67.0L592.5 62.0Z" fill="none" stroke="#1a9f7c" stroke-width="1.1"/><path d="M561.8 97.0L567.4 97.0L564.6 92.0Z" fill="none" stroke="#1a9f7c" stroke-width="1.1"/><path d="M561.2 98.7L566.8 98.7L564.0 93.7Z" fill="none" stroke="#1a9f7c" stroke-width="1.1"/><path d="M555.6 126.2L561.2 126.2L558.4 121.2Z" fill="none" stroke="#1a9f7c" stroke-width="1.1"/><path d="M545.6 134.3L551.2 134.3L548.4 129.3Z" fill="none" stroke="#1a9f7c" stroke-width="1.1"/><path d="M552.5 135.6L558.0 135.6L555.2 130.6Z" fill="none" stroke="#1a9f7c" stroke-width="1.1"/><path d="M553.7 139.3L559.3 139.3L556.5 134.3Z" fill="none" stroke="#1a9f7c" stroke-width="1.1"/><path d="M548.7 140.6L554.3 140.6L551.5 135.6Z" fill="none" stroke="#1a9f7c" stroke-width="1.1"/><path d="M545.0 139.3L550.5 139.3L547.8 134.3Z" fill="none" stroke="#1a9f7c" stroke-width="1.1"/><path d="M542.5 136.8L548.0 136.8L545.2 131.8Z" fill="none" stroke="#1a9f7c" stroke-width="1.1"/><path d="M542.5 141.8L548.0 141.8L545.2 136.8Z" fill="none" stroke="#1a9f7c" stroke-width="1.1"/><path d="M566.8 141.2L572.4 141.2L569.6 136.2Z" fill="none" stroke="#1a9f7c" stroke-width="1.1"/><path d="M571.8 135.0L577.4 135.0L574.6 130.0Z" fill="none" stroke="#1a9f7c" stroke-width="1.1"/><path d="M575.6 132.5L581.2 132.5L578.4 127.5Z" fill="none" stroke="#1a9f7c" stroke-width="1.1"/><path d="M577.5 139.3L583.0 139.3L580.2 134.3Z" fill="none" stroke="#1a9f7c" stroke-width="1.1"/><path d="M577.5 142.5L583.0 142.5L580.2 137.5Z" fill="none" stroke="#1a9f7c" stroke-width="1.1"/><path d="M586.8 133.7L592.4 133.7L589.6 128.7Z" fill="none" stroke="#1a9f7c" stroke-width="1.1"/><path d="M541.2 111.8L546.8 111.8L544.0 106.8Z" fill="none" stroke="#1a9f7c" stroke-width="1.1"/><path d="M557.5 143.1L563.0 143.1L560.2 138.1Z" fill="none" stroke="#1a9f7c" stroke-width="1.1"/><path d="M550.0 143.7L555.5 143.7L552.8 138.7Z" fill="none" stroke="#1a9f7c" stroke-width="1.1"/><path d="M561.2 101.8L566.8 101.8L564.0 96.8Z" fill="none" stroke="#1a9f7c" stroke-width="1.1"/><path d="M561.2 105.0L566.8 105.0L564.0 100.0Z" fill="none" stroke="#1a9f7c" stroke-width="1.1"/><path d="M561.2 108.1L566.8 108.1L564.0 103.1Z" fill="none" stroke="#1a9f7c" stroke-width="1.1"/><path d="M561.2 111.2L566.8 111.2L564.0 106.2Z" fill="none" stroke="#1a9f7c" stroke-width="1.1"/><path d="M561.2 114.3L566.8 114.3L564.0 109.3Z" fill="none" stroke="#1a9f7c" stroke-width="1.1"/><path d="M561.2 125.0L566.8 125.0L564.0 120.0Z" fill="none" stroke="#1a9f7c" stroke-width="1.1"/><path d="M561.2 128.1L566.8 128.1L564.0 123.1Z" fill="none" stroke="#1a9f7c" stroke-width="1.1"/><path d="M561.2 131.2L566.8 131.2L564.0 126.2Z" fill="none" stroke="#1a9f7c" stroke-width="1.1"/><path d="M635.2 40.2L640.8 40.2L638.0 35.2Z" fill="none" stroke="#1a9f7c" stroke-width="1.1"/><path d="M635.2 41.9L640.8 41.9L638.0 36.9Z" fill="none" stroke="#1a9f7c" stroke-width="1.1"/><path d="M615.6 92.6L621.2 92.6L618.4 87.6Z" fill="none" stroke="#1a9f7c" stroke-width="1.1"/><path d="M616.0 97.6L621.5 97.6L618.8 92.6Z" fill="none" stroke="#1a9f7c" stroke-width="1.1"/><path d="M616.0 99.3L621.5 99.3L618.8 94.3Z" fill="none" stroke="#1a9f7c" stroke-width="1.1"/><path d="M616.0 107.5L621.5 107.5L618.8 102.5Z" fill="none" stroke="#1a9f7c" stroke-width="1.1"/><path d="M616.0 110.6L621.5 110.6L618.8 105.6Z" fill="none" stroke="#1a9f7c" stroke-width="1.1"/><path d="M616.0 127.5L621.5 127.5L618.8 122.5Z" fill="none" stroke="#1a9f7c" stroke-width="1.1"/><path d="M616.0 130.6L621.5 130.6L618.8 125.6Z" fill="none" stroke="#1a9f7c" stroke-width="1.1"/><path d="M616.0 133.7L621.5 133.7L618.8 128.7Z" fill="none" stroke="#1a9f7c" stroke-width="1.1"/><path d="M616.0 140.6L621.5 140.6L618.8 135.6Z" fill="none" stroke="#1a9f7c" stroke-width="1.1"/><path d="M610.6 142.5L616.2 142.5L613.4 137.5Z" fill="none" stroke="#1a9f7c" stroke-width="1.1"/><path d="M626.2 138.7L631.8 138.7L629.0 133.7Z" fill="none" stroke="#1a9f7c" stroke-width="1.1"/><path d="M626.2 141.8L631.8 141.8L629.0 136.8Z" fill="none" stroke="#1a9f7c" stroke-width="1.1"/><path d="M671.0 133.1L676.5 133.1L673.8 128.1Z" fill="none" stroke="#1a9f7c" stroke-width="1.1"/><path d="M654.3 143.1L659.9 143.1L657.1 138.1Z" fill="none" stroke="#1a9f7c" stroke-width="1.1"/><path d="M626.2 144.3L631.8 144.3L629.0 139.3Z" fill="none" stroke="#1a9f7c" stroke-width="1.1"/><path d="M521.2 136.1L526.8 136.1L524.0 131.1Z" fill="none" stroke="#1a9f7c" stroke-width="1.1"/><path d="M521.9 140.2L527.5 140.2L524.7 135.2Z" fill="none" stroke="#1a9f7c" stroke-width="1.1"/><path d="M521.8 138.9L527.4 138.9L524.6 133.9Z" fill="none" stroke="#1a9f7c" stroke-width="1.1"/><path d="M520.6 114.2L526.2 114.2L523.4 109.2Z" fill="none" stroke="#1a9f7c" stroke-width="1.1"/><path d="M521.1 143.4L526.7 143.4L523.9 138.4Z" fill="none" stroke="#1a9f7c" stroke-width="1.1"/><path d="M519.4 142.5L525.0 142.5L522.2 137.5Z" fill="none" stroke="#1a9f7c" stroke-width="1.1"/><path d="M520.0 132.0L525.6 132.0L522.8 127.0Z" fill="none" stroke="#1a9f7c" stroke-width="1.1"/><path d="M520.8 134.0L526.4 134.0L523.6 129.0Z" fill="none" stroke="#1a9f7c" stroke-width="1.1"/><path d="M520.3 112.7L525.9 112.7L523.1 107.7Z" fill="none" stroke="#1a9f7c" stroke-width="1.1"/><path d="M521.4 126.2L527.0 126.2L524.2 121.2Z" fill="none" stroke="#1a9f7c" stroke-width="1.1"/><path d="M519.6 139.5L525.2 139.5L522.4 134.5Z" fill="none" stroke="#1a9f7c" stroke-width="1.1"/><path d="M519.6 140.2L525.1 140.2L522.4 135.2Z" fill="none" stroke="#1a9f7c" stroke-width="1.1"/><path d="M519.6 135.9L525.2 135.9L522.4 130.9Z" fill="none" stroke="#1a9f7c" stroke-width="1.1"/><path d="M520.9 110.9L526.5 110.9L523.7 105.9Z" fill="none" stroke="#1a9f7c" stroke-width="1.1"/><path d="M510.1 133.3L515.7 133.3L512.9 128.3Z" fill="none" stroke="#1a9f7c" stroke-width="1.1"/><path d="M511.7 144.4L517.3 144.4L514.5 139.4Z" fill="none" stroke="#1a9f7c" stroke-width="1.1"/><path d="M511.4 134.9L517.0 134.9L514.2 129.9Z" fill="none" stroke="#1a9f7c" stroke-width="1.1"/><path d="M511.0 138.9L516.6 138.9L513.8 133.9Z" fill="none" stroke="#1a9f7c" stroke-width="1.1"/><path d="M511.3 133.2L516.9 133.2L514.1 128.2Z" fill="none" stroke="#1a9f7c" stroke-width="1.1"/><path d="M511.8 140.9L517.4 140.9L514.6 135.9Z" fill="none" stroke="#1a9f7c" stroke-width="1.1"/><path d="M527.9 143.9L533.5 143.9L530.7 138.9Z" fill="none" stroke="#1a9f7c" stroke-width="1.1"/><path d="M527.8 139.8L533.4 139.8L530.6 134.8Z" fill="none" stroke="#1a9f7c" stroke-width="1.1"/><path d="M527.8 137.4L533.4 137.4L530.6 132.4Z" fill="none" stroke="#1a9f7c" stroke-width="1.1"/><path d="M528.6 139.2L534.2 139.2L531.4 134.2Z" fill="none" stroke="#1a9f7c" stroke-width="1.1"/><path d="M528.6 134.4L534.2 134.4L531.4 129.4Z" fill="none" stroke="#1a9f7c" stroke-width="1.1"/><path d="M540.9 139.1L546.4 139.1L543.6 134.1Z" fill="none" stroke="#1a9f7c" stroke-width="1.1"/><path d="M541.6 143.3L547.2 143.3L544.4 138.3Z" fill="none" stroke="#1a9f7c" stroke-width="1.1"/><path d="M541.6 138.9L547.2 138.9L544.4 133.9Z" fill="none" stroke="#1a9f7c" stroke-width="1.1"/><path d="M539.0 142.4L544.6 142.4L541.8 137.4Z" fill="none" stroke="#1a9f7c" stroke-width="1.1"/><path d="M538.4 144.4L544.0 144.4L541.2 139.4Z" fill="none" stroke="#1a9f7c" stroke-width="1.1"/><path d="M543.8 142.8L549.4 142.8L546.6 137.8Z" fill="none" stroke="#1a9f7c" stroke-width="1.1"/><path d="M542.3 134.1L547.9 134.1L545.1 129.1Z" fill="none" stroke="#1a9f7c" stroke-width="1.1"/><path d="M542.1 139.4L547.7 139.4L544.9 134.4Z" fill="none" stroke="#1a9f7c" stroke-width="1.1"/><path d="M552.1 134.7L557.7 134.7L554.9 129.7Z" fill="none" stroke="#1a9f7c" stroke-width="1.1"/><path d="M555.1 137.9L560.7 137.9L557.9 132.9Z" fill="none" stroke="#1a9f7c" stroke-width="1.1"/><path d="M554.3 138.1L559.9 138.1L557.1 133.1Z" fill="none" stroke="#1a9f7c" stroke-width="1.1"/><path d="M556.6 144.2L562.2 144.2L559.4 139.2Z" fill="none" stroke="#1a9f7c" stroke-width="1.1"/><path d="M552.5 139.6L558.0 139.6L555.2 134.6Z" fill="none" stroke="#1a9f7c" stroke-width="1.1"/><path d="M554.9 141.2L560.5 141.2L557.7 136.2Z" fill="none" stroke="#1a9f7c" stroke-width="1.1"/><path d="M554.1 136.9L559.7 136.9L556.9 131.9Z" fill="none" stroke="#1a9f7c" stroke-width="1.1"/><path d="M555.8 143.3L561.4 143.3L558.6 138.3Z" fill="none" stroke="#1a9f7c" stroke-width="1.1"/><path d="M554.5 135.5L560.1 135.5L557.3 130.5Z" fill="none" stroke="#1a9f7c" stroke-width="1.1"/><path d="M552.7 136.6L558.2 136.6L555.5 131.6Z" fill="none" stroke="#1a9f7c" stroke-width="1.1"/><path d="M561.7 111.3L567.3 111.3L564.5 106.3Z" fill="none" stroke="#1a9f7c" stroke-width="1.1"/><path d="M561.6 107.9L567.2 107.9L564.4 102.9Z" fill="none" stroke="#1a9f7c" stroke-width="1.1"/><path d="M561.0 110.5L566.6 110.5L563.8 105.5Z" fill="none" stroke="#1a9f7c" stroke-width="1.1"/><path d="M560.9 107.6L566.5 107.6L563.7 102.6Z" fill="none" stroke="#1a9f7c" stroke-width="1.1"/><path d="M561.0 103.3L566.6 103.3L563.8 98.3Z" fill="none" stroke="#1a9f7c" stroke-width="1.1"/><path d="M562.6 140.5L568.1 140.5L565.4 135.5Z" fill="none" stroke="#1a9f7c" stroke-width="1.1"/><path d="M560.5 131.0L566.1 131.0L563.3 126.0Z" fill="none" stroke="#1a9f7c" stroke-width="1.1"/><path d="M561.3 144.4L566.9 144.4L564.1 139.4Z" fill="none" stroke="#1a9f7c" stroke-width="1.1"/><path d="M560.6 136.0L566.2 136.0L563.4 131.0Z" fill="none" stroke="#1a9f7c" stroke-width="1.1"/><path d="M562.0 139.1L567.6 139.1L564.8 134.1Z" fill="none" stroke="#1a9f7c" stroke-width="1.1"/><path d="M561.0 136.9L566.6 136.9L563.8 131.9Z" fill="none" stroke="#1a9f7c" stroke-width="1.1"/><path d="M561.7 127.7L567.3 127.7L564.5 122.7Z" fill="none" stroke="#1a9f7c" stroke-width="1.1"/><path d="M561.2 126.7L566.8 126.7L564.0 121.7Z" fill="none" stroke="#1a9f7c" stroke-width="1.1"/><path d="M575.5 143.4L581.1 143.4L578.3 138.4Z" fill="none" stroke="#1a9f7c" stroke-width="1.1"/><path d="M579.2 142.6L584.8 142.6L582.0 137.6Z" fill="none" stroke="#1a9f7c" stroke-width="1.1"/><path d="M578.4 141.8L584.0 141.8L581.2 136.8Z" fill="none" stroke="#1a9f7c" stroke-width="1.1"/><path d="M577.1 136.1L582.6 136.1L579.9 131.1Z" fill="none" stroke="#1a9f7c" stroke-width="1.1"/><path d="M578.0 136.8L583.6 136.8L580.8 131.8Z" fill="none" stroke="#1a9f7c" stroke-width="1.1"/></g>
<path d="M482.2 144.3v-2.4M482.2 3.5v2.4" stroke="#222" stroke-width="0.8"/><text x="482.2" y="159.1" font-size="12" text-anchor="middle" fill="#1c1c1c">0</text><path d="M531.2 144.3v-2.4M531.2 3.5v2.4" stroke="#222" stroke-width="0.8"/><text x="531.2" y="159.1" font-size="12" text-anchor="middle" fill="#1c1c1c">0.1</text><path d="M580.3 144.3v-2.4M580.3 3.5v2.4" stroke="#222" stroke-width="0.8"/><text x="580.3" y="159.1" font-size="12" text-anchor="middle" fill="#1c1c1c">0.2</text><path d="M629.3 144.3v-2.4M629.3 3.5v2.4" stroke="#222" stroke-width="0.8"/><text x="629.3" y="159.1" font-size="12" text-anchor="middle" fill="#1c1c1c">0.3</text><path d="M678.4 144.3v-2.4M678.4 3.5v2.4" stroke="#222" stroke-width="0.8"/><text x="678.4" y="159.1" font-size="12" text-anchor="middle" fill="#1c1c1c">0.4</text><path d="M482.2 144.3h2.4M678.4 144.3h-2.4" stroke="#222" stroke-width="0.8"/><text x="478.3" y="148.7" font-size="12" text-anchor="end" fill="#1c1c1c">0</text><path d="M482.2 97.4h2.4M678.4 97.4h-2.4" stroke="#222" stroke-width="0.8"/><text x="478.3" y="101.8" font-size="12" text-anchor="end" fill="#1c1c1c">1</text><path d="M482.2 50.4h2.4M678.4 50.4h-2.4" stroke="#222" stroke-width="0.8"/><text x="478.3" y="54.8" font-size="12" text-anchor="end" fill="#1c1c1c">2</text><path d="M482.2 3.5h2.4M678.4 3.5h-2.4" stroke="#222" stroke-width="0.8"/><text x="478.3" y="7.9" font-size="12" text-anchor="end" fill="#1c1c1c">3</text><text x="580.3" y="174.5" font-size="14.8" font-style="italic" text-anchor="middle" fill="#1c1c1c">β</text>
<rect x="127.3" y="204.5" width="196.3" height="140.5" fill="none" stroke="#262626" stroke-width="1"/>
<g><circle cx="133.8" cy="222.9" r="2.5" fill="none" stroke="#d9472b" stroke-width="1.1"/><circle cx="130.8" cy="236.0" r="2.5" fill="none" stroke="#d9472b" stroke-width="1.1"/><circle cx="142.9" cy="237.6" r="2.5" fill="none" stroke="#d9472b" stroke-width="1.1"/><circle cx="159.8" cy="240.8" r="2.5" fill="none" stroke="#d9472b" stroke-width="1.1"/><circle cx="170.6" cy="242.6" r="2.5" fill="none" stroke="#d9472b" stroke-width="1.1"/><circle cx="143.1" cy="243.9" r="2.5" fill="none" stroke="#d9472b" stroke-width="1.1"/><circle cx="132.9" cy="250.0" r="2.5" fill="none" stroke="#d9472b" stroke-width="1.1"/><circle cx="140.4" cy="248.9" r="2.5" fill="none" stroke="#d9472b" stroke-width="1.1"/><circle cx="132.9" cy="250.6" r="2.5" fill="none" stroke="#d9472b" stroke-width="1.1"/><circle cx="130.4" cy="261.2" r="2.5" fill="none" stroke="#d9472b" stroke-width="1.1"/><circle cx="152.2" cy="261.0" r="2.5" fill="none" stroke="#d9472b" stroke-width="1.1"/><circle cx="159.8" cy="267.5" r="2.5" fill="none" stroke="#d9472b" stroke-width="1.1"/><circle cx="167.9" cy="270.0" r="2.5" fill="none" stroke="#d9472b" stroke-width="1.1"/><circle cx="167.9" cy="273.8" r="2.5" fill="none" stroke="#d9472b" stroke-width="1.1"/><circle cx="177.9" cy="268.1" r="2.5" fill="none" stroke="#d9472b" stroke-width="1.1"/><circle cx="186.0" cy="269.4" r="2.5" fill="none" stroke="#d9472b" stroke-width="1.1"/><circle cx="157.9" cy="273.1" r="2.5" fill="none" stroke="#d9472b" stroke-width="1.1"/><circle cx="151.6" cy="271.2" r="2.5" fill="none" stroke="#d9472b" stroke-width="1.1"/><circle cx="145.4" cy="274.4" r="2.5" fill="none" stroke="#d9472b" stroke-width="1.1"/><circle cx="142.9" cy="263.8" r="2.5" fill="none" stroke="#d9472b" stroke-width="1.1"/><circle cx="133.5" cy="265.0" r="2.5" fill="none" stroke="#d9472b" stroke-width="1.1"/><circle cx="138.5" cy="268.8" r="2.5" fill="none" stroke="#d9472b" stroke-width="1.1"/><circle cx="131.6" cy="274.4" r="2.5" fill="none" stroke="#d9472b" stroke-width="1.1"/><circle cx="147.2" cy="278.1" r="2.5" fill="none" stroke="#d9472b" stroke-width="1.1"/><circle cx="155.4" cy="278.1" r="2.5" fill="none" stroke="#d9472b" stroke-width="1.1"/><circle cx="148.5" cy="282.2" r="2.5" fill="none" stroke="#d9472b" stroke-width="1.1"/><circle cx="133.5" cy="282.5" r="2.5" fill="none" stroke="#d9472b" stroke-width="1.1"/><circle cx="132.2" cy="287.5" r="2.5" fill="none" stroke="#d9472b" stroke-width="1.1"/><circle cx="179.8" cy="282.2" r="2.5" fill="none" stroke="#d9472b" stroke-width="1.1"/><circle cx="151.6" cy="291.2" r="2.5" fill="none" stroke="#d9472b" stroke-width="1.1"/><circle cx="142.2" cy="293.1" r="2.5" fill="none" stroke="#d9472b" stroke-width="1.1"/><circle cx="144.8" cy="296.2" r="2.5" fill="none" stroke="#d9472b" stroke-width="1.1"/><circle cx="152.9" cy="296.9" r="2.5" fill="none" stroke="#d9472b" stroke-width="1.1"/><circle cx="174.1" cy="297.5" r="2.5" fill="none" stroke="#d9472b" stroke-width="1.1"/><circle cx="186.0" cy="292.5" r="2.5" fill="none" stroke="#d9472b" stroke-width="1.1"/><circle cx="137.2" cy="303.0" r="2.5" fill="none" stroke="#d9472b" stroke-width="1.1"/><circle cx="135.4" cy="307.4" r="2.5" fill="none" stroke="#d9472b" stroke-width="1.1"/><circle cx="139.8" cy="306.8" r="2.5" fill="none" stroke="#d9472b" stroke-width="1.1"/><circle cx="132.2" cy="313.6" r="2.5" fill="none" stroke="#d9472b" stroke-width="1.1"/><circle cx="142.9" cy="316.8" r="2.5" fill="none" stroke="#d9472b" stroke-width="1.1"/><circle cx="146.0" cy="303.6" r="2.5" fill="none" stroke="#d9472b" stroke-width="1.1"/><circle cx="148.5" cy="306.8" r="2.5" fill="none" stroke="#d9472b" stroke-width="1.1"/><circle cx="146.6" cy="310.5" r="2.5" fill="none" stroke="#d9472b" stroke-width="1.1"/><circle cx="152.9" cy="313.0" r="2.5" fill="none" stroke="#d9472b" stroke-width="1.1"/><circle cx="159.8" cy="309.2" r="2.5" fill="none" stroke="#d9472b" stroke-width="1.1"/><circle cx="163.5" cy="304.2" r="2.5" fill="none" stroke="#d9472b" stroke-width="1.1"/><circle cx="167.2" cy="303.0" r="2.5" fill="none" stroke="#d9472b" stroke-width="1.1"/><circle cx="171.0" cy="304.9" r="2.5" fill="none" stroke="#d9472b" stroke-width="1.1"/><circle cx="166.6" cy="315.5" r="2.5" fill="none" stroke="#d9472b" stroke-width="1.1"/><circle cx="176.0" cy="308.6" r="2.5" fill="none" stroke="#d9472b" stroke-width="1.1"/><circle cx="181.0" cy="308.0" r="2.5" fill="none" stroke="#d9472b" stroke-width="1.1"/><circle cx="177.9" cy="304.2" r="2.5" fill="none" stroke="#d9472b" stroke-width="1.1"/><circle cx="182.9" cy="300.5" r="2.5" fill="none" stroke="#d9472b" stroke-width="1.1"/><circle cx="144.8" cy="299.2" r="2.5" fill="none" stroke="#d9472b" stroke-width="1.1"/><circle cx="149.1" cy="319.2" r="2.5" fill="none" stroke="#d9472b" stroke-width="1.1"/><circle cx="146.6" cy="321.8" r="2.5" fill="none" stroke="#d9472b" stroke-width="1.1"/><circle cx="151.0" cy="321.8" r="2.5" fill="none" stroke="#d9472b" stroke-width="1.1"/><circle cx="152.2" cy="317.4" r="2.5" fill="none" stroke="#d9472b" stroke-width="1.1"/><circle cx="155.4" cy="319.2" r="2.5" fill="none" stroke="#d9472b" stroke-width="1.1"/><circle cx="157.9" cy="320.5" r="2.5" fill="none" stroke="#d9472b" stroke-width="1.1"/><circle cx="153.5" cy="324.2" r="2.5" fill="none" stroke="#d9472b" stroke-width="1.1"/><circle cx="135.4" cy="324.9" r="2.5" fill="none" stroke="#d9472b" stroke-width="1.1"/><circle cx="138.5" cy="327.4" r="2.5" fill="none" stroke="#d9472b" stroke-width="1.1"/><circle cx="173.5" cy="321.8" r="2.5" fill="none" stroke="#d9472b" stroke-width="1.1"/><circle cx="176.0" cy="324.9" r="2.5" fill="none" stroke="#d9472b" stroke-width="1.1"/><circle cx="171.0" cy="326.8" r="2.5" fill="none" stroke="#d9472b" stroke-width="1.1"/><circle cx="178.5" cy="328.0" r="2.5" fill="none" stroke="#d9472b" stroke-width="1.1"/><circle cx="181.0" cy="330.5" r="2.5" fill="none" stroke="#d9472b" stroke-width="1.1"/><circle cx="174.8" cy="330.5" r="2.5" fill="none" stroke="#d9472b" stroke-width="1.1"/><circle cx="169.8" cy="331.1" r="2.5" fill="none" stroke="#d9472b" stroke-width="1.1"/><circle cx="158.5" cy="329.2" r="2.5" fill="none" stroke="#d9472b" stroke-width="1.1"/><circle cx="143.5" cy="334.2" r="2.5" fill="none" stroke="#d9472b" stroke-width="1.1"/><circle cx="141.0" cy="336.8" r="2.5" fill="none" stroke="#d9472b" stroke-width="1.1"/><circle cx="133.5" cy="335.5" r="2.5" fill="none" stroke="#d9472b" stroke-width="1.1"/><circle cx="129.8" cy="339.2" r="2.5" fill="none" stroke="#d9472b" stroke-width="1.1"/><circle cx="138.5" cy="340.5" r="2.5" fill="none" stroke="#d9472b" stroke-width="1.1"/><circle cx="151.0" cy="334.2" r="2.5" fill="none" stroke="#d9472b" stroke-width="1.1"/><circle cx="163.5" cy="335.5" r="2.5" fill="none" stroke="#d9472b" stroke-width="1.1"/><circle cx="167.2" cy="334.2" r="2.5" fill="none" stroke="#d9472b" stroke-width="1.1"/><circle cx="176.0" cy="335.5" r="2.5" fill="none" stroke="#d9472b" stroke-width="1.1"/><circle cx="182.2" cy="336.8" r="2.5" fill="none" stroke="#d9472b" stroke-width="1.1"/><circle cx="172.2" cy="340.5" r="2.5" fill="none" stroke="#d9472b" stroke-width="1.1"/><circle cx="157.2" cy="339.2" r="2.5" fill="none" stroke="#d9472b" stroke-width="1.1"/><circle cx="146.0" cy="340.5" r="2.5" fill="none" stroke="#d9472b" stroke-width="1.1"/><circle cx="181.0" cy="341.8" r="2.5" fill="none" stroke="#d9472b" stroke-width="1.1"/><circle cx="133.5" cy="343.0" r="2.5" fill="none" stroke="#d9472b" stroke-width="1.1"/><circle cx="229.1" cy="241.8" r="2.5" fill="none" stroke="#d9472b" stroke-width="1.1"/><circle cx="195.0" cy="276.2" r="2.5" fill="none" stroke="#d9472b" stroke-width="1.1"/><circle cx="196.6" cy="288.5" r="2.5" fill="none" stroke="#d9472b" stroke-width="1.1"/><circle cx="198.5" cy="289.4" r="2.5" fill="none" stroke="#d9472b" stroke-width="1.1"/><circle cx="200.4" cy="290.2" r="2.5" fill="none" stroke="#d9472b" stroke-width="1.1"/><circle cx="192.9" cy="298.0" r="2.5" fill="none" stroke="#d9472b" stroke-width="1.1"/><circle cx="190.4" cy="299.2" r="2.5" fill="none" stroke="#d9472b" stroke-width="1.1"/><circle cx="194.1" cy="299.9" r="2.5" fill="none" stroke="#d9472b" stroke-width="1.1"/><circle cx="226.6" cy="301.8" r="2.5" fill="none" stroke="#d9472b" stroke-width="1.1"/><circle cx="244.8" cy="301.1" r="2.5" fill="none" stroke="#d9472b" stroke-width="1.1"/><circle cx="207.2" cy="311.1" r="2.5" fill="none" stroke="#d9472b" stroke-width="1.1"/><circle cx="202.2" cy="312.4" r="2.5" fill="none" stroke="#d9472b" stroke-width="1.1"/><circle cx="225.4" cy="312.4" r="2.5" fill="none" stroke="#d9472b" stroke-width="1.1"/><circle cx="229.8" cy="313.6" r="2.5" fill="none" stroke="#d9472b" stroke-width="1.1"/><circle cx="236.6" cy="310.5" r="2.5" fill="none" stroke="#d9472b" stroke-width="1.1"/><circle cx="229.8" cy="318.0" r="2.5" fill="none" stroke="#d9472b" stroke-width="1.1"/><circle cx="237.9" cy="319.2" r="2.5" fill="none" stroke="#d9472b" stroke-width="1.1"/><circle cx="202.2" cy="325.5" r="2.5" fill="none" stroke="#d9472b" stroke-width="1.1"/><circle cx="200.4" cy="328.0" r="2.5" fill="none" stroke="#d9472b" stroke-width="1.1"/><circle cx="217.9" cy="328.6" r="2.5" fill="none" stroke="#d9472b" stroke-width="1.1"/><circle cx="235.4" cy="325.5" r="2.5" fill="none" stroke="#d9472b" stroke-width="1.1"/><circle cx="230.4" cy="330.5" r="2.5" fill="none" stroke="#d9472b" stroke-width="1.1"/><circle cx="241.0" cy="330.2" r="2.5" fill="none" stroke="#d9472b" stroke-width="1.1"/><circle cx="210.4" cy="329.9" r="2.5" fill="none" stroke="#d9472b" stroke-width="1.1"/><circle cx="193.5" cy="334.9" r="2.5" fill="none" stroke="#d9472b" stroke-width="1.1"/><circle cx="202.9" cy="334.9" r="2.5" fill="none" stroke="#d9472b" stroke-width="1.1"/><circle cx="221.6" cy="334.2" r="2.5" fill="none" stroke="#d9472b" stroke-width="1.1"/><circle cx="196.6" cy="336.8" r="2.5" fill="none" stroke="#d9472b" stroke-width="1.1"/><circle cx="214.1" cy="338.0" r="2.5" fill="none" stroke="#d9472b" stroke-width="1.1"/><circle cx="233.5" cy="338.0" r="2.5" fill="none" stroke="#d9472b" stroke-width="1.1"/><circle cx="236.0" cy="341.1" r="2.5" fill="none" stroke="#d9472b" stroke-width="1.1"/><circle cx="226.0" cy="341.8" r="2.5" fill="none" stroke="#d9472b" stroke-width="1.1"/><circle cx="243.5" cy="341.8" r="2.5" fill="none" stroke="#d9472b" stroke-width="1.1"/><circle cx="187.2" cy="338.0" r="2.5" fill="none" stroke="#d9472b" stroke-width="1.1"/><circle cx="196.0" cy="341.8" r="2.5" fill="none" stroke="#d9472b" stroke-width="1.1"/><circle cx="257.9" cy="300.8" r="2.5" fill="none" stroke="#d9472b" stroke-width="1.1"/><circle cx="265.4" cy="303.6" r="2.5" fill="none" stroke="#d9472b" stroke-width="1.1"/><circle cx="259.8" cy="313.0" r="2.5" fill="none" stroke="#d9472b" stroke-width="1.1"/><circle cx="288.5" cy="312.8" r="2.5" fill="none" stroke="#d9472b" stroke-width="1.1"/><circle cx="301.0" cy="313.9" r="2.5" fill="none" stroke="#d9472b" stroke-width="1.1"/><circle cx="248.5" cy="328.0" r="2.5" fill="none" stroke="#d9472b" stroke-width="1.1"/><circle cx="252.9" cy="329.2" r="2.5" fill="none" stroke="#d9472b" stroke-width="1.1"/><circle cx="267.9" cy="328.0" r="2.5" fill="none" stroke="#d9472b" stroke-width="1.1"/><circle cx="269.1" cy="328.2" r="2.5" fill="none" stroke="#d9472b" stroke-width="1.1"/><circle cx="256.6" cy="334.9" r="2.5" fill="none" stroke="#d9472b" stroke-width="1.1"/><circle cx="262.2" cy="333.6" r="2.5" fill="none" stroke="#d9472b" stroke-width="1.1"/><circle cx="273.5" cy="335.5" r="2.5" fill="none" stroke="#d9472b" stroke-width="1.1"/><circle cx="293.2" cy="334.9" r="2.5" fill="none" stroke="#d9472b" stroke-width="1.1"/><circle cx="279.1" cy="341.8" r="2.5" fill="none" stroke="#d9472b" stroke-width="1.1"/><circle cx="284.1" cy="342.0" r="2.5" fill="none" stroke="#d9472b" stroke-width="1.1"/><circle cx="294.1" cy="343.6" r="2.5" fill="none" stroke="#d9472b" stroke-width="1.1"/><circle cx="312.2" cy="340.5" r="2.5" fill="none" stroke="#d9472b" stroke-width="1.1"/><circle cx="249.8" cy="343.6" r="2.5" fill="none" stroke="#d9472b" stroke-width="1.1"/><rect x="144.7" y="235.7" width="3.9" height="3.9" fill="none" stroke="#3eb0d5" stroke-width="1.1"/><rect x="134.1" y="248.1" width="3.9" height="3.9" fill="none" stroke="#3eb0d5" stroke-width="1.1"/><rect x="140.9" y="248.1" width="3.9" height="3.9" fill="none" stroke="#3eb0d5" stroke-width="1.1"/><rect x="134.7" y="248.7" width="3.9" height="3.9" fill="none" stroke="#3eb0d5" stroke-width="1.1"/><rect x="141.6" y="248.7" width="3.9" height="3.9" fill="none" stroke="#3eb0d5" stroke-width="1.1"/><rect x="133.4" y="257.4" width="3.9" height="3.9" fill="none" stroke="#3eb0d5" stroke-width="1.1"/><rect x="139.1" y="260.6" width="3.9" height="3.9" fill="none" stroke="#3eb0d5" stroke-width="1.1"/><rect x="148.4" y="264.9" width="3.9" height="3.9" fill="none" stroke="#3eb0d5" stroke-width="1.1"/><rect x="162.2" y="271.2" width="3.9" height="3.9" fill="none" stroke="#3eb0d5" stroke-width="1.1"/><rect x="137.8" y="274.9" width="3.9" height="3.9" fill="none" stroke="#3eb0d5" stroke-width="1.1"/><rect x="131.6" y="273.1" width="3.9" height="3.9" fill="none" stroke="#3eb0d5" stroke-width="1.1"/><rect x="129.7" y="276.8" width="3.9" height="3.9" fill="none" stroke="#3eb0d5" stroke-width="1.1"/><rect x="153.4" y="278.7" width="3.9" height="3.9" fill="none" stroke="#3eb0d5" stroke-width="1.1"/><rect x="139.7" y="286.2" width="3.9" height="3.9" fill="none" stroke="#3eb0d5" stroke-width="1.1"/><rect x="175.3" y="286.2" width="3.9" height="3.9" fill="none" stroke="#3eb0d5" stroke-width="1.1"/><rect x="177.8" y="289.9" width="3.9" height="3.9" fill="none" stroke="#3eb0d5" stroke-width="1.1"/><rect x="158.8" y="290.9" width="3.9" height="3.9" fill="none" stroke="#3eb0d5" stroke-width="1.1"/><rect x="146.6" y="293.7" width="3.9" height="3.9" fill="none" stroke="#3eb0d5" stroke-width="1.1"/><rect x="140.3" y="265.6" width="3.9" height="3.9" fill="none" stroke="#3eb0d5" stroke-width="1.1"/><rect x="130.9" y="299.8" width="3.9" height="3.9" fill="none" stroke="#3eb0d5" stroke-width="1.1"/><rect x="154.1" y="301.7" width="3.9" height="3.9" fill="none" stroke="#3eb0d5" stroke-width="1.1"/><rect x="133.4" y="309.8" width="3.9" height="3.9" fill="none" stroke="#3eb0d5" stroke-width="1.1"/><rect x="135.9" y="316.1" width="3.9" height="3.9" fill="none" stroke="#3eb0d5" stroke-width="1.1"/><rect x="155.9" y="311.7" width="3.9" height="3.9" fill="none" stroke="#3eb0d5" stroke-width="1.1"/><rect x="159.1" y="314.2" width="3.9" height="3.9" fill="none" stroke="#3eb0d5" stroke-width="1.1"/><rect x="172.2" y="311.7" width="3.9" height="3.9" fill="none" stroke="#3eb0d5" stroke-width="1.1"/><rect x="182.8" y="312.3" width="3.9" height="3.9" fill="none" stroke="#3eb0d5" stroke-width="1.1"/><rect x="152.2" y="320.4" width="3.9" height="3.9" fill="none" stroke="#3eb0d5" stroke-width="1.1"/><rect x="133.4" y="322.9" width="3.9" height="3.9" fill="none" stroke="#3eb0d5" stroke-width="1.1"/><rect x="140.3" y="326.1" width="3.9" height="3.9" fill="none" stroke="#3eb0d5" stroke-width="1.1"/><rect x="165.3" y="324.2" width="3.9" height="3.9" fill="none" stroke="#3eb0d5" stroke-width="1.1"/><rect x="142.8" y="327.9" width="3.9" height="3.9" fill="none" stroke="#3eb0d5" stroke-width="1.1"/><rect x="147.8" y="327.9" width="3.9" height="3.9" fill="none" stroke="#3eb0d5" stroke-width="1.1"/><rect x="129.7" y="327.9" width="3.9" height="3.9" fill="none" stroke="#3eb0d5" stroke-width="1.1"/><rect x="154.1" y="336.1" width="3.9" height="3.9" fill="none" stroke="#3eb0d5" stroke-width="1.1"/><rect x="157.8" y="334.2" width="3.9" height="3.9" fill="none" stroke="#3eb0d5" stroke-width="1.1"/><rect x="149.1" y="333.6" width="3.9" height="3.9" fill="none" stroke="#3eb0d5" stroke-width="1.1"/><rect x="170.3" y="337.3" width="3.9" height="3.9" fill="none" stroke="#3eb0d5" stroke-width="1.1"/><rect x="180.9" y="337.3" width="3.9" height="3.9" fill="none" stroke="#3eb0d5" stroke-width="1.1"/><rect x="177.8" y="296.7" width="3.9" height="3.9" fill="none" stroke="#3eb0d5" stroke-width="1.1"/><rect x="182.8" y="298.6" width="3.9" height="3.9" fill="none" stroke="#3eb0d5" stroke-width="1.1"/><rect x="136.6" y="333.6" width="3.9" height="3.9" fill="none" stroke="#3eb0d5" stroke-width="1.1"/><rect x="217.6" y="298.6" width="3.9" height="3.9" fill="none" stroke="#3eb0d5" stroke-width="1.1"/><rect x="195.3" y="306.3" width="3.9" height="3.9" fill="none" stroke="#3eb0d5" stroke-width="1.1"/><rect x="211.8" y="306.7" width="3.9" height="3.9" fill="none" stroke="#3eb0d5" stroke-width="1.1"/><rect x="215.9" y="312.3" width="3.9" height="3.9" fill="none" stroke="#3eb0d5" stroke-width="1.1"/><rect x="235.3" y="314.2" width="3.9" height="3.9" fill="none" stroke="#3eb0d5" stroke-width="1.1"/><rect x="185.3" y="314.8" width="3.9" height="3.9" fill="none" stroke="#3eb0d5" stroke-width="1.1"/><rect x="226.6" y="322.9" width="3.9" height="3.9" fill="none" stroke="#3eb0d5" stroke-width="1.1"/><rect x="215.9" y="331.7" width="3.9" height="3.9" fill="none" stroke="#3eb0d5" stroke-width="1.1"/><rect x="209.7" y="331.7" width="3.9" height="3.9" fill="none" stroke="#3eb0d5" stroke-width="1.1"/><rect x="203.4" y="336.1" width="3.9" height="3.9" fill="none" stroke="#3eb0d5" stroke-width="1.1"/><rect x="198.4" y="337.9" width="3.9" height="3.9" fill="none" stroke="#3eb0d5" stroke-width="1.1"/><rect x="190.3" y="336.7" width="3.9" height="3.9" fill="none" stroke="#3eb0d5" stroke-width="1.1"/><rect x="215.9" y="338.6" width="3.9" height="3.9" fill="none" stroke="#3eb0d5" stroke-width="1.1"/><rect x="224.1" y="338.6" width="3.9" height="3.9" fill="none" stroke="#3eb0d5" stroke-width="1.1"/><rect x="236.6" y="336.1" width="3.9" height="3.9" fill="none" stroke="#3eb0d5" stroke-width="1.1"/><rect x="206.6" y="339.8" width="3.9" height="3.9" fill="none" stroke="#3eb0d5" stroke-width="1.1"/><rect x="281.3" y="314.8" width="3.9" height="3.9" fill="none" stroke="#3eb0d5" stroke-width="1.1"/><rect x="289.7" y="324.6" width="3.9" height="3.9" fill="none" stroke="#3eb0d5" stroke-width="1.1"/><rect x="255.6" y="328.3" width="3.9" height="3.9" fill="none" stroke="#3eb0d5" stroke-width="1.1"/><rect x="246.6" y="330.4" width="3.9" height="3.9" fill="none" stroke="#3eb0d5" stroke-width="1.1"/><rect x="270.6" y="333.3" width="3.9" height="3.9" fill="none" stroke="#3eb0d5" stroke-width="1.1"/><rect x="285.6" y="336.4" width="3.9" height="3.9" fill="none" stroke="#3eb0d5" stroke-width="1.1"/><rect x="266.6" y="341.1" width="3.9" height="3.9" fill="none" stroke="#3eb0d5" stroke-width="1.1"/><rect x="279.7" y="341.7" width="3.9" height="3.9" fill="none" stroke="#3eb0d5" stroke-width="1.1"/><rect x="263.4" y="332.3" width="3.9" height="3.9" fill="none" stroke="#3eb0d5" stroke-width="1.1"/><path d="M131.3 262.7L136.9 262.7L134.1 257.7Z" fill="none" stroke="#1a9f7c" stroke-width="1.1"/><path d="M133.8 267.7L139.4 267.7L136.6 262.7Z" fill="none" stroke="#1a9f7c" stroke-width="1.1"/><path d="M138.2 268.4L143.8 268.4L141.0 263.4Z" fill="none" stroke="#1a9f7c" stroke-width="1.1"/><path d="M143.8 269.0L149.4 269.0L146.6 264.0Z" fill="none" stroke="#1a9f7c" stroke-width="1.1"/><path d="M131.9 271.5L137.6 271.5L134.8 266.5Z" fill="none" stroke="#1a9f7c" stroke-width="1.1"/><path d="M135.7 272.7L141.3 272.7L138.5 267.7Z" fill="none" stroke="#1a9f7c" stroke-width="1.1"/><path d="M142.6 273.4L148.2 273.4L145.4 268.4Z" fill="none" stroke="#1a9f7c" stroke-width="1.1"/><path d="M146.3 270.9L151.9 270.9L149.1 265.9Z" fill="none" stroke="#1a9f7c" stroke-width="1.1"/><path d="M153.2 271.5L158.8 271.5L156.0 266.5Z" fill="none" stroke="#1a9f7c" stroke-width="1.1"/><path d="M157.6 263.4L163.2 263.4L160.4 258.4Z" fill="none" stroke="#1a9f7c" stroke-width="1.1"/><path d="M166.7 265.2L172.3 265.2L169.5 260.2Z" fill="none" stroke="#1a9f7c" stroke-width="1.1"/><path d="M132.6 281.5L138.2 281.5L135.4 276.5Z" fill="none" stroke="#1a9f7c" stroke-width="1.1"/><path d="M133.2 284.0L138.8 284.0L136.0 279.0Z" fill="none" stroke="#1a9f7c" stroke-width="1.1"/><path d="M132.6 285.2L138.2 285.2L135.4 280.2Z" fill="none" stroke="#1a9f7c" stroke-width="1.1"/><path d="M139.4 285.9L145.1 285.9L142.2 280.9Z" fill="none" stroke="#1a9f7c" stroke-width="1.1"/><path d="M155.1 288.4L160.7 288.4L157.9 283.4Z" fill="none" stroke="#1a9f7c" stroke-width="1.1"/><path d="M165.1 287.7L170.7 287.7L167.9 282.7Z" fill="none" stroke="#1a9f7c" stroke-width="1.1"/><path d="M143.8 292.7L149.4 292.7L146.6 287.7Z" fill="none" stroke="#1a9f7c" stroke-width="1.1"/><path d="M165.1 295.2L170.7 295.2L167.9 290.2Z" fill="none" stroke="#1a9f7c" stroke-width="1.1"/><path d="M176.3 297.7L181.9 297.7L179.1 292.7Z" fill="none" stroke="#1a9f7c" stroke-width="1.1"/><path d="M165.1 298.4L170.7 298.4L167.9 293.4Z" fill="none" stroke="#1a9f7c" stroke-width="1.1"/><path d="M145.7 303.2L151.3 303.2L148.5 298.2Z" fill="none" stroke="#1a9f7c" stroke-width="1.1"/><path d="M151.9 300.7L157.6 300.7L154.8 295.7Z" fill="none" stroke="#1a9f7c" stroke-width="1.1"/><path d="M165.7 300.7L171.3 300.7L168.5 295.7Z" fill="none" stroke="#1a9f7c" stroke-width="1.1"/><path d="M168.8 300.7L174.4 300.7L171.6 295.7Z" fill="none" stroke="#1a9f7c" stroke-width="1.1"/><path d="M165.7 310.1L171.3 310.1L168.5 305.1Z" fill="none" stroke="#1a9f7c" stroke-width="1.1"/><path d="M175.7 307.0L181.3 307.0L178.5 302.0Z" fill="none" stroke="#1a9f7c" stroke-width="1.1"/><path d="M134.4 312.0L140.1 312.0L137.2 307.0Z" fill="none" stroke="#1a9f7c" stroke-width="1.1"/><path d="M138.8 315.1L144.4 315.1L141.6 310.1Z" fill="none" stroke="#1a9f7c" stroke-width="1.1"/><path d="M163.2 320.7L168.8 320.7L166.0 315.7Z" fill="none" stroke="#1a9f7c" stroke-width="1.1"/><path d="M166.9 327.0L172.6 327.0L169.8 322.0Z" fill="none" stroke="#1a9f7c" stroke-width="1.1"/><path d="M155.1 328.9L160.7 328.9L157.9 323.9Z" fill="none" stroke="#1a9f7c" stroke-width="1.1"/><path d="M160.7 331.4L166.3 331.4L163.5 326.4Z" fill="none" stroke="#1a9f7c" stroke-width="1.1"/><path d="M150.1 330.7L155.7 330.7L152.9 325.7Z" fill="none" stroke="#1a9f7c" stroke-width="1.1"/><path d="M181.9 330.1L187.6 330.1L184.8 325.1Z" fill="none" stroke="#1a9f7c" stroke-width="1.1"/><path d="M129.4 333.9L135.1 333.9L132.2 328.9Z" fill="none" stroke="#1a9f7c" stroke-width="1.1"/><path d="M134.4 333.9L140.1 333.9L137.2 328.9Z" fill="none" stroke="#1a9f7c" stroke-width="1.1"/><path d="M136.9 336.4L142.6 336.4L139.8 331.4Z" fill="none" stroke="#1a9f7c" stroke-width="1.1"/><path d="M131.9 337.6L137.6 337.6L134.8 332.6Z" fill="none" stroke="#1a9f7c" stroke-width="1.1"/><path d="M128.2 338.9L133.8 338.9L131.0 333.9Z" fill="none" stroke="#1a9f7c" stroke-width="1.1"/><path d="M134.4 340.1L140.1 340.1L137.2 335.1Z" fill="none" stroke="#1a9f7c" stroke-width="1.1"/><path d="M130.1 342.6L135.7 342.6L132.9 337.6Z" fill="none" stroke="#1a9f7c" stroke-width="1.1"/><path d="M139.4 341.4L145.1 341.4L142.2 336.4Z" fill="none" stroke="#1a9f7c" stroke-width="1.1"/><path d="M143.2 337.6L148.8 337.6L146.0 332.6Z" fill="none" stroke="#1a9f7c" stroke-width="1.1"/><path d="M145.7 340.1L151.3 340.1L148.5 335.1Z" fill="none" stroke="#1a9f7c" stroke-width="1.1"/><path d="M149.4 341.4L155.1 341.4L152.2 336.4Z" fill="none" stroke="#1a9f7c" stroke-width="1.1"/><path d="M153.2 337.6L158.8 337.6L156.0 332.6Z" fill="none" stroke="#1a9f7c" stroke-width="1.1"/><path d="M158.2 340.1L163.8 340.1L161.0 335.1Z" fill="none" stroke="#1a9f7c" stroke-width="1.1"/><path d="M161.9 341.4L167.6 341.4L164.8 336.4Z" fill="none" stroke="#1a9f7c" stroke-width="1.1"/><path d="M160.7 343.9L166.3 343.9L163.5 338.9Z" fill="none" stroke="#1a9f7c" stroke-width="1.1"/><path d="M165.7 338.9L171.3 338.9L168.5 333.9Z" fill="none" stroke="#1a9f7c" stroke-width="1.1"/><path d="M170.7 337.6L176.3 337.6L173.5 332.6Z" fill="none" stroke="#1a9f7c" stroke-width="1.1"/><path d="M175.7 340.1L181.3 340.1L178.5 335.1Z" fill="none" stroke="#1a9f7c" stroke-width="1.1"/><path d="M180.7 336.4L186.3 336.4L183.5 331.4Z" fill="none" stroke="#1a9f7c" stroke-width="1.1"/><path d="M181.9 341.4L187.6 341.4L184.8 336.4Z" fill="none" stroke="#1a9f7c" stroke-width="1.1"/><path d="M178.2 343.9L183.8 343.9L181.0 338.9Z" fill="none" stroke="#1a9f7c" stroke-width="1.1"/><path d="M173.2 343.9L178.8 343.9L176.0 338.9Z" fill="none" stroke="#1a9f7c" stroke-width="1.1"/><path d="M168.2 344.5L173.8 344.5L171.0 339.5Z" fill="none" stroke="#1a9f7c" stroke-width="1.1"/><path d="M155.7 343.9L161.3 343.9L158.5 338.9Z" fill="none" stroke="#1a9f7c" stroke-width="1.1"/><path d="M150.7 345.1L156.3 345.1L153.5 340.1Z" fill="none" stroke="#1a9f7c" stroke-width="1.1"/><path d="M145.7 344.5L151.3 344.5L148.5 339.5Z" fill="none" stroke="#1a9f7c" stroke-width="1.1"/><path d="M140.7 345.1L146.3 345.1L143.5 340.1Z" fill="none" stroke="#1a9f7c" stroke-width="1.1"/><path d="M135.7 345.1L141.3 345.1L138.5 340.1Z" fill="none" stroke="#1a9f7c" stroke-width="1.1"/><path d="M130.7 345.7L136.3 345.7L133.5 340.7Z" fill="none" stroke="#1a9f7c" stroke-width="1.1"/><path d="M126.3 345.1L131.9 345.1L129.1 340.1Z" fill="none" stroke="#1a9f7c" stroke-width="1.1"/><path d="M126.3 336.4L131.9 336.4L129.1 331.4Z" fill="none" stroke="#1a9f7c" stroke-width="1.1"/><path d="M141.9 335.1L147.6 335.1L144.8 330.1Z" fill="none" stroke="#1a9f7c" stroke-width="1.1"/><path d="M148.2 333.9L153.8 333.9L151.0 328.9Z" fill="none" stroke="#1a9f7c" stroke-width="1.1"/><path d="M190.7 241.2L196.3 241.2L193.5 236.2Z" fill="none" stroke="#1a9f7c" stroke-width="1.1"/><path d="M208.8 242.2L214.4 242.2L211.6 237.2Z" fill="none" stroke="#1a9f7c" stroke-width="1.1"/><path d="M188.2 305.1L193.8 305.1L191.0 300.1Z" fill="none" stroke="#1a9f7c" stroke-width="1.1"/><path d="M190.7 309.5L196.3 309.5L193.5 304.5Z" fill="none" stroke="#1a9f7c" stroke-width="1.1"/><path d="M200.7 310.1L206.3 310.1L203.5 305.1Z" fill="none" stroke="#1a9f7c" stroke-width="1.1"/><path d="M199.4 312.6L205.1 312.6L202.2 307.6Z" fill="none" stroke="#1a9f7c" stroke-width="1.1"/><path d="M228.2 306.4L233.8 306.4L231.0 301.4Z" fill="none" stroke="#1a9f7c" stroke-width="1.1"/><path d="M226.3 311.4L231.9 311.4L229.1 306.4Z" fill="none" stroke="#1a9f7c" stroke-width="1.1"/><path d="M227.6 326.4L233.2 326.4L230.4 321.4Z" fill="none" stroke="#1a9f7c" stroke-width="1.1"/><path d="M226.3 328.9L231.9 328.9L229.1 323.9Z" fill="none" stroke="#1a9f7c" stroke-width="1.1"/><path d="M205.7 327.0L211.3 327.0L208.5 322.0Z" fill="none" stroke="#1a9f7c" stroke-width="1.1"/><path d="M205.7 330.7L211.3 330.7L208.5 325.7Z" fill="none" stroke="#1a9f7c" stroke-width="1.1"/><path d="M205.7 333.2L211.3 333.2L208.5 328.2Z" fill="none" stroke="#1a9f7c" stroke-width="1.1"/><path d="M188.8 329.5L194.4 329.5L191.6 324.5Z" fill="none" stroke="#1a9f7c" stroke-width="1.1"/><path d="M183.8 328.2L189.4 328.2L186.6 323.2Z" fill="none" stroke="#1a9f7c" stroke-width="1.1"/><path d="M184.4 332.6L190.1 332.6L187.2 327.6Z" fill="none" stroke="#1a9f7c" stroke-width="1.1"/><path d="M206.9 340.7L212.6 340.7L209.8 335.7Z" fill="none" stroke="#1a9f7c" stroke-width="1.1"/><path d="M186.3 340.1L191.9 340.1L189.1 335.1Z" fill="none" stroke="#1a9f7c" stroke-width="1.1"/><path d="M236.9 339.5L242.6 339.5L239.8 334.5Z" fill="none" stroke="#1a9f7c" stroke-width="1.1"/><path d="M242.6 336.4L248.2 336.4L245.4 331.4Z" fill="none" stroke="#1a9f7c" stroke-width="1.1"/><path d="M238.2 343.9L243.8 343.9L241.0 338.9Z" fill="none" stroke="#1a9f7c" stroke-width="1.1"/><path d="M245.7 312.4L251.3 312.4L248.5 307.4Z" fill="none" stroke="#1a9f7c" stroke-width="1.1"/><path d="M256.9 312.4L262.6 312.4L259.8 307.4Z" fill="none" stroke="#1a9f7c" stroke-width="1.1"/><path d="M245.1 335.1L250.7 335.1L247.9 330.1Z" fill="none" stroke="#1a9f7c" stroke-width="1.1"/><path d="M261.3 335.7L266.9 335.7L264.1 330.7Z" fill="none" stroke="#1a9f7c" stroke-width="1.1"/><path d="M254.7 342.6L260.3 342.6L257.5 337.6Z" fill="none" stroke="#1a9f7c" stroke-width="1.1"/><path d="M132.2 345.1L137.8 345.1L135.0 340.1Z" fill="none" stroke="#1a9f7c" stroke-width="1.1"/><circle cx="182.0" cy="341.0" r="2.5" fill="none" stroke="#d9472b" stroke-width="1.1"/><rect x="171.0" y="334.1" width="3.9" height="3.9" fill="none" stroke="#3eb0d5" stroke-width="1.1"/><path d="M153.3 346.3L158.9 346.3L156.1 341.3Z" fill="none" stroke="#1a9f7c" stroke-width="1.1"/><path d="M135.2 342.6L140.8 342.6L138.0 337.6Z" fill="none" stroke="#1a9f7c" stroke-width="1.1"/><path d="M153.4 345.0L159.0 345.0L156.2 340.0Z" fill="none" stroke="#1a9f7c" stroke-width="1.1"/><rect x="183.5" y="340.8" width="3.9" height="3.9" fill="none" stroke="#3eb0d5" stroke-width="1.1"/><circle cx="162.6" cy="336.9" r="2.5" fill="none" stroke="#d9472b" stroke-width="1.1"/><circle cx="161.9" cy="342.6" r="2.5" fill="none" stroke="#d9472b" stroke-width="1.1"/><rect x="146.2" y="339.4" width="3.9" height="3.9" fill="none" stroke="#3eb0d5" stroke-width="1.1"/><rect x="172.8" y="330.4" width="3.9" height="3.9" fill="none" stroke="#3eb0d5" stroke-width="1.1"/><circle cx="146.5" cy="340.4" r="2.5" fill="none" stroke="#d9472b" stroke-width="1.1"/><circle cx="184.0" cy="342.8" r="2.5" fill="none" stroke="#d9472b" stroke-width="1.1"/><path d="M179.6 340.3L185.2 340.3L182.4 335.3Z" fill="none" stroke="#1a9f7c" stroke-width="1.1"/><circle cx="141.4" cy="341.3" r="2.5" fill="none" stroke="#d9472b" stroke-width="1.1"/><path d="M174.0 332.1L179.6 332.1L176.8 327.1Z" fill="none" stroke="#1a9f7c" stroke-width="1.1"/><circle cx="161.7" cy="343.3" r="2.5" fill="none" stroke="#d9472b" stroke-width="1.1"/><path d="M171.9 339.6L177.6 339.6L174.8 334.6Z" fill="none" stroke="#1a9f7c" stroke-width="1.1"/><path d="M176.3 343.5L182.0 343.5L179.2 338.5Z" fill="none" stroke="#1a9f7c" stroke-width="1.1"/><circle cx="154.1" cy="343.9" r="2.5" fill="none" stroke="#d9472b" stroke-width="1.1"/><rect x="183.0" y="341.1" width="3.9" height="3.9" fill="none" stroke="#3eb0d5" stroke-width="1.1"/><circle cx="138.7" cy="340.9" r="2.5" fill="none" stroke="#d9472b" stroke-width="1.1"/><path d="M160.1 343.9L165.7 343.9L162.9 338.9Z" fill="none" stroke="#1a9f7c" stroke-width="1.1"/><circle cx="180.6" cy="339.9" r="2.5" fill="none" stroke="#d9472b" stroke-width="1.1"/><path d="M130.3 343.0L135.9 343.0L133.1 338.0Z" fill="none" stroke="#1a9f7c" stroke-width="1.1"/><path d="M160.8 339.3L166.4 339.3L163.6 334.3Z" fill="none" stroke="#1a9f7c" stroke-width="1.1"/><circle cx="151.3" cy="338.9" r="2.5" fill="none" stroke="#d9472b" stroke-width="1.1"/><rect x="136.1" y="335.8" width="3.9" height="3.9" fill="none" stroke="#3eb0d5" stroke-width="1.1"/><path d="M175.7 342.5L181.3 342.5L178.5 337.5Z" fill="none" stroke="#1a9f7c" stroke-width="1.1"/><rect x="130.1" y="341.0" width="3.9" height="3.9" fill="none" stroke="#3eb0d5" stroke-width="1.1"/><path d="M168.6 341.2L174.2 341.2L171.4 336.2Z" fill="none" stroke="#1a9f7c" stroke-width="1.1"/><circle cx="185.5" cy="342.8" r="2.5" fill="none" stroke="#d9472b" stroke-width="1.1"/><path d="M128.4 338.3L134.1 338.3L131.2 333.3Z" fill="none" stroke="#1a9f7c" stroke-width="1.1"/><rect x="130.1" y="338.3" width="3.9" height="3.9" fill="none" stroke="#3eb0d5" stroke-width="1.1"/><path d="M153.6 344.7L159.2 344.7L156.4 339.7Z" fill="none" stroke="#1a9f7c" stroke-width="1.1"/><path d="M139.9 337.6L145.5 337.6L142.7 332.6Z" fill="none" stroke="#1a9f7c" stroke-width="1.1"/><path d="M157.4 337.3L163.1 337.3L160.2 332.3Z" fill="none" stroke="#1a9f7c" stroke-width="1.1"/><path d="M139.0 335.5L144.6 335.5L141.8 330.5Z" fill="none" stroke="#1a9f7c" stroke-width="1.1"/><path d="M130.4 342.4L136.0 342.4L133.2 337.4Z" fill="none" stroke="#1a9f7c" stroke-width="1.1"/><path d="M178.7 343.4L184.3 343.4L181.5 338.4Z" fill="none" stroke="#1a9f7c" stroke-width="1.1"/><rect x="131.1" y="334.0" width="3.9" height="3.9" fill="none" stroke="#3eb0d5" stroke-width="1.1"/><path d="M133.9 331.1L139.5 331.1L136.7 326.1Z" fill="none" stroke="#1a9f7c" stroke-width="1.1"/><path d="M138.8 331.7L144.4 331.7L141.6 326.7Z" fill="none" stroke="#1a9f7c" stroke-width="1.1"/><path d="M133.1 338.0L138.8 338.0L135.9 333.0Z" fill="none" stroke="#1a9f7c" stroke-width="1.1"/><circle cx="149.1" cy="332.1" r="2.5" fill="none" stroke="#d9472b" stroke-width="1.1"/><circle cx="139.5" cy="328.3" r="2.5" fill="none" stroke="#d9472b" stroke-width="1.1"/><path d="M139.2 337.4L144.8 337.4L142.0 332.4Z" fill="none" stroke="#1a9f7c" stroke-width="1.1"/><path d="M139.7 328.1L145.3 328.1L142.5 323.1Z" fill="none" stroke="#1a9f7c" stroke-width="1.1"/><rect x="135.1" y="321.3" width="3.9" height="3.9" fill="none" stroke="#3eb0d5" stroke-width="1.1"/></g>
<path d="M127.3 345.0v-2.4M127.3 204.5v2.4" stroke="#222" stroke-width="0.8"/><text x="127.3" y="359.8" font-size="12" text-anchor="middle" fill="#1c1c1c">0</text><path d="M187.7 345.0v-2.4M187.7 204.5v2.4" stroke="#222" stroke-width="0.8"/><text x="187.7" y="359.8" font-size="12" text-anchor="middle" fill="#1c1c1c">2000</text><path d="M248.1 345.0v-2.4M248.1 204.5v2.4" stroke="#222" stroke-width="0.8"/><text x="248.1" y="359.8" font-size="12" text-anchor="middle" fill="#1c1c1c">4000</text><path d="M308.5 345.0v-2.4M308.5 204.5v2.4" stroke="#222" stroke-width="0.8"/><text x="308.5" y="359.8" font-size="12" text-anchor="middle" fill="#1c1c1c">6000</text><path d="M127.3 345.0h2.4M323.6 345.0h-2.4" stroke="#222" stroke-width="0.8"/><text x="123.4" y="349.4" font-size="12" text-anchor="end" fill="#1c1c1c">0</text><path d="M127.3 298.2h2.4M323.6 298.2h-2.4" stroke="#222" stroke-width="0.8"/><text x="123.4" y="302.6" font-size="12" text-anchor="end" fill="#1c1c1c">1</text><path d="M127.3 251.3h2.4M323.6 251.3h-2.4" stroke="#222" stroke-width="0.8"/><text x="123.4" y="255.7" font-size="12" text-anchor="end" fill="#1c1c1c">2</text><path d="M127.3 204.5h2.4M323.6 204.5h-2.4" stroke="#222" stroke-width="0.8"/><text x="123.4" y="208.9" font-size="12" text-anchor="end" fill="#1c1c1c">3</text><text x="225.9" y="375.4" font-size="13.4" font-style="italic" text-anchor="middle" fill="#1c1c1c">Re<tspan font-size="10.8" dx="-0.2" dy="6.6">p</tspan></text><text transform="translate(107.5,273.9) rotate(-90)" font-size="13.4" font-style="italic" text-anchor="middle" fill="#1c1c1c">C<tspan font-size="10.8" dx="0.3" dy="6">d</tspan></text>
<rect x="369" y="204.5" width="196.0" height="140.5" fill="none" stroke="#262626" stroke-width="1"/>
<g><circle cx="388.6" cy="223.0" r="2.5" fill="none" stroke="#d9472b" stroke-width="1.1"/><circle cx="371.8" cy="235.8" r="2.5" fill="none" stroke="#d9472b" stroke-width="1.1"/><circle cx="372.8" cy="237.6" r="2.5" fill="none" stroke="#d9472b" stroke-width="1.1"/><circle cx="376.1" cy="240.8" r="2.5" fill="none" stroke="#d9472b" stroke-width="1.1"/><circle cx="392.4" cy="241.8" r="2.5" fill="none" stroke="#d9472b" stroke-width="1.1"/><circle cx="414.2" cy="242.2" r="2.5" fill="none" stroke="#d9472b" stroke-width="1.1"/><circle cx="416.1" cy="243.9" r="2.5" fill="none" stroke="#d9472b" stroke-width="1.1"/><circle cx="401.1" cy="248.9" r="2.5" fill="none" stroke="#d9472b" stroke-width="1.1"/><circle cx="378.6" cy="251.2" r="2.5" fill="none" stroke="#d9472b" stroke-width="1.1"/><circle cx="372.4" cy="261.9" r="2.5" fill="none" stroke="#d9472b" stroke-width="1.1"/><circle cx="389.2" cy="263.8" r="2.5" fill="none" stroke="#d9472b" stroke-width="1.1"/><circle cx="397.4" cy="266.2" r="2.5" fill="none" stroke="#d9472b" stroke-width="1.1"/><circle cx="399.9" cy="268.1" r="2.5" fill="none" stroke="#d9472b" stroke-width="1.1"/><circle cx="418.0" cy="270.0" r="2.5" fill="none" stroke="#d9472b" stroke-width="1.1"/><circle cx="418.0" cy="273.8" r="2.5" fill="none" stroke="#d9472b" stroke-width="1.1"/><circle cx="418.0" cy="278.1" r="2.5" fill="none" stroke="#d9472b" stroke-width="1.1"/><circle cx="376.1" cy="274.4" r="2.5" fill="none" stroke="#d9472b" stroke-width="1.1"/><circle cx="388.0" cy="275.0" r="2.5" fill="none" stroke="#d9472b" stroke-width="1.1"/><circle cx="399.9" cy="276.5" r="2.5" fill="none" stroke="#d9472b" stroke-width="1.1"/><circle cx="394.2" cy="279.4" r="2.5" fill="none" stroke="#d9472b" stroke-width="1.1"/><circle cx="393.6" cy="285.0" r="2.5" fill="none" stroke="#d9472b" stroke-width="1.1"/><circle cx="405.5" cy="282.2" r="2.5" fill="none" stroke="#d9472b" stroke-width="1.1"/><circle cx="414.9" cy="282.8" r="2.5" fill="none" stroke="#d9472b" stroke-width="1.1"/><circle cx="378.6" cy="282.5" r="2.5" fill="none" stroke="#d9472b" stroke-width="1.1"/><circle cx="385.5" cy="285.6" r="2.5" fill="none" stroke="#d9472b" stroke-width="1.1"/><circle cx="381.8" cy="285.0" r="2.5" fill="none" stroke="#d9472b" stroke-width="1.1"/><circle cx="408.6" cy="288.1" r="2.5" fill="none" stroke="#d9472b" stroke-width="1.1"/><circle cx="423.0" cy="292.2" r="2.5" fill="none" stroke="#d9472b" stroke-width="1.1"/><circle cx="412.4" cy="292.5" r="2.5" fill="none" stroke="#d9472b" stroke-width="1.1"/><circle cx="374.9" cy="293.8" r="2.5" fill="none" stroke="#d9472b" stroke-width="1.1"/><circle cx="378.6" cy="296.9" r="2.5" fill="none" stroke="#d9472b" stroke-width="1.1"/><circle cx="401.1" cy="295.0" r="2.5" fill="none" stroke="#d9472b" stroke-width="1.1"/><circle cx="409.2" cy="296.9" r="2.5" fill="none" stroke="#d9472b" stroke-width="1.1"/><circle cx="378.0" cy="299.2" r="2.5" fill="none" stroke="#d9472b" stroke-width="1.1"/><circle cx="381.8" cy="298.6" r="2.5" fill="none" stroke="#d9472b" stroke-width="1.1"/><circle cx="389.9" cy="302.4" r="2.5" fill="none" stroke="#d9472b" stroke-width="1.1"/><circle cx="393.0" cy="303.6" r="2.5" fill="none" stroke="#d9472b" stroke-width="1.1"/><circle cx="391.1" cy="306.8" r="2.5" fill="none" stroke="#d9472b" stroke-width="1.1"/><circle cx="388.0" cy="308.0" r="2.5" fill="none" stroke="#d9472b" stroke-width="1.1"/><circle cx="394.9" cy="309.2" r="2.5" fill="none" stroke="#d9472b" stroke-width="1.1"/><circle cx="398.0" cy="306.8" r="2.5" fill="none" stroke="#d9472b" stroke-width="1.1"/><circle cx="404.2" cy="305.5" r="2.5" fill="none" stroke="#d9472b" stroke-width="1.1"/><circle cx="408.0" cy="307.4" r="2.5" fill="none" stroke="#d9472b" stroke-width="1.1"/><circle cx="411.1" cy="310.5" r="2.5" fill="none" stroke="#d9472b" stroke-width="1.1"/><circle cx="407.4" cy="313.0" r="2.5" fill="none" stroke="#d9472b" stroke-width="1.1"/><circle cx="404.2" cy="316.8" r="2.5" fill="none" stroke="#d9472b" stroke-width="1.1"/><circle cx="399.9" cy="313.0" r="2.5" fill="none" stroke="#d9472b" stroke-width="1.1"/><circle cx="396.8" cy="310.5" r="2.5" fill="none" stroke="#d9472b" stroke-width="1.1"/><circle cx="376.1" cy="313.6" r="2.5" fill="none" stroke="#d9472b" stroke-width="1.1"/><circle cx="380.5" cy="310.5" r="2.5" fill="none" stroke="#d9472b" stroke-width="1.1"/><circle cx="380.5" cy="318.6" r="2.5" fill="none" stroke="#d9472b" stroke-width="1.1"/><circle cx="384.2" cy="319.9" r="2.5" fill="none" stroke="#d9472b" stroke-width="1.1"/><circle cx="381.8" cy="321.8" r="2.5" fill="none" stroke="#d9472b" stroke-width="1.1"/><circle cx="379.9" cy="323.0" r="2.5" fill="none" stroke="#d9472b" stroke-width="1.1"/><circle cx="383.6" cy="323.6" r="2.5" fill="none" stroke="#d9472b" stroke-width="1.1"/><circle cx="387.4" cy="314.2" r="2.5" fill="none" stroke="#d9472b" stroke-width="1.1"/><circle cx="409.2" cy="301.1" r="2.5" fill="none" stroke="#d9472b" stroke-width="1.1"/><circle cx="419.2" cy="299.2" r="2.5" fill="none" stroke="#d9472b" stroke-width="1.1"/><circle cx="424.2" cy="298.6" r="2.5" fill="none" stroke="#d9472b" stroke-width="1.1"/><circle cx="413.6" cy="322.4" r="2.5" fill="none" stroke="#d9472b" stroke-width="1.1"/><circle cx="411.1" cy="324.9" r="2.5" fill="none" stroke="#d9472b" stroke-width="1.1"/><circle cx="403.6" cy="325.5" r="2.5" fill="none" stroke="#d9472b" stroke-width="1.1"/><circle cx="376.8" cy="331.8" r="2.5" fill="none" stroke="#d9472b" stroke-width="1.1"/><circle cx="380.5" cy="334.2" r="2.5" fill="none" stroke="#d9472b" stroke-width="1.1"/><circle cx="396.1" cy="326.1" r="2.5" fill="none" stroke="#d9472b" stroke-width="1.1"/><circle cx="416.8" cy="328.0" r="2.5" fill="none" stroke="#d9472b" stroke-width="1.1"/><circle cx="398.0" cy="336.8" r="2.5" fill="none" stroke="#d9472b" stroke-width="1.1"/><circle cx="411.8" cy="334.2" r="2.5" fill="none" stroke="#d9472b" stroke-width="1.1"/><circle cx="416.1" cy="336.8" r="2.5" fill="none" stroke="#d9472b" stroke-width="1.1"/><circle cx="424.9" cy="338.0" r="2.5" fill="none" stroke="#d9472b" stroke-width="1.1"/><circle cx="426.1" cy="341.8" r="2.5" fill="none" stroke="#d9472b" stroke-width="1.1"/><circle cx="384.2" cy="340.5" r="2.5" fill="none" stroke="#d9472b" stroke-width="1.1"/><circle cx="375.5" cy="340.5" r="2.5" fill="none" stroke="#d9472b" stroke-width="1.1"/><circle cx="393.0" cy="340.5" r="2.5" fill="none" stroke="#d9472b" stroke-width="1.1"/><circle cx="405.5" cy="340.5" r="2.5" fill="none" stroke="#d9472b" stroke-width="1.1"/><circle cx="420.5" cy="333.0" r="2.5" fill="none" stroke="#d9472b" stroke-width="1.1"/><circle cx="406.8" cy="330.5" r="2.5" fill="none" stroke="#d9472b" stroke-width="1.1"/><circle cx="434.0" cy="261.0" r="2.5" fill="none" stroke="#d9472b" stroke-width="1.1"/><circle cx="434.2" cy="270.6" r="2.5" fill="none" stroke="#d9472b" stroke-width="1.1"/><circle cx="434.2" cy="274.4" r="2.5" fill="none" stroke="#d9472b" stroke-width="1.1"/><circle cx="431.8" cy="288.8" r="2.5" fill="none" stroke="#d9472b" stroke-width="1.1"/><circle cx="434.9" cy="290.0" r="2.5" fill="none" stroke="#d9472b" stroke-width="1.1"/><circle cx="436.1" cy="298.0" r="2.5" fill="none" stroke="#d9472b" stroke-width="1.1"/><circle cx="454.2" cy="298.0" r="2.5" fill="none" stroke="#d9472b" stroke-width="1.1"/><circle cx="436.1" cy="298.6" r="2.5" fill="none" stroke="#d9472b" stroke-width="1.1"/><circle cx="456.1" cy="299.2" r="2.5" fill="none" stroke="#d9472b" stroke-width="1.1"/><circle cx="458.6" cy="301.8" r="2.5" fill="none" stroke="#d9472b" stroke-width="1.1"/><circle cx="475.5" cy="301.1" r="2.5" fill="none" stroke="#d9472b" stroke-width="1.1"/><circle cx="486.8" cy="300.5" r="2.5" fill="none" stroke="#d9472b" stroke-width="1.1"/><circle cx="443.0" cy="303.6" r="2.5" fill="none" stroke="#d9472b" stroke-width="1.1"/><circle cx="446.1" cy="304.9" r="2.5" fill="none" stroke="#d9472b" stroke-width="1.1"/><circle cx="433.0" cy="307.4" r="2.5" fill="none" stroke="#d9472b" stroke-width="1.1"/><circle cx="430.5" cy="313.0" r="2.5" fill="none" stroke="#d9472b" stroke-width="1.1"/><circle cx="432.4" cy="317.4" r="2.5" fill="none" stroke="#d9472b" stroke-width="1.1"/><circle cx="444.2" cy="312.4" r="2.5" fill="none" stroke="#d9472b" stroke-width="1.1"/><circle cx="460.5" cy="312.4" r="2.5" fill="none" stroke="#d9472b" stroke-width="1.1"/><circle cx="467.4" cy="313.6" r="2.5" fill="none" stroke="#d9472b" stroke-width="1.1"/><circle cx="484.9" cy="311.1" r="2.5" fill="none" stroke="#d9472b" stroke-width="1.1"/><circle cx="438.6" cy="318.0" r="2.5" fill="none" stroke="#d9472b" stroke-width="1.1"/><circle cx="439.9" cy="323.0" r="2.5" fill="none" stroke="#d9472b" stroke-width="1.1"/><circle cx="467.4" cy="323.6" r="2.5" fill="none" stroke="#d9472b" stroke-width="1.1"/><circle cx="447.4" cy="327.8" r="2.5" fill="none" stroke="#d9472b" stroke-width="1.1"/><circle cx="453.6" cy="329.9" r="2.5" fill="none" stroke="#d9472b" stroke-width="1.1"/><circle cx="441.1" cy="334.2" r="2.5" fill="none" stroke="#d9472b" stroke-width="1.1"/><circle cx="459.9" cy="333.6" r="2.5" fill="none" stroke="#d9472b" stroke-width="1.1"/><circle cx="480.5" cy="335.2" r="2.5" fill="none" stroke="#d9472b" stroke-width="1.1"/><circle cx="464.9" cy="328.6" r="2.5" fill="none" stroke="#d9472b" stroke-width="1.1"/><circle cx="435.5" cy="330.5" r="2.5" fill="none" stroke="#d9472b" stroke-width="1.1"/><circle cx="431.1" cy="334.2" r="2.5" fill="none" stroke="#d9472b" stroke-width="1.1"/><circle cx="440.5" cy="341.1" r="2.5" fill="none" stroke="#d9472b" stroke-width="1.1"/><circle cx="454.2" cy="341.1" r="2.5" fill="none" stroke="#d9472b" stroke-width="1.1"/><circle cx="468.6" cy="341.8" r="2.5" fill="none" stroke="#d9472b" stroke-width="1.1"/><circle cx="431.8" cy="328.0" r="2.5" fill="none" stroke="#d9472b" stroke-width="1.1"/><circle cx="494.0" cy="303.6" r="2.5" fill="none" stroke="#d9472b" stroke-width="1.1"/><circle cx="517.4" cy="318.0" r="2.5" fill="none" stroke="#d9472b" stroke-width="1.1"/><circle cx="529.0" cy="319.2" r="2.5" fill="none" stroke="#d9472b" stroke-width="1.1"/><circle cx="509.5" cy="328.0" r="2.5" fill="none" stroke="#d9472b" stroke-width="1.1"/><circle cx="534.9" cy="328.0" r="2.5" fill="none" stroke="#d9472b" stroke-width="1.1"/><circle cx="536.8" cy="328.2" r="2.5" fill="none" stroke="#d9472b" stroke-width="1.1"/><circle cx="489.9" cy="331.5" r="2.5" fill="none" stroke="#d9472b" stroke-width="1.1"/><circle cx="493.6" cy="331.1" r="2.5" fill="none" stroke="#d9472b" stroke-width="1.1"/><circle cx="539.2" cy="335.5" r="2.5" fill="none" stroke="#d9472b" stroke-width="1.1"/><circle cx="562.8" cy="334.9" r="2.5" fill="none" stroke="#d9472b" stroke-width="1.1"/><circle cx="503.0" cy="338.0" r="2.5" fill="none" stroke="#d9472b" stroke-width="1.1"/><circle cx="504.2" cy="338.0" r="2.5" fill="none" stroke="#d9472b" stroke-width="1.1"/><circle cx="499.2" cy="339.0" r="2.5" fill="none" stroke="#d9472b" stroke-width="1.1"/><rect x="402.3" y="235.7" width="3.9" height="3.9" fill="none" stroke="#3eb0d5" stroke-width="1.1"/><rect x="374.8" y="248.1" width="3.9" height="3.9" fill="none" stroke="#3eb0d5" stroke-width="1.1"/><rect x="374.8" y="249.3" width="3.9" height="3.9" fill="none" stroke="#3eb0d5" stroke-width="1.1"/><rect x="370.4" y="257.4" width="3.9" height="3.9" fill="none" stroke="#3eb0d5" stroke-width="1.1"/><rect x="378.6" y="265.6" width="3.9" height="3.9" fill="none" stroke="#3eb0d5" stroke-width="1.1"/><rect x="391.7" y="264.3" width="3.9" height="3.9" fill="none" stroke="#3eb0d5" stroke-width="1.1"/><rect x="377.9" y="273.1" width="3.9" height="3.9" fill="none" stroke="#3eb0d5" stroke-width="1.1"/><rect x="381.7" y="274.3" width="3.9" height="3.9" fill="none" stroke="#3eb0d5" stroke-width="1.1"/><rect x="375.4" y="276.8" width="3.9" height="3.9" fill="none" stroke="#3eb0d5" stroke-width="1.1"/><rect x="403.6" y="271.6" width="3.9" height="3.9" fill="none" stroke="#3eb0d5" stroke-width="1.1"/><rect x="411.7" y="275.3" width="3.9" height="3.9" fill="none" stroke="#3eb0d5" stroke-width="1.1"/><rect x="393.6" y="279.3" width="3.9" height="3.9" fill="none" stroke="#3eb0d5" stroke-width="1.1"/><rect x="375.4" y="285.6" width="3.9" height="3.9" fill="none" stroke="#3eb0d5" stroke-width="1.1"/><rect x="411.7" y="286.2" width="3.9" height="3.9" fill="none" stroke="#3eb0d5" stroke-width="1.1"/><rect x="414.8" y="289.9" width="3.9" height="3.9" fill="none" stroke="#3eb0d5" stroke-width="1.1"/><rect x="397.3" y="290.6" width="3.9" height="3.9" fill="none" stroke="#3eb0d5" stroke-width="1.1"/><rect x="406.1" y="293.7" width="3.9" height="3.9" fill="none" stroke="#3eb0d5" stroke-width="1.1"/><rect x="382.9" y="301.7" width="3.9" height="3.9" fill="none" stroke="#3eb0d5" stroke-width="1.1"/><rect x="412.3" y="299.8" width="3.9" height="3.9" fill="none" stroke="#3eb0d5" stroke-width="1.1"/><rect x="416.1" y="306.7" width="3.9" height="3.9" fill="none" stroke="#3eb0d5" stroke-width="1.1"/><rect x="421.7" y="311.7" width="3.9" height="3.9" fill="none" stroke="#3eb0d5" stroke-width="1.1"/><rect x="385.4" y="314.2" width="3.9" height="3.9" fill="none" stroke="#3eb0d5" stroke-width="1.1"/><rect x="391.1" y="316.1" width="3.9" height="3.9" fill="none" stroke="#3eb0d5" stroke-width="1.1"/><rect x="402.9" y="311.7" width="3.9" height="3.9" fill="none" stroke="#3eb0d5" stroke-width="1.1"/><rect x="389.2" y="324.2" width="3.9" height="3.9" fill="none" stroke="#3eb0d5" stroke-width="1.1"/><rect x="409.2" y="327.3" width="3.9" height="3.9" fill="none" stroke="#3eb0d5" stroke-width="1.1"/><rect x="399.2" y="326.1" width="3.9" height="3.9" fill="none" stroke="#3eb0d5" stroke-width="1.1"/><rect x="420.4" y="331.7" width="3.9" height="3.9" fill="none" stroke="#3eb0d5" stroke-width="1.1"/><rect x="392.3" y="332.3" width="3.9" height="3.9" fill="none" stroke="#3eb0d5" stroke-width="1.1"/><rect x="384.8" y="334.8" width="3.9" height="3.9" fill="none" stroke="#3eb0d5" stroke-width="1.1"/><rect x="402.3" y="333.6" width="3.9" height="3.9" fill="none" stroke="#3eb0d5" stroke-width="1.1"/><rect x="412.3" y="336.1" width="3.9" height="3.9" fill="none" stroke="#3eb0d5" stroke-width="1.1"/><rect x="379.8" y="338.6" width="3.9" height="3.9" fill="none" stroke="#3eb0d5" stroke-width="1.1"/><rect x="406.1" y="339.8" width="3.9" height="3.9" fill="none" stroke="#3eb0d5" stroke-width="1.1"/><rect x="417.3" y="333.6" width="3.9" height="3.9" fill="none" stroke="#3eb0d5" stroke-width="1.1"/><rect x="397.3" y="337.3" width="3.9" height="3.9" fill="none" stroke="#3eb0d5" stroke-width="1.1"/><rect x="424.2" y="334.8" width="3.9" height="3.9" fill="none" stroke="#3eb0d5" stroke-width="1.1"/><rect x="430.4" y="299.2" width="3.9" height="3.9" fill="none" stroke="#3eb0d5" stroke-width="1.1"/><rect x="449.8" y="298.6" width="3.9" height="3.9" fill="none" stroke="#3eb0d5" stroke-width="1.1"/><rect x="467.9" y="306.1" width="3.9" height="3.9" fill="none" stroke="#3eb0d5" stroke-width="1.1"/><rect x="434.8" y="312.9" width="3.9" height="3.9" fill="none" stroke="#3eb0d5" stroke-width="1.1"/><rect x="437.3" y="314.8" width="3.9" height="3.9" fill="none" stroke="#3eb0d5" stroke-width="1.1"/><rect x="455.4" y="314.8" width="3.9" height="3.9" fill="none" stroke="#3eb0d5" stroke-width="1.1"/><rect x="427.9" y="320.4" width="3.9" height="3.9" fill="none" stroke="#3eb0d5" stroke-width="1.1"/><rect x="432.3" y="322.9" width="3.9" height="3.9" fill="none" stroke="#3eb0d5" stroke-width="1.1"/><rect x="440.4" y="327.9" width="3.9" height="3.9" fill="none" stroke="#3eb0d5" stroke-width="1.1"/><rect x="434.8" y="332.9" width="3.9" height="3.9" fill="none" stroke="#3eb0d5" stroke-width="1.1"/><rect x="434.2" y="335.4" width="3.9" height="3.9" fill="none" stroke="#3eb0d5" stroke-width="1.1"/><rect x="452.9" y="335.4" width="3.9" height="3.9" fill="none" stroke="#3eb0d5" stroke-width="1.1"/><rect x="444.2" y="336.1" width="3.9" height="3.9" fill="none" stroke="#3eb0d5" stroke-width="1.1"/><rect x="476.1" y="336.7" width="3.9" height="3.9" fill="none" stroke="#3eb0d5" stroke-width="1.1"/><rect x="482.9" y="338.6" width="3.9" height="3.9" fill="none" stroke="#3eb0d5" stroke-width="1.1"/><rect x="441.1" y="341.1" width="3.9" height="3.9" fill="none" stroke="#3eb0d5" stroke-width="1.1"/><rect x="497.6" y="312.3" width="3.9" height="3.9" fill="none" stroke="#3eb0d5" stroke-width="1.1"/><rect x="497.6" y="314.6" width="3.9" height="3.9" fill="none" stroke="#3eb0d5" stroke-width="1.1"/><rect x="488.6" y="322.9" width="3.9" height="3.9" fill="none" stroke="#3eb0d5" stroke-width="1.1"/><rect x="562.3" y="324.6" width="3.9" height="3.9" fill="none" stroke="#3eb0d5" stroke-width="1.1"/><rect x="508.6" y="332.1" width="3.9" height="3.9" fill="none" stroke="#3eb0d5" stroke-width="1.1"/><rect x="527.9" y="332.3" width="3.9" height="3.9" fill="none" stroke="#3eb0d5" stroke-width="1.1"/><rect x="539.8" y="333.3" width="3.9" height="3.9" fill="none" stroke="#3eb0d5" stroke-width="1.1"/><rect x="496.7" y="336.3" width="3.9" height="3.9" fill="none" stroke="#3eb0d5" stroke-width="1.1"/><rect x="486.1" y="339.2" width="3.9" height="3.9" fill="none" stroke="#3eb0d5" stroke-width="1.1"/><path d="M381.2 241.3L386.8 241.3L384.0 236.3Z" fill="none" stroke="#1a9f7c" stroke-width="1.1"/><path d="M385.2 242.0L390.8 242.0L388.0 237.0Z" fill="none" stroke="#1a9f7c" stroke-width="1.1"/><path d="M375.8 263.4L381.4 263.4L378.6 258.4Z" fill="none" stroke="#1a9f7c" stroke-width="1.1"/><path d="M373.3 265.2L378.9 265.2L376.1 260.2Z" fill="none" stroke="#1a9f7c" stroke-width="1.1"/><path d="M377.7 266.5L383.3 266.5L380.5 261.5Z" fill="none" stroke="#1a9f7c" stroke-width="1.1"/><path d="M381.4 264.0L387.1 264.0L384.2 259.0Z" fill="none" stroke="#1a9f7c" stroke-width="1.1"/><path d="M381.4 267.1L387.1 267.1L384.2 262.1Z" fill="none" stroke="#1a9f7c" stroke-width="1.1"/><path d="M385.2 265.9L390.8 265.9L388.0 260.9Z" fill="none" stroke="#1a9f7c" stroke-width="1.1"/><path d="M377.7 269.6L383.3 269.6L380.5 264.6Z" fill="none" stroke="#1a9f7c" stroke-width="1.1"/><path d="M382.1 270.2L387.7 270.2L384.9 265.2Z" fill="none" stroke="#1a9f7c" stroke-width="1.1"/><path d="M385.8 269.6L391.4 269.6L388.6 264.6Z" fill="none" stroke="#1a9f7c" stroke-width="1.1"/><path d="M383.9 272.7L389.6 272.7L386.8 267.7Z" fill="none" stroke="#1a9f7c" stroke-width="1.1"/><path d="M389.6 272.1L395.2 272.1L392.4 267.1Z" fill="none" stroke="#1a9f7c" stroke-width="1.1"/><path d="M393.3 271.5L398.9 271.5L396.1 266.5Z" fill="none" stroke="#1a9f7c" stroke-width="1.1"/><path d="M391.4 274.0L397.1 274.0L394.2 269.0Z" fill="none" stroke="#1a9f7c" stroke-width="1.1"/><path d="M377.7 282.1L383.3 282.1L380.5 277.1Z" fill="none" stroke="#1a9f7c" stroke-width="1.1"/><path d="M380.8 283.4L386.4 283.4L383.6 278.4Z" fill="none" stroke="#1a9f7c" stroke-width="1.1"/><path d="M383.3 282.7L388.9 282.7L386.1 277.7Z" fill="none" stroke="#1a9f7c" stroke-width="1.1"/><path d="M380.2 285.9L385.8 285.9L383.0 280.9Z" fill="none" stroke="#1a9f7c" stroke-width="1.1"/><path d="M407.1 286.5L412.7 286.5L409.9 281.5Z" fill="none" stroke="#1a9f7c" stroke-width="1.1"/><path d="M415.2 288.4L420.8 288.4L418.0 283.4Z" fill="none" stroke="#1a9f7c" stroke-width="1.1"/><path d="M377.1 293.4L382.7 293.4L379.9 288.4Z" fill="none" stroke="#1a9f7c" stroke-width="1.1"/><path d="M395.2 298.4L400.8 298.4L398.0 293.4Z" fill="none" stroke="#1a9f7c" stroke-width="1.1"/><path d="M380.8 299.6L386.4 299.6L383.6 294.6Z" fill="none" stroke="#1a9f7c" stroke-width="1.1"/><path d="M425.2 299.0L430.8 299.0L428.0 294.0Z" fill="none" stroke="#1a9f7c" stroke-width="1.1"/><path d="M377.7 303.2L383.3 303.2L380.5 298.2Z" fill="none" stroke="#1a9f7c" stroke-width="1.1"/><path d="M381.4 300.7L387.1 300.7L384.2 295.7Z" fill="none" stroke="#1a9f7c" stroke-width="1.1"/><path d="M394.6 300.7L400.2 300.7L397.4 295.7Z" fill="none" stroke="#1a9f7c" stroke-width="1.1"/><path d="M402.1 305.1L407.7 305.1L404.9 300.1Z" fill="none" stroke="#1a9f7c" stroke-width="1.1"/><path d="M394.6 307.0L400.2 307.0L397.4 302.0Z" fill="none" stroke="#1a9f7c" stroke-width="1.1"/><path d="M389.6 309.5L395.2 309.5L392.4 304.5Z" fill="none" stroke="#1a9f7c" stroke-width="1.1"/><path d="M381.4 312.0L387.1 312.0L384.2 307.0Z" fill="none" stroke="#1a9f7c" stroke-width="1.1"/><path d="M398.3 312.6L403.9 312.6L401.1 307.6Z" fill="none" stroke="#1a9f7c" stroke-width="1.1"/><path d="M403.9 309.5L409.6 309.5L406.8 304.5Z" fill="none" stroke="#1a9f7c" stroke-width="1.1"/><path d="M423.3 310.7L428.9 310.7L426.1 305.7Z" fill="none" stroke="#1a9f7c" stroke-width="1.1"/><path d="M383.3 328.9L388.9 328.9L386.1 323.9Z" fill="none" stroke="#1a9f7c" stroke-width="1.1"/><path d="M380.8 332.0L386.4 332.0L383.6 327.0Z" fill="none" stroke="#1a9f7c" stroke-width="1.1"/><path d="M385.8 331.4L391.4 331.4L388.6 326.4Z" fill="none" stroke="#1a9f7c" stroke-width="1.1"/><path d="M392.1 327.6L397.7 327.6L394.9 322.6Z" fill="none" stroke="#1a9f7c" stroke-width="1.1"/><path d="M393.9 330.7L399.6 330.7L396.8 325.7Z" fill="none" stroke="#1a9f7c" stroke-width="1.1"/><path d="M389.6 333.9L395.2 333.9L392.4 328.9Z" fill="none" stroke="#1a9f7c" stroke-width="1.1"/><path d="M383.9 335.1L389.6 335.1L386.8 330.1Z" fill="none" stroke="#1a9f7c" stroke-width="1.1"/><path d="M378.9 335.7L384.6 335.7L381.8 330.7Z" fill="none" stroke="#1a9f7c" stroke-width="1.1"/><path d="M371.4 338.2L377.1 338.2L374.2 333.2Z" fill="none" stroke="#1a9f7c" stroke-width="1.1"/><path d="M368.9 341.4L374.6 341.4L371.8 336.4Z" fill="none" stroke="#1a9f7c" stroke-width="1.1"/><path d="M374.6 341.4L380.2 341.4L377.4 336.4Z" fill="none" stroke="#1a9f7c" stroke-width="1.1"/><path d="M377.1 343.9L382.7 343.9L379.9 338.9Z" fill="none" stroke="#1a9f7c" stroke-width="1.1"/><path d="M382.7 343.9L388.3 343.9L385.5 338.9Z" fill="none" stroke="#1a9f7c" stroke-width="1.1"/><path d="M387.7 341.4L393.3 341.4L390.5 336.4Z" fill="none" stroke="#1a9f7c" stroke-width="1.1"/><path d="M388.3 337.6L393.9 337.6L391.1 332.6Z" fill="none" stroke="#1a9f7c" stroke-width="1.1"/><path d="M392.7 340.1L398.3 340.1L395.5 335.1Z" fill="none" stroke="#1a9f7c" stroke-width="1.1"/><path d="M397.7 336.4L403.3 336.4L400.5 331.4Z" fill="none" stroke="#1a9f7c" stroke-width="1.1"/><path d="M402.7 329.5L408.3 329.5L405.5 324.5Z" fill="none" stroke="#1a9f7c" stroke-width="1.1"/><path d="M401.4 333.9L407.1 333.9L404.2 328.9Z" fill="none" stroke="#1a9f7c" stroke-width="1.1"/><path d="M406.4 336.4L412.1 336.4L409.2 331.4Z" fill="none" stroke="#1a9f7c" stroke-width="1.1"/><path d="M403.9 340.1L409.6 340.1L406.8 335.1Z" fill="none" stroke="#1a9f7c" stroke-width="1.1"/><path d="M408.9 342.6L414.6 342.6L411.8 337.6Z" fill="none" stroke="#1a9f7c" stroke-width="1.1"/><path d="M414.6 327.0L420.2 327.0L417.4 322.0Z" fill="none" stroke="#1a9f7c" stroke-width="1.1"/><path d="M419.6 327.0L425.2 327.0L422.4 322.0Z" fill="none" stroke="#1a9f7c" stroke-width="1.1"/><path d="M423.9 326.4L429.6 326.4L426.8 321.4Z" fill="none" stroke="#1a9f7c" stroke-width="1.1"/><path d="M412.7 332.6L418.3 332.6L415.5 327.6Z" fill="none" stroke="#1a9f7c" stroke-width="1.1"/><path d="M417.7 331.4L423.3 331.4L420.5 326.4Z" fill="none" stroke="#1a9f7c" stroke-width="1.1"/><path d="M422.7 331.4L428.3 331.4L425.5 326.4Z" fill="none" stroke="#1a9f7c" stroke-width="1.1"/><path d="M415.2 336.4L420.8 336.4L418.0 331.4Z" fill="none" stroke="#1a9f7c" stroke-width="1.1"/><path d="M421.4 336.4L427.1 336.4L424.2 331.4Z" fill="none" stroke="#1a9f7c" stroke-width="1.1"/><path d="M417.7 341.4L423.3 341.4L420.5 336.4Z" fill="none" stroke="#1a9f7c" stroke-width="1.1"/><path d="M423.9 341.4L429.6 341.4L426.8 336.4Z" fill="none" stroke="#1a9f7c" stroke-width="1.1"/><path d="M412.7 343.9L418.3 343.9L415.5 338.9Z" fill="none" stroke="#1a9f7c" stroke-width="1.1"/><path d="M397.7 343.9L403.3 343.9L400.5 338.9Z" fill="none" stroke="#1a9f7c" stroke-width="1.1"/><path d="M392.7 344.5L398.3 344.5L395.5 339.5Z" fill="none" stroke="#1a9f7c" stroke-width="1.1"/><path d="M371.4 344.5L377.1 344.5L374.2 339.5Z" fill="none" stroke="#1a9f7c" stroke-width="1.1"/><path d="M367.7 344.5L373.3 344.5L370.5 339.5Z" fill="none" stroke="#1a9f7c" stroke-width="1.1"/><path d="M395.2 333.9L400.8 333.9L398.0 328.9Z" fill="none" stroke="#1a9f7c" stroke-width="1.1"/><path d="M407.7 333.2L413.3 333.2L410.5 328.2Z" fill="none" stroke="#1a9f7c" stroke-width="1.1"/><path d="M431.4 288.1L437.1 288.1L434.2 283.1Z" fill="none" stroke="#1a9f7c" stroke-width="1.1"/><path d="M428.9 295.9L434.6 295.9L431.8 290.9Z" fill="none" stroke="#1a9f7c" stroke-width="1.1"/><path d="M460.2 306.4L465.8 306.4L463.0 301.4Z" fill="none" stroke="#1a9f7c" stroke-width="1.1"/><path d="M434.6 312.0L440.2 312.0L437.4 307.0Z" fill="none" stroke="#1a9f7c" stroke-width="1.1"/><path d="M440.8 312.0L446.4 312.0L443.6 307.0Z" fill="none" stroke="#1a9f7c" stroke-width="1.1"/><path d="M452.7 312.0L458.3 312.0L455.5 307.0Z" fill="none" stroke="#1a9f7c" stroke-width="1.1"/><path d="M476.4 310.1L482.1 310.1L479.2 305.1Z" fill="none" stroke="#1a9f7c" stroke-width="1.1"/><path d="M455.8 320.7L461.4 320.7L458.6 315.7Z" fill="none" stroke="#1a9f7c" stroke-width="1.1"/><path d="M460.2 326.4L465.8 326.4L463.0 321.4Z" fill="none" stroke="#1a9f7c" stroke-width="1.1"/><path d="M484.6 327.0L490.2 327.0L487.4 322.0Z" fill="none" stroke="#1a9f7c" stroke-width="1.1"/><path d="M462.7 332.0L468.3 332.0L465.5 327.0Z" fill="none" stroke="#1a9f7c" stroke-width="1.1"/><path d="M462.7 335.7L468.3 335.7L465.5 330.7Z" fill="none" stroke="#1a9f7c" stroke-width="1.1"/><path d="M460.8 338.9L466.4 338.9L463.6 333.9Z" fill="none" stroke="#1a9f7c" stroke-width="1.1"/><path d="M463.9 340.1L469.6 340.1L466.8 335.1Z" fill="none" stroke="#1a9f7c" stroke-width="1.1"/><path d="M457.1 340.1L462.7 340.1L459.9 335.1Z" fill="none" stroke="#1a9f7c" stroke-width="1.1"/><path d="M445.8 337.0L451.4 337.0L448.6 332.0Z" fill="none" stroke="#1a9f7c" stroke-width="1.1"/><path d="M443.9 341.4L449.6 341.4L446.8 336.4Z" fill="none" stroke="#1a9f7c" stroke-width="1.1"/><path d="M470.8 337.6L476.4 337.6L473.6 332.6Z" fill="none" stroke="#1a9f7c" stroke-width="1.1"/><path d="M472.1 342.0L477.7 342.0L474.9 337.0Z" fill="none" stroke="#1a9f7c" stroke-width="1.1"/><path d="M467.7 342.6L473.3 342.6L470.5 337.6Z" fill="none" stroke="#1a9f7c" stroke-width="1.1"/><path d="M430.8 341.4L436.4 341.4L433.6 336.4Z" fill="none" stroke="#1a9f7c" stroke-width="1.1"/><path d="M431.4 344.5L437.1 344.5L434.2 339.5Z" fill="none" stroke="#1a9f7c" stroke-width="1.1"/><path d="M433.9 328.9L439.6 328.9L436.8 323.9Z" fill="none" stroke="#1a9f7c" stroke-width="1.1"/><path d="M425.8 325.7L431.4 325.7L428.6 320.7Z" fill="none" stroke="#1a9f7c" stroke-width="1.1"/><path d="M425.8 332.6L431.4 332.6L428.6 327.6Z" fill="none" stroke="#1a9f7c" stroke-width="1.1"/><path d="M430.8 330.1L436.4 330.1L433.6 325.1Z" fill="none" stroke="#1a9f7c" stroke-width="1.1"/><path d="M458.9 343.2L464.6 343.2L461.8 338.2Z" fill="none" stroke="#1a9f7c" stroke-width="1.1"/><path d="M462.7 343.9L468.3 343.9L465.5 338.9Z" fill="none" stroke="#1a9f7c" stroke-width="1.1"/><path d="M496.7 269.4L502.3 269.4L499.5 264.4Z" fill="none" stroke="#1a9f7c" stroke-width="1.1"/><path d="M487.1 326.4L492.7 326.4L489.9 321.4Z" fill="none" stroke="#1a9f7c" stroke-width="1.1"/><path d="M497.1 330.5L502.7 330.5L499.9 325.5Z" fill="none" stroke="#1a9f7c" stroke-width="1.1"/><path d="M509.6 335.5L515.2 335.5L512.4 330.5Z" fill="none" stroke="#1a9f7c" stroke-width="1.1"/><path d="M529.0 335.7L534.5 335.7L531.8 330.7Z" fill="none" stroke="#1a9f7c" stroke-width="1.1"/><circle cx="377.7" cy="339.5" r="2.5" fill="none" stroke="#d9472b" stroke-width="1.1"/><rect x="402.6" y="338.5" width="3.9" height="3.9" fill="none" stroke="#3eb0d5" stroke-width="1.1"/><path d="M403.3 341.0L408.9 341.0L406.1 336.0Z" fill="none" stroke="#1a9f7c" stroke-width="1.1"/><path d="M396.1 338.5L401.7 338.5L398.9 333.5Z" fill="none" stroke="#1a9f7c" stroke-width="1.1"/><path d="M371.1 345.0L376.7 345.0L373.9 340.0Z" fill="none" stroke="#1a9f7c" stroke-width="1.1"/><rect x="418.3" y="333.9" width="3.9" height="3.9" fill="none" stroke="#3eb0d5" stroke-width="1.1"/><rect x="403.8" y="332.0" width="3.9" height="3.9" fill="none" stroke="#3eb0d5" stroke-width="1.1"/><circle cx="380.7" cy="339.2" r="2.5" fill="none" stroke="#d9472b" stroke-width="1.1"/><path d="M389.7 331.4L395.3 331.4L392.5 326.4Z" fill="none" stroke="#1a9f7c" stroke-width="1.1"/><path d="M374.3 336.1L379.9 336.1L377.1 331.1Z" fill="none" stroke="#1a9f7c" stroke-width="1.1"/><rect x="425.8" y="332.6" width="3.9" height="3.9" fill="none" stroke="#3eb0d5" stroke-width="1.1"/><circle cx="422.0" cy="339.2" r="2.5" fill="none" stroke="#d9472b" stroke-width="1.1"/><circle cx="401.7" cy="330.6" r="2.5" fill="none" stroke="#d9472b" stroke-width="1.1"/><path d="M412.3 341.5L417.9 341.5L415.1 336.5Z" fill="none" stroke="#1a9f7c" stroke-width="1.1"/><path d="M393.9 342.9L399.5 342.9L396.7 337.9Z" fill="none" stroke="#1a9f7c" stroke-width="1.1"/><circle cx="376.1" cy="340.0" r="2.5" fill="none" stroke="#d9472b" stroke-width="1.1"/><rect x="425.2" y="334.8" width="3.9" height="3.9" fill="none" stroke="#3eb0d5" stroke-width="1.1"/><path d="M410.7 338.6L416.3 338.6L413.5 333.6Z" fill="none" stroke="#1a9f7c" stroke-width="1.1"/><path d="M380.0 336.6L385.6 336.6L382.8 331.6Z" fill="none" stroke="#1a9f7c" stroke-width="1.1"/><rect x="375.8" y="342.2" width="3.9" height="3.9" fill="none" stroke="#3eb0d5" stroke-width="1.1"/><circle cx="402.6" cy="329.8" r="2.5" fill="none" stroke="#d9472b" stroke-width="1.1"/><path d="M384.7 333.2L390.3 333.2L387.5 328.2Z" fill="none" stroke="#1a9f7c" stroke-width="1.1"/><rect x="373.8" y="339.7" width="3.9" height="3.9" fill="none" stroke="#3eb0d5" stroke-width="1.1"/><rect x="394.7" y="337.3" width="3.9" height="3.9" fill="none" stroke="#3eb0d5" stroke-width="1.1"/><path d="M414.3 336.9L419.9 336.9L417.1 331.9Z" fill="none" stroke="#1a9f7c" stroke-width="1.1"/><path d="M372.6 345.2L378.2 345.2L375.4 340.2Z" fill="none" stroke="#1a9f7c" stroke-width="1.1"/><circle cx="379.3" cy="339.6" r="2.5" fill="none" stroke="#d9472b" stroke-width="1.1"/><circle cx="425.6" cy="339.6" r="2.5" fill="none" stroke="#d9472b" stroke-width="1.1"/><path d="M420.8 340.3L426.4 340.3L423.6 335.3Z" fill="none" stroke="#1a9f7c" stroke-width="1.1"/><path d="M396.8 329.8L402.4 329.8L399.6 324.8Z" fill="none" stroke="#1a9f7c" stroke-width="1.1"/><circle cx="375.6" cy="328.4" r="2.5" fill="none" stroke="#d9472b" stroke-width="1.1"/><path d="M392.3 330.8L397.9 330.8L395.1 325.8Z" fill="none" stroke="#1a9f7c" stroke-width="1.1"/><path d="M418.7 335.4L424.3 335.4L421.5 330.4Z" fill="none" stroke="#1a9f7c" stroke-width="1.1"/><circle cx="393.6" cy="337.0" r="2.5" fill="none" stroke="#d9472b" stroke-width="1.1"/><path d="M373.0 339.1L378.6 339.1L375.8 334.1Z" fill="none" stroke="#1a9f7c" stroke-width="1.1"/><path d="M409.5 342.5L415.1 342.5L412.3 337.5Z" fill="none" stroke="#1a9f7c" stroke-width="1.1"/><path d="M377.0 343.2L382.6 343.2L379.8 338.2Z" fill="none" stroke="#1a9f7c" stroke-width="1.1"/><circle cx="423.5" cy="338.1" r="2.5" fill="none" stroke="#d9472b" stroke-width="1.1"/><path d="M389.3 339.7L394.9 339.7L392.1 334.7Z" fill="none" stroke="#1a9f7c" stroke-width="1.1"/><path d="M374.4 345.3L380.0 345.3L377.2 340.3Z" fill="none" stroke="#1a9f7c" stroke-width="1.1"/><rect x="389.8" y="327.5" width="3.9" height="3.9" fill="none" stroke="#3eb0d5" stroke-width="1.1"/><circle cx="371.3" cy="333.4" r="2.5" fill="none" stroke="#d9472b" stroke-width="1.1"/><path d="M417.6 334.1L423.2 334.1L420.4 329.1Z" fill="none" stroke="#1a9f7c" stroke-width="1.1"/><rect x="423.2" y="338.9" width="3.9" height="3.9" fill="none" stroke="#3eb0d5" stroke-width="1.1"/><circle cx="431.4" cy="341.4" r="2.5" fill="none" stroke="#d9472b" stroke-width="1.1"/><rect x="435.0" y="341.6" width="3.9" height="3.9" fill="none" stroke="#3eb0d5" stroke-width="1.1"/><path d="M426.6 332.6L432.2 332.6L429.4 327.6Z" fill="none" stroke="#1a9f7c" stroke-width="1.1"/><rect x="429.4" y="334.7" width="3.9" height="3.9" fill="none" stroke="#3eb0d5" stroke-width="1.1"/><circle cx="428.2" cy="333.3" r="2.5" fill="none" stroke="#d9472b" stroke-width="1.1"/><path d="M425.8 332.2L431.4 332.2L428.6 327.2Z" fill="none" stroke="#1a9f7c" stroke-width="1.1"/><path d="M436.5 328.3L442.1 328.3L439.3 323.3Z" fill="none" stroke="#1a9f7c" stroke-width="1.1"/><path d="M428.4 343.6L434.0 343.6L431.2 338.6Z" fill="none" stroke="#1a9f7c" stroke-width="1.1"/><path d="M434.6 338.2L440.2 338.2L437.4 333.2Z" fill="none" stroke="#1a9f7c" stroke-width="1.1"/><path d="M459.2 343.4L464.8 343.4L462.0 338.4Z" fill="none" stroke="#1a9f7c" stroke-width="1.1"/><path d="M466.6 342.8L472.2 342.8L469.4 337.8Z" fill="none" stroke="#1a9f7c" stroke-width="1.1"/><path d="M470.9 342.7L476.5 342.7L473.7 337.7Z" fill="none" stroke="#1a9f7c" stroke-width="1.1"/><circle cx="473.4" cy="335.9" r="2.5" fill="none" stroke="#d9472b" stroke-width="1.1"/><circle cx="474.1" cy="342.4" r="2.5" fill="none" stroke="#d9472b" stroke-width="1.1"/><path d="M456.0 339.5L461.6 339.5L458.8 334.5Z" fill="none" stroke="#1a9f7c" stroke-width="1.1"/><path d="M473.5 340.3L479.1 340.3L476.3 335.3Z" fill="none" stroke="#1a9f7c" stroke-width="1.1"/><rect x="458.5" y="341.0" width="3.9" height="3.9" fill="none" stroke="#3eb0d5" stroke-width="1.1"/></g>
<path d="M369.0 345.0v-2.4M369.0 204.5v2.4" stroke="#222" stroke-width="0.8"/><text x="369.0" y="359.8" font-size="12" text-anchor="middle" fill="#1c1c1c">0</text><path d="M418.0 345.0v-2.4M418.0 204.5v2.4" stroke="#222" stroke-width="0.8"/><text x="418.0" y="359.8" font-size="12" text-anchor="middle" fill="#1c1c1c">0.02</text><path d="M467.0 345.0v-2.4M467.0 204.5v2.4" stroke="#222" stroke-width="0.8"/><text x="467.0" y="359.8" font-size="12" text-anchor="middle" fill="#1c1c1c">0.04</text><path d="M516.0 345.0v-2.4M516.0 204.5v2.4" stroke="#222" stroke-width="0.8"/><text x="516.0" y="359.8" font-size="12" text-anchor="middle" fill="#1c1c1c">0.06</text><path d="M565.0 345.0v-2.4M565.0 204.5v2.4" stroke="#222" stroke-width="0.8"/><text x="565.0" y="359.8" font-size="12" text-anchor="middle" fill="#1c1c1c">0.08</text><path d="M369 345.0h2.4M565 345.0h-2.4" stroke="#222" stroke-width="0.8"/><text x="365.1" y="349.4" font-size="12" text-anchor="end" fill="#1c1c1c">0</text><path d="M369 298.2h2.4M565 298.2h-2.4" stroke="#222" stroke-width="0.8"/><text x="365.1" y="302.6" font-size="12" text-anchor="end" fill="#1c1c1c">1</text><path d="M369 251.3h2.4M565 251.3h-2.4" stroke="#222" stroke-width="0.8"/><text x="365.1" y="255.7" font-size="12" text-anchor="end" fill="#1c1c1c">2</text><path d="M369 204.5h2.4M565 204.5h-2.4" stroke="#222" stroke-width="0.8"/><text x="365.1" y="208.9" font-size="12" text-anchor="end" fill="#1c1c1c">3</text><text x="467.4" y="375.4" font-size="13.4" font-style="italic" text-anchor="middle" fill="#1c1c1c">F<tspan font-size="10.8" dx="-0.2" dy="6.6">r</tspan></text>
<rect x="595.4" y="205.4" width="75.4" height="43" fill="#fff" stroke="#222" stroke-width="0.8"/>
<circle cx="607.3" cy="213.4" r="2.05" fill="none" stroke="#d9472b" stroke-width="1.05"/>
<rect x="605.6" y="225.3" width="3.4" height="3.4" fill="none" stroke="#3eb0d5" stroke-width="1.1"/>
<path d="M604.9 242.4L609.7 242.4L607.3 237.8Z" fill="none" stroke="#1a9f7c" stroke-width="1.05"/>
<text x="619.4" y="217.6" font-size="12" fill="#1c1c1c">Training</text>
<text x="619.4" y="231.2" font-size="12" fill="#1c1c1c">Test</text>
<text x="619.4" y="244.6" font-size="12" fill="#1c1c1c">Prediction</text>
</svg></body></html>
